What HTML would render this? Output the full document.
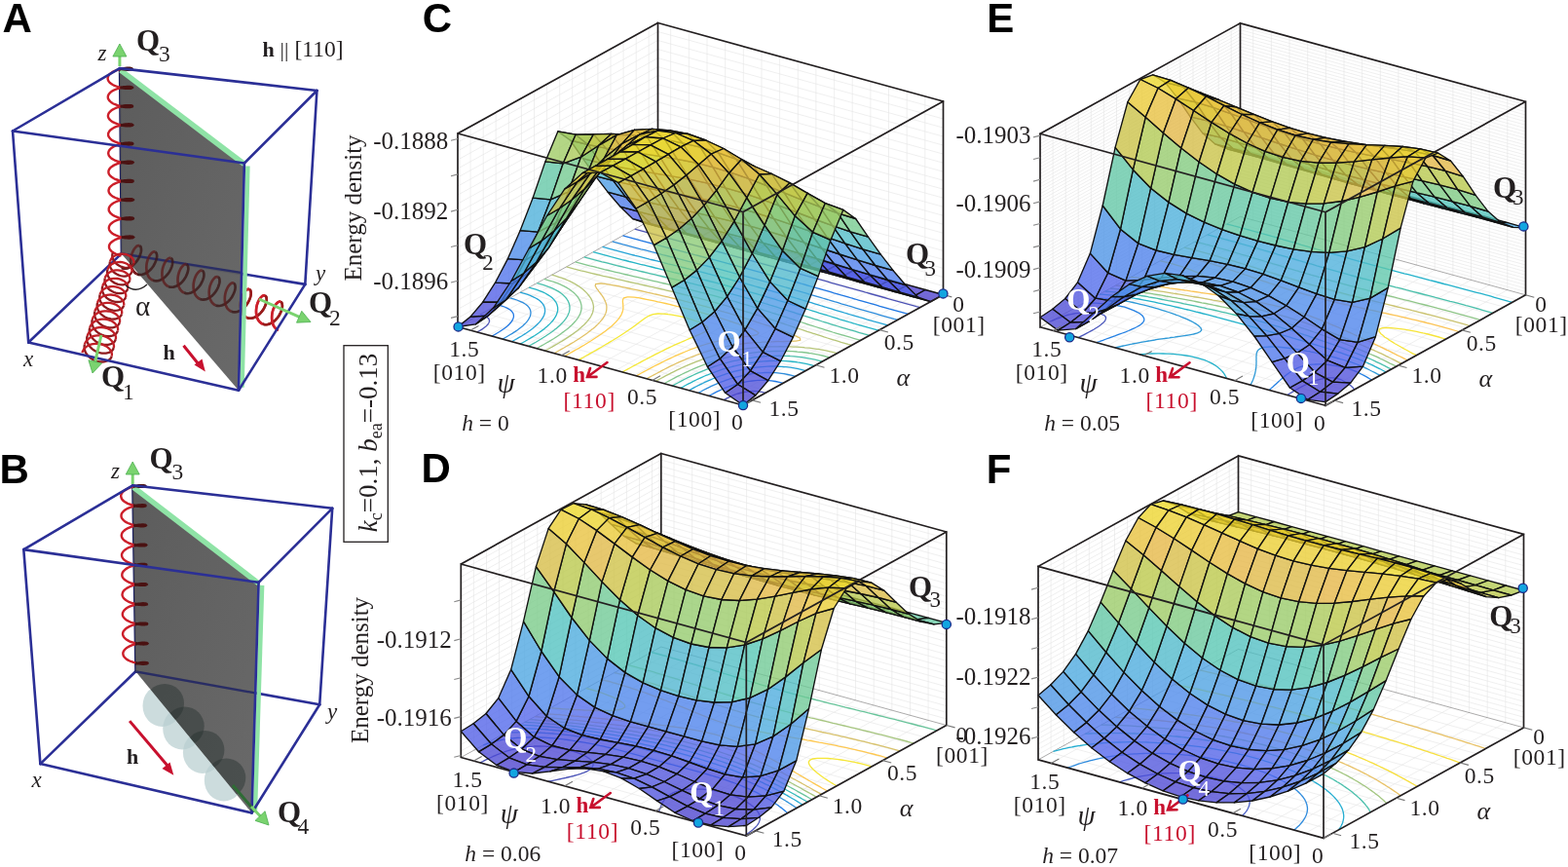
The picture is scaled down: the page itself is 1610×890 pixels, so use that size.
<!DOCTYPE html>
<html><head><meta charset="utf-8"><title>Energy density landscapes</title><style>html,body{margin:0;padding:0;background:#fff;overflow:hidden;}svg{display:block;}</style></head><body>
<svg width="1610" height="890" viewBox="0 0 1610 890">
<rect width="1610" height="890" fill="#fff"/>
<path d="M744.3,410.9L949.8,297.4M725.7,405.8L931.2,292.3M707.0,400.6L912.5,287.1M688.4,395.5L893.9,282.0M669.7,390.4L875.2,276.9M651.1,385.3L856.6,271.8M632.4,380.1L837.9,266.6M613.8,375.0L819.3,261.5M595.1,369.9L800.6,256.4M576.5,364.8L782.0,251.3M557.8,359.6L763.3,246.1M539.2,354.5L744.7,241.0M520.5,349.4L726.0,235.9M501.9,344.3L707.4,230.8M483.2,339.1L688.7,225.6M776.1,408.8L483.1,328.3M789.2,401.5L496.2,321.0M802.2,394.3L509.2,313.8M815.3,387.1L522.3,306.6M828.4,379.9L535.4,299.4M841.5,372.6L548.5,292.1M854.6,365.4L561.6,284.9M867.7,358.2L574.7,277.7M880.7,351.0L587.7,270.5M893.8,343.7L600.8,263.2M906.9,336.5L613.9,256.0M920.0,329.3L627.0,248.8M933.1,322.1L640.1,241.6M946.2,314.8L653.2,234.3M959.2,307.6L666.2,227.1M483.1,328.3L483.1,129.8M496.2,321.0L496.2,122.5M509.2,313.8L509.2,115.3M522.3,306.6L522.3,108.1M535.4,299.4L535.4,100.9M548.5,292.1L548.5,93.6M561.6,284.9L561.6,86.4M574.7,277.7L574.7,79.2M587.7,270.5L587.7,72.0M600.8,263.2L600.8,64.7M613.9,256.0L613.9,57.5M627.0,248.8L627.0,50.3M640.1,241.6L640.1,43.1M653.2,234.3L653.2,35.8M666.2,227.1L666.2,28.6M470.0,326.5L675.5,213.0M470.0,317.5L675.5,204.0M470.0,308.4L675.5,194.9M470.0,299.4L675.5,185.9M470.0,290.4L675.5,176.9M470.0,281.4L675.5,167.9M470.0,272.3L675.5,158.8M470.0,263.3L675.5,149.8M470.0,254.3L675.5,140.8M470.0,245.3L675.5,131.8M470.0,236.2L675.5,122.8M470.0,227.2L675.5,113.7M470.0,218.2L675.5,104.7M470.0,209.2L675.5,95.7M470.0,200.2L675.5,86.7M470.0,191.1L675.5,77.6M470.0,182.1L675.5,68.6M470.0,173.1L675.5,59.6M470.0,164.1L675.5,50.6M470.0,155.0L675.5,41.5M470.0,146.0L675.5,32.5M949.8,297.4L949.8,98.9M931.2,292.3L931.2,93.8M912.5,287.1L912.5,88.6M893.9,282.0L893.9,83.5M875.2,276.9L875.2,78.4M856.6,271.8L856.6,73.3M837.9,266.6L837.9,68.1M819.3,261.5L819.3,63.0M800.6,256.4L800.6,57.9M782.0,251.3L782.0,52.8M763.3,246.1L763.3,47.6M744.7,241.0L744.7,42.5M726.0,235.9L726.0,37.4M707.4,230.8L707.4,32.3M688.7,225.6L688.7,27.1M968.5,293.5L675.5,213.0M968.5,284.5L675.5,204.0M968.5,275.4L675.5,194.9M968.5,266.4L675.5,185.9M968.5,257.4L675.5,176.9M968.5,248.4L675.5,167.9M968.5,239.3L675.5,158.8M968.5,230.3L675.5,149.8M968.5,221.3L675.5,140.8M968.5,212.3L675.5,131.8M968.5,203.2L675.5,122.8M968.5,194.2L675.5,113.7M968.5,185.2L675.5,104.7M968.5,176.2L675.5,95.7M968.5,167.2L675.5,86.7M968.5,158.1L675.5,77.6M968.5,149.1L675.5,68.6M968.5,140.1L675.5,59.6M968.5,131.1L675.5,50.6M968.5,122.0L675.5,41.5M968.5,113.0L675.5,32.5" stroke="#e4e4e4" stroke-width="0.6" fill="none"/>
<path d="M470.0,335.5L675.5,222.0M675.5,222.0L968.5,302.5" stroke="#231f20" stroke-width="0.96" fill="none" stroke-opacity="0.4"/>
<path d="M675.5,23.5L675.5,133.9" stroke="#231f20" stroke-width="1.7" fill="none"/>
<path d="M489.8,340.9L492.4,339.5L494.8,338.1L497.0,336.5L499.0,335.0L500.0,334.1L500.7,333.3L501.9,331.5L502.6,329.6L502.6,329.6L501.9,327.3L501.8,327.0L499.6,325.2L496.5,323.9L493.0,322.8M786.0,403.3L782.2,402.4L777.9,401.7L772.8,401.5L772.2,401.5L766.4,402.1L766.3,402.1L762.0,403.0L758.0,404.0L756.3,404.5L754.5,405.2L751.4,406.4L748.5,407.8L745.8,409.1L743.2,410.6M651.7,235.2L655.3,236.2L659.0,237.2L662.7,238.2L666.3,239.2L670.0,240.2L673.7,241.2L677.4,242.2L681.0,243.2L684.7,244.2L688.4,245.2L692.1,246.2L695.8,247.2L699.4,248.2L703.1,249.1L706.8,250.1L710.5,251.1L714.2,252.1L717.9,253.1L721.6,254.1L725.2,255.1L728.9,256.1L732.6,257.1L736.3,258.1L740.0,259.1L743.7,260.1L747.4,261.1L751.0,262.1L754.7,263.1L758.4,264.1L762.1,265.1L765.8,266.1L769.4,267.1L773.1,268.1L776.8,269.1L780.5,270.1L784.1,271.1L787.8,272.1L791.5,273.1L795.1,274.1L798.8,275.1L802.4,276.1L806.1,277.1L809.8,278.1L813.4,279.1L817.1,280.1L820.7,281.1L824.4,282.1L828.0,283.2L831.7,284.2L835.3,285.2L839.0,286.2L842.6,287.2L846.3,288.2L849.9,289.2L853.5,290.3L857.2,291.3L860.8,292.3L864.5,293.3L868.1,294.3L871.7,295.4L875.4,296.4L879.0,297.4L882.7,298.4L886.3,299.4L889.9,300.5L893.6,301.5L897.2,302.5L900.9,303.5L904.5,304.5L908.1,305.5L911.8,306.6L915.4,307.6L919.1,308.6L922.7,309.6L926.4,310.6L930.0,311.6L933.7,312.6L937.4,313.6L941.0,314.7L944.7,315.7" stroke="#4d53b5" stroke-width="1.3" fill="none"/>
<path d="M505.0,345.1L507.5,343.7L510.0,342.2L512.5,340.8L514.8,339.3L517.0,337.8L519.1,336.2L521.0,334.7L521.3,334.4L522.8,333.0L524.3,331.3L525.6,329.5L526.2,328.7L526.6,327.7L527.3,325.7L527.4,325.0L527.4,323.6L527.1,322.1L526.7,321.3L525.7,319.9L524.4,318.6L523.7,318.0L521.0,316.4L518.0,315.0L514.6,313.9L511.0,312.8M804.0,393.3L800.3,392.4L796.3,391.5L792.1,390.9L787.4,390.4L785.7,390.4L782.1,390.3L778.3,390.4L776.1,390.6L772.4,391.0L769.2,391.4L767.4,391.7L762.9,392.6L760.6,393.1L758.7,393.6L754.9,394.7L751.3,395.8L748.3,396.8L747.9,397.0L744.7,398.2L741.7,399.5L738.8,400.8L736.0,402.2L733.2,403.6L730.6,405.0L728.0,406.4M639.5,241.9L643.1,242.9L646.8,243.9L650.5,244.9L654.2,245.9L657.8,246.9L658.7,247.1L661.5,247.9L665.2,248.9L668.9,249.9L672.6,250.8L676.3,251.8L680.0,252.8L683.8,253.8L687.5,254.8L691.2,255.7L694.9,256.7L698.6,257.7L702.4,258.7L706.1,259.6L709.8,260.6L713.5,261.6L717.3,262.5L721.0,263.5L724.7,264.5L728.4,265.5L732.1,266.4L735.9,267.4L739.6,268.4L743.3,269.4L747.0,270.4L750.7,271.3L754.4,272.3L758.1,273.3L761.8,274.3L765.5,275.3L769.2,276.3L772.8,277.3L776.5,278.3L780.2,279.3L783.9,280.3L787.5,281.3L791.2,282.3L794.8,283.3L798.5,284.3L802.1,285.3L805.8,286.4L809.4,287.4L813.1,288.4L816.7,289.4L820.3,290.4L823.9,291.5L827.6,292.5L831.2,293.5L834.8,294.6L838.4,295.6L842.0,296.6L845.6,297.7L849.2,298.7L852.8,299.7L856.4,300.8L860.0,301.8L863.6,302.9L867.2,303.9L870.8,304.9L874.4,306.0L878.0,307.0L881.6,308.1L885.3,309.1L888.9,310.1L892.5,311.2L896.1,312.2L899.7,313.2L903.3,314.3L907.0,315.3L910.6,316.3L913.3,317.1L914.2,317.3L917.9,318.4L921.5,319.4L925.2,320.4L928.8,321.4L932.5,322.4" stroke="#2078e4" stroke-width="1.3" fill="none"/>
<path d="M516.0,348.1L518.5,346.7L521.0,345.3L523.5,343.8L525.9,342.4L528.2,340.9L530.5,339.4L532.6,337.8L534.7,336.3L535.2,335.8L536.6,334.7L538.3,333.0L540.0,331.4L541.5,329.6L541.8,329.2L542.7,327.9L543.7,326.0L544.3,324.8L544.5,324.1L544.9,322.1L545.0,321.3L544.9,320.0L544.6,318.5L544.3,317.7L543.5,316.1L542.7,315.1L541.8,314.0L539.6,312.2L539.2,312.0L536.9,310.7L534.0,309.3L530.7,308.0L527.3,306.9L523.7,305.9M816.7,386.4L813.0,385.4L809.1,384.5L805.0,383.7L800.6,383.1L796.5,382.7L795.9,382.7L790.8,382.5L787.9,382.5L785.2,382.5L781.2,382.8L779.0,382.9L775.4,383.3L772.1,383.7L770.3,384.0L765.6,384.8L764.0,385.1L761.2,385.8L757.1,386.8L754.2,387.5L753.2,387.8L749.5,388.9L746.0,390.1L742.7,391.3L740.3,392.2L739.4,392.5L736.3,393.8L733.3,395.1L730.4,396.4L727.6,397.8L724.9,399.2L722.2,400.5L719.6,402.0L717.0,403.4M628.7,247.9L632.3,248.9L636.0,249.9L639.7,250.9L643.4,251.8L647.1,252.8L650.8,253.8L654.5,254.8L658.2,255.8L661.9,256.7L665.7,257.7L669.4,258.7L673.2,259.6L676.0,260.4L676.9,260.6L680.6,261.6L684.4,262.5L688.1,263.5L691.9,264.4L695.7,265.4L699.4,266.3L703.2,267.3L706.9,268.3L710.7,269.2L714.4,270.2L718.2,271.1L721.9,272.1L725.7,273.0L729.4,274.0L733.2,275.0L736.9,275.9L740.6,276.9L744.3,277.9L748.0,278.9L751.8,279.8L755.5,280.8L759.2,281.8L762.9,282.8L766.5,283.8L770.2,284.8L773.9,285.8L777.6,286.8L781.2,287.8L784.9,288.8L788.5,289.8L792.2,290.9L795.8,291.9L799.4,292.9L803.0,293.9L806.6,295.0L810.3,296.0L813.9,297.0L817.5,298.1L821.1,299.1L824.6,300.2L828.2,301.2L831.8,302.3L835.4,303.3L839.0,304.4L842.5,305.4L846.1,306.5L849.7,307.5L853.2,308.6L856.8,309.7L860.4,310.7L863.9,311.8L867.5,312.8L871.1,313.9L874.7,314.9L875.5,315.2L878.3,316.0L881.8,317.0L885.4,318.1L889.0,319.1L892.6,320.2L896.2,321.2L899.8,322.2L903.5,323.3L907.1,324.3L910.7,325.3L914.4,326.3L918.0,327.4L921.7,328.4" stroke="#2f8ddc" stroke-width="1.3" fill="none"/>
<path d="M525.4,350.7L528.0,349.3L530.5,347.9L533.0,346.4L535.5,345.0L537.8,343.5L538.4,343.1L540.2,342.0L542.4,340.5L544.5,339.0L546.6,337.4L548.6,335.8L550.4,334.2L552.2,332.6L552.3,332.4L553.8,330.9L555.2,329.2L556.5,327.4L556.9,326.9L557.6,325.6L558.6,323.7L558.9,322.7L559.2,321.8L559.6,319.7L559.6,319.3L559.5,317.6L559.4,316.4L559.1,315.4L558.5,313.9L557.9,312.9L557.1,311.6L555.8,310.2L555.2,309.6L553.0,307.8L551.6,306.9L550.5,306.2L547.6,304.8L544.5,303.4L541.2,302.2L537.7,301.1L534.1,300.1M827.1,380.6L823.4,379.6L819.5,378.7L815.5,377.9L811.3,377.2L806.8,376.6L804.7,376.5L802.1,376.3L797.0,376.0L795.4,376.0L791.5,376.0L788.1,376.2L785.6,376.3L781.8,376.6L779.1,376.8L776.2,377.1L772.0,377.7L771.0,377.8L766.3,378.7L764.0,379.1L761.8,379.6L757.6,380.5L754.7,381.2L753.5,381.5L749.7,382.6L746.0,383.7L742.8,384.8L742.5,384.9L739.1,386.1L735.8,387.3L732.6,388.5L729.6,389.8L726.6,391.1L723.7,392.4L721.6,393.5L720.8,393.8L718.1,395.2L715.4,396.5L712.7,397.9L710.1,399.4L707.6,400.8M618.6,253.4L622.3,254.4L625.9,255.4L629.6,256.4L633.3,257.4L637.0,258.4L640.8,259.4L644.5,260.3L648.2,261.3L651.0,262.0L652.0,262.3L655.7,263.2L659.5,264.2L663.2,265.1L667.0,266.1L670.8,267.0L674.6,267.9L678.4,268.9L682.1,269.8L685.9,270.8L689.7,271.7L693.5,272.6L697.3,273.6L701.1,274.5L704.8,275.5L708.6,276.4L712.4,277.3L716.2,278.3L719.9,279.2L723.7,280.2L727.4,281.2L731.2,282.1L734.9,283.1L738.7,284.0L742.4,285.0L743.9,285.4L746.1,286.0L749.8,287.0L753.5,288.0L757.2,288.9L760.9,289.9L764.6,290.9L768.2,291.9L771.9,292.9L775.6,294.0L779.2,295.0L782.8,296.0L786.4,297.0L790.1,298.1L792.2,298.7L793.7,299.1L797.3,300.1L800.9,301.2L804.4,302.2L808.0,303.3L811.6,304.3L815.2,305.4L818.7,306.5L822.3,307.5L825.8,308.6L829.4,309.7L832.9,310.7L836.5,311.8L840.0,312.9L843.5,314.0L847.1,315.0L850.6,316.1L854.2,317.2L857.7,318.3L861.2,319.3L864.8,320.4L868.3,321.5L871.9,322.5L875.5,323.6L879.0,324.6L880.0,324.9L882.6,325.7L886.2,326.7L889.8,327.8L893.4,328.8L897.0,329.9L900.7,330.9L904.3,331.9L907.9,332.9L911.6,333.9" stroke="#26a4d6" stroke-width="1.3" fill="none"/>
<path d="M534.2,353.1L536.7,351.7L539.3,350.3L541.8,348.8L544.2,347.4L546.7,345.9L549.0,344.5L551.3,343.0L553.5,341.5L555.7,339.9L557.0,338.9L557.8,338.4L559.7,336.8L561.6,335.2L563.4,333.6L565.1,331.9L566.0,330.9L566.7,330.2L568.1,328.5L569.4,326.7L570.0,325.7L570.5,324.9L571.4,323.0L571.9,321.6L572.1,321.1L572.6,319.1L572.7,318.2L572.7,317.0L572.6,315.2L572.5,314.8L571.9,312.5L571.9,312.5L570.8,310.1L570.7,310.1L569.2,308.0L568.6,307.4L567.3,306.0L565.2,304.3L565.1,304.2L562.5,302.6L559.8,301.0L558.0,300.2L556.8,299.7L553.6,298.4L550.3,297.2L546.7,296.1L543.1,295.1M836.1,375.6L832.4,374.6L828.6,373.7L824.7,372.9L820.5,372.1L818.9,371.9L816.2,371.5L811.6,371.0L806.8,370.6L806.6,370.6L801.7,370.4L798.0,370.4L796.3,370.4L790.7,370.5L790.5,370.5L784.4,370.9L784.3,370.9L778.6,371.4L777.7,371.5L773.3,372.1L770.4,372.5L768.3,372.8L763.6,373.7L762.4,373.9L759.2,374.6L755.0,375.6L753.1,376.0L751.0,376.6L747.1,377.6L743.4,378.7L741.8,379.2L739.8,379.9L736.4,381.1L733.0,382.3L729.8,383.5L726.6,384.8L725.5,385.2L723.5,386.0L720.6,387.3L717.7,388.7L714.8,390.0L712.0,391.4L709.3,392.8L706.6,394.1L704.0,395.5L701.4,397.0L698.8,398.4M609.0,258.7L612.7,259.7L616.4,260.7L620.0,261.7L623.8,262.7L627.5,263.7L631.2,264.6L634.9,265.6L638.7,266.6L642.5,267.5L646.2,268.5L650.0,269.4L653.8,270.3L657.6,271.3L661.4,272.2L665.2,273.1L669.0,274.0L672.8,275.0L676.6,275.9L680.5,276.8L684.3,277.7L688.1,278.7L690.8,279.3L691.9,279.6L695.7,280.5L699.5,281.4L703.3,282.4L707.1,283.3L710.9,284.2L714.7,285.2L718.5,286.1L722.2,287.1L726.0,288.0L729.7,289.0L733.5,289.9L737.2,290.9L740.9,291.9L744.6,292.9L748.3,293.8L752.0,294.8L755.7,295.8L759.4,296.8L763.0,297.8L766.7,298.9L770.3,299.9L773.9,300.9L777.6,301.9L781.2,303.0L784.8,304.0L788.3,305.1L791.9,306.1L795.5,307.2L799.0,308.3L802.6,309.3L806.1,310.4L809.7,311.5L813.2,312.6L816.7,313.6L820.2,314.7L823.8,315.8L824.8,316.1L827.3,316.9L830.8,318.0L834.3,319.1L837.8,320.2L841.3,321.3L844.8,322.3L848.3,323.4L851.9,324.5L855.4,325.6L858.9,326.7L862.4,327.8L866.0,328.8L869.5,329.9L873.1,331.0L876.7,332.0L880.3,333.1L883.9,334.1L887.5,335.1L891.1,336.2L894.7,337.2L898.3,338.2L902.0,339.2" stroke="#26b5c6" stroke-width="1.3" fill="none"/>
<path d="M542.6,355.4L545.2,354.0L547.7,352.6L550.2,351.2L552.7,349.7L555.1,348.3L557.5,346.8L559.9,345.3L562.1,343.8L564.4,342.3L566.5,340.8L568.6,339.2L570.6,337.6L571.2,337.2L572.5,336.0L574.3,334.4L576.1,332.8L577.7,331.1L578.7,330.0L579.2,329.4L580.6,327.6L581.8,325.8L582.3,325.0L582.9,324.0L583.7,322.1L584.2,320.9L584.4,320.2L584.9,318.2L584.9,317.5L585.0,316.1L584.9,314.4L584.9,314.0L584.4,311.7L584.4,311.7L583.4,309.3L583.4,309.2L582.0,307.0L581.9,306.7L580.3,304.9L579.4,304.0L578.4,302.9L576.2,301.1L575.7,300.8L573.7,299.4L571.0,297.9L569.0,296.8L568.2,296.4L565.1,295.1L561.8,293.9L558.4,292.7L554.9,291.6L551.3,290.6M844.3,371.1L840.6,370.1L836.8,369.2L832.9,368.3L828.8,367.6L824.5,366.9L823.3,366.7L820.1,366.3L815.4,365.8L811.4,365.6L810.6,365.5L805.4,365.3L802.5,365.3L800.1,365.2L795.0,365.3L794.4,365.3L788.5,365.6L788.3,365.6L782.2,366.0L782.2,366.0L776.5,366.6L775.4,366.7L771.3,367.3L768.1,367.8L766.3,368.0L761.6,368.9L760.0,369.2L757.2,369.8L752.9,370.7L750.8,371.2L748.8,371.7L744.9,372.8L741.1,373.9L739.8,374.3L737.5,375.0L734.0,376.2L730.6,377.3L727.3,378.6L725.0,379.4L724.0,379.8L720.9,381.1L717.9,382.4L714.9,383.7L712.0,385.0L709.1,386.3L706.3,387.7L703.6,389.0L700.9,390.4L698.2,391.8L695.6,393.2L693.0,394.6L690.4,396.1M599.7,263.8L603.4,264.8L607.1,265.8L610.8,266.8L614.5,267.8L618.2,268.8L622.0,269.7L625.8,270.7L629.5,271.6L633.3,272.6L637.1,273.5L640.9,274.4L644.7,275.4L648.5,276.3L650.7,276.8L652.4,277.2L656.2,278.1L660.0,279.0L663.9,279.9L667.7,280.8L671.5,281.7L675.4,282.6L679.2,283.5L683.1,284.5L686.9,285.4L690.7,286.3L694.6,287.2L698.4,288.1L702.2,289.0L706.0,290.0L709.6,290.8L709.8,290.9L713.6,291.8L717.4,292.8L721.1,293.7L724.9,294.7L728.6,295.6L732.4,296.6L736.1,297.6L739.8,298.6L743.5,299.6L747.2,300.6L750.8,301.6L754.5,302.6L758.1,303.6L761.8,304.6L765.4,305.6L769.0,306.7L772.6,307.7L776.2,308.8L779.7,309.8L783.3,310.9L786.8,312.0L790.4,313.0L790.6,313.1L793.9,314.1L797.4,315.2L800.9,316.3L804.4,317.4L807.9,318.5L811.4,319.6L814.9,320.7L818.4,321.8L821.9,322.9L825.4,324.0L828.9,325.1L832.3,326.2L835.8,327.3L839.3,328.4L842.8,329.5L844.3,330.0L846.3,330.6L849.8,331.7L853.3,332.8L856.8,333.9L860.4,335.0L863.9,336.0L867.5,337.1L871.0,338.2L874.6,339.2L878.2,340.2L881.8,341.3L885.5,342.3L889.1,343.3L892.7,344.3" stroke="#4bc0ac" stroke-width="1.3" fill="none"/>
<path d="M551.0,357.8L553.6,356.3L556.1,354.9L558.6,353.5L561.1,352.0L563.6,350.6L566.0,349.1L566.1,349.1L568.4,347.7L570.7,346.2L573.0,344.7L575.2,343.2L577.3,341.6L579.4,340.1L581.5,338.5L583.4,336.9L584.8,335.7L585.3,335.3L587.0,333.7L588.7,332.0L590.3,330.3L591.3,329.1L591.7,328.6L593.0,326.8L594.2,325.0L594.6,324.2L595.2,323.2L596.0,321.3L596.3,320.3L596.6,319.3L597.0,317.3L597.0,316.9L597.1,315.2L597.0,313.8L596.9,313.0L596.4,311.1L596.3,310.7L595.5,308.6L595.4,308.3L594.2,306.3L593.9,305.8L592.7,304.1L591.8,303.1L590.9,302.1L588.9,300.2L588.8,300.2L586.6,298.4L584.4,296.8L584.2,296.7L581.6,295.1L578.8,293.6L576.6,292.6L575.8,292.2L572.7,290.9L569.4,289.7L566.0,288.5L562.5,287.5L558.8,286.4M851.8,366.9L848.1,366.0L844.4,365.0L840.5,364.1L836.4,363.3L832.2,362.6L831.0,362.5L827.8,362.0L823.3,361.5L818.6,361.1L818.1,361.0L813.7,360.7L808.6,360.5L808.5,360.5L803.3,360.4L800.5,360.4L797.8,360.5L793.2,360.6L792.0,360.6L786.6,360.9L785.9,360.9L780.5,361.3L779.6,361.4L774.8,361.9L772.8,362.1L769.5,362.6L765.5,363.1L764.5,363.3L759.7,364.1L757.5,364.5L755.2,365.0L750.9,365.9L748.4,366.5L746.7,366.9L742.7,367.9L738.9,369.0L737.8,369.4L735.2,370.1L731.6,371.3L728.2,372.4L724.8,373.6L724.0,373.9L721.5,374.9L718.3,376.1L715.2,377.4L712.2,378.7L709.2,380.0L706.3,381.3L703.4,382.6L700.6,384.0L697.9,385.3L697.8,385.3L695.1,386.7L692.4,388.1L689.8,389.5L687.2,390.9L684.6,392.3L682.0,393.7M590.7,268.8L594.4,269.8L598.1,270.8L601.8,271.8L605.5,272.8L609.3,273.7L613.0,274.7L616.8,275.6L620.6,276.6L624.4,277.5L628.2,278.4L632.0,279.3L635.9,280.2L639.7,281.1L643.6,282.0L647.4,282.9L651.3,283.8L655.1,284.7L659.0,285.6L662.9,286.5L663.0,286.6L666.7,287.4L670.6,288.3L674.5,289.2L678.3,290.1L682.2,291.0L686.1,291.9L689.9,292.8L693.7,293.7L697.6,294.6L701.4,295.6L705.2,296.5L709.0,297.4L712.8,298.4L716.5,299.3L720.3,300.3L724.0,301.2L726.3,301.8L727.7,302.2L731.5,303.2L735.2,304.2L738.8,305.1L742.5,306.2L746.2,307.2L749.8,308.2L753.4,309.2L757.0,310.2L758.4,310.6L760.6,311.3L764.2,312.3L767.8,313.4L771.4,314.5L774.9,315.5L778.4,316.6L781.9,317.7L785.5,318.8L789.0,319.9L792.4,321.0L795.9,322.1L799.4,323.2L802.9,324.3L806.3,325.4L809.8,326.5L813.2,327.7L816.6,328.7L816.7,328.8L820.2,329.9L823.6,331.0L827.1,332.1L830.5,333.3L834.0,334.4L837.5,335.5L841.0,336.6L844.5,337.7L848.0,338.8L851.5,339.9L855.0,341.0L858.5,342.0L862.1,343.1L865.7,344.2L869.2,345.2L872.8,346.2L876.5,347.3L880.1,348.3L883.7,349.3" stroke="#84c68e" stroke-width="1.3" fill="none"/>
<path d="M559.7,360.1L562.2,358.7L564.8,357.3L567.3,355.9L569.8,354.4L572.3,353.0L574.7,351.5L577.1,350.1L579.5,348.6L581.8,347.1L584.1,345.6L586.3,344.1L587.2,343.5L588.5,342.6L590.6,341.0L592.7,339.5L594.6,337.9L596.5,336.3L598.4,334.6L599.3,333.8L600.1,333.0L601.7,331.3L603.2,329.6L604.6,327.9L604.7,327.7L605.9,326.1L607.0,324.3L607.5,323.1L607.9,322.4L608.6,320.5L608.9,319.3L609.1,318.5L609.4,316.4L609.4,316.1L609.4,314.3L609.2,313.1L609.0,312.1L608.6,310.5L608.3,309.8L607.6,308.0L607.3,307.3L606.3,305.7L605.7,304.8L604.7,303.5L603.6,302.1L603.0,301.4L601.1,299.4L600.9,299.2L599.1,297.5L597.3,296.1L596.8,295.7L594.5,294.0L592.3,292.6L591.9,292.4L589.3,290.8L586.5,289.4L583.9,288.2L583.5,288.0L580.4,286.6L577.1,285.4L573.7,284.3L570.2,283.2L566.5,282.2M859.5,362.7L855.8,361.7L852.1,360.8L848.1,359.9L844.1,359.1L839.9,358.4L839.1,358.3L835.5,357.8L831.0,357.2L826.3,356.8L825.7,356.7L821.5,356.4L816.6,356.1L815.5,356.1L811.5,355.9L806.8,355.8L806.2,355.8L800.8,355.7L798.9,355.8L795.2,355.8L791.7,355.9L789.4,356.0L785.0,356.2L783.4,356.3L778.8,356.6L777.0,356.7L773.0,357.1L770.4,357.4L767.5,357.7L763.2,358.3L762.3,358.5L757.4,359.2L755.4,359.6L752.8,360.1L748.4,361.0L746.7,361.4L744.2,362.0L740.1,363.0L736.6,364.0L736.3,364.0L732.5,365.1L728.9,366.3L725.4,367.4L723.8,368.0L722.0,368.6L718.7,369.8L715.4,371.1L712.3,372.3L709.2,373.6L706.2,374.9L704.4,375.7L703.2,376.2L700.3,377.5L697.4,378.9L694.6,380.2L691.8,381.6L689.1,382.9L686.4,384.3L683.7,385.7L681.1,387.1L678.5,388.5L675.9,389.9L673.3,391.4M581.6,273.9L585.2,274.9L588.9,275.9L592.7,276.8L596.4,277.8L600.2,278.7L604.0,279.6L607.9,280.6L611.7,281.5L615.6,282.4L619.4,283.3L623.3,284.1L623.5,284.2L627.2,285.0L631.0,285.9L634.9,286.8L638.8,287.7L642.7,288.6L646.6,289.5L650.5,290.3L654.4,291.2L658.3,292.1L662.2,293.0L666.1,293.9L667.9,294.3L669.9,294.7L673.8,295.6L677.7,296.5L681.6,297.4L685.4,298.3L689.3,299.2L693.1,300.1L696.9,301.0L700.7,302.0L704.5,302.9L708.3,303.8L712.1,304.8L715.8,305.7L719.6,306.7L723.3,307.7L727.0,308.7L730.7,309.7L734.3,310.7L738.0,311.7L741.6,312.7L745.3,313.7L748.9,314.8L752.4,315.8L756.0,316.9L759.6,317.9L763.1,319.0L766.7,320.1L770.2,321.2L773.7,322.3L777.2,323.4L780.7,324.5L784.1,325.6L787.6,326.7L791.0,327.8L794.5,328.9L796.2,329.5L797.9,330.1L801.3,331.2L804.8,332.3L808.2,333.5L811.6,334.6L815.1,335.8L818.5,336.9L821.9,338.0L825.4,339.1L828.8,340.3L832.3,341.4L835.6,342.5L835.7,342.5L839.2,343.6L842.6,344.7L846.1,345.9L849.6,347.0L853.1,348.1L856.6,349.2L860.1,350.2L863.7,351.3L867.3,352.3L870.9,353.4L874.6,354.4" stroke="#b7c579" stroke-width="1.3" fill="none"/>
<path d="M569.0,362.7L571.5,361.3L574.1,359.8L576.6,358.4L578.2,357.5L579.1,357.0L581.6,355.5L584.1,354.1L586.5,352.6L589.0,351.2L591.3,349.7L593.7,348.2L596.0,346.7L598.2,345.2L600.4,343.7L602.6,342.2L604.7,340.6L606.7,339.1L607.9,338.1L608.7,337.5L610.6,335.9L612.4,334.3L614.1,332.6L615.7,330.9L616.0,330.6L617.2,329.2L618.6,327.5L619.8,325.7L620.0,325.4L620.9,323.8L621.7,322.0L622.0,321.2L622.4,320.0L622.8,318.0L622.8,317.7L622.9,315.9L622.9,314.7L622.8,313.7L622.4,311.9L622.3,311.5L621.5,309.4L621.4,309.1L620.3,307.0L620.2,306.6L619.0,304.7L618.6,304.1L617.5,302.5L616.7,301.5L615.9,300.3L614.7,298.8L614.3,298.2L612.6,296.1L612.6,296.1L611.4,293.8L611.2,293.6L611.6,291.6L616.4,291.0L617.2,291.0L621.1,291.4L625.4,292.1L629.7,292.8L633.8,293.5L635.1,293.7L637.8,294.3L641.8,295.1L645.8,296.0L649.7,296.8L653.7,297.7L657.6,298.5L661.5,299.4L665.4,300.3L669.3,301.1L671.2,301.6L673.2,302.0L677.1,302.9L681.0,303.8L684.8,304.7L688.6,305.6L692.5,306.5L696.3,307.5L700.0,308.4L703.8,309.3L707.6,310.3L711.3,311.3L715.1,312.2L718.8,313.2L722.5,314.2L726.2,315.2L729.8,316.2L733.4,317.2L737.0,318.3L740.6,319.3L744.2,320.4L747.8,321.4L751.3,322.5L754.9,323.6L758.4,324.6L761.9,325.7L765.4,326.8L768.9,327.9L772.3,329.1L775.8,330.2L777.5,330.8L779.2,331.3L782.6,332.5L786.1,333.6L789.5,334.7L792.9,335.9L796.2,337.1L799.6,338.2L803.0,339.4L806.3,340.6L808.6,341.4L809.6,341.8L812.8,343.1L815.9,344.4L818.9,345.8L821.3,347.0L821.5,347.4L821.7,349.3L817.0,350.1L816.5,350.1L810.5,350.4L810.4,350.4L804.8,350.5L803.3,350.6L799.1,350.6L796.1,350.7L793.3,350.8L789.1,350.9L787.5,351.0L782.4,351.2L781.5,351.3L776.0,351.6L775.3,351.6L770.0,352.1L768.9,352.2L764.4,352.6L762.0,352.9L759.0,353.3L754.7,354.0L754.0,354.1L749.3,354.9L746.5,355.4L744.8,355.8L740.6,356.7L737.2,357.6L736.5,357.7L732.6,358.8L728.8,359.9L725.8,360.8L725.2,361.0L721.7,362.2L718.2,363.3L714.9,364.5L711.7,365.8L710.4,366.3L708.5,367.0L705.4,368.3L702.4,369.6L699.4,370.9L696.4,372.2L693.5,373.5L690.7,374.9L687.9,376.2L685.1,377.6L682.4,379.0L679.7,380.4L677.0,381.8L674.4,383.2L673.5,383.7L671.8,384.6L669.2,386.0L666.6,387.4L664.0,388.8" stroke="#e2c267" stroke-width="1.3" fill="none"/>
<path d="M579.6,365.6L582.2,364.2L584.8,362.8L587.3,361.4L589.8,359.9L592.4,358.5L594.9,357.1L597.3,355.6L599.8,354.2L602.2,352.7L604.6,351.2L607.0,349.8L609.3,348.3L611.6,346.8L613.9,345.3L616.1,343.8L618.3,342.2L620.4,340.7L622.5,339.2L622.6,339.1L624.5,337.6L626.5,336.0L628.4,334.4L630.1,332.8L631.8,331.1L632.1,330.8L633.4,329.4L634.9,327.7L636.2,325.9L636.6,325.2L637.4,324.1L638.3,322.3L638.8,321.0L639.1,320.3L639.6,318.4L639.7,317.5L639.9,316.3L639.8,314.4L639.8,314.2L639.7,312.0L639.6,311.5L639.4,309.8L639.5,308.5L639.5,307.7L640.5,305.9L644.2,304.8L646.2,304.8L651.1,305.2L655.3,305.7L655.5,305.7L659.7,306.5L663.7,307.3L667.7,308.1L671.7,308.9L675.6,309.8L679.5,310.6L683.4,311.5L687.3,312.4L689.7,313.0L691.1,313.3L694.9,314.3L698.7,315.2L702.5,316.1L706.3,317.1L710.0,318.0L713.7,319.0L717.4,320.0L721.1,321.0L724.7,322.1L728.3,323.1L731.8,324.2L735.3,325.3L738.9,326.3L742.4,327.4L743.7,327.8L745.9,328.5L749.3,329.6L752.8,330.8L756.2,331.9L759.6,333.1L763.0,334.2L766.3,335.4L769.6,336.7L772.7,337.9L772.9,338.0L775.6,339.4L778.1,341.0L778.9,341.8L777.5,343.5L773.4,344.5L771.4,344.7L768.2,345.2L764.2,345.7L762.9,345.9L757.6,346.5L757.0,346.6L752.4,347.2L749.6,347.7L747.5,348.0L742.9,348.9L741.4,349.2L738.5,349.8L734.3,350.8L731.9,351.4L730.4,351.8L726.5,352.9L722.9,354.0L720.0,354.9L719.3,355.1L715.9,356.3L712.5,357.5L709.3,358.7L706.1,360.0L703.1,361.2L703.0,361.3L699.9,362.6L696.9,363.9L693.9,365.2L691.0,366.5L688.2,367.8L685.3,369.2L682.5,370.5L679.8,371.9L677.0,373.3L674.3,374.6L671.6,376.0L669.0,377.4L666.3,378.8L663.7,380.2L661.1,381.6L658.5,383.0L655.9,384.5L653.4,385.9" stroke="#fecc4d" stroke-width="1.3" fill="none"/>
<path d="M593.9,369.6L596.5,368.1L599.1,366.7L601.6,365.3L604.2,363.9L606.7,362.4L609.3,361.0L611.8,359.6L614.3,358.1L616.8,356.7L619.3,355.3L621.7,353.8L624.2,352.4L626.6,350.9L629.0,349.5L631.4,348.0L633.8,346.5L636.2,345.0L638.5,343.5L640.8,342.0L643.0,340.5L645.2,339.0L647.4,337.5L647.5,337.4L649.6,336.0L651.7,334.4L653.8,332.9L655.9,331.3L658.0,329.8L660.0,328.2L662.1,326.7L664.4,325.2L667.1,323.8L670.6,322.6L675.5,322.0L675.9,322.0L680.7,322.1L685.5,322.5L685.8,322.6L689.8,323.2L693.9,323.9L697.9,324.7L701.8,325.6L705.5,326.6L709.1,327.6L712.5,328.8L715.9,330.0L719.1,331.2L721.8,332.5L722.1,332.6L724.7,334.2L726.7,335.9L726.7,336.1L726.8,338.1L725.2,339.7L722.7,341.2L719.9,342.5L716.8,343.8L713.7,345.1L710.7,346.4L707.6,347.7L704.6,349.0L701.6,350.3L698.8,351.5L698.6,351.6L695.7,352.9L692.7,354.2L689.9,355.5L687.0,356.9L684.2,358.2L681.4,359.6L678.6,361.0L675.9,362.3L673.2,363.7L670.5,365.1L667.8,366.5L665.1,367.9L662.5,369.3L659.8,370.7L657.2,372.1L654.6,373.5L652.0,374.9L649.4,376.3L646.8,377.7L644.2,379.1L641.6,380.5L639.1,381.9" stroke="#f5e837" stroke-width="1.3" fill="none"/>
<g fill-opacity="0.78" stroke="#111" stroke-width="1.35" stroke-linejoin="round">
<polygon points="681.0,234.1 662.7,229.1 675.5,222.0 693.8,227.0" fill="#4c3fcc"/>
<polygon points="699.3,239.2 681.0,234.1 693.8,227.0 712.1,232.1" fill="#4c3fcc"/>
<polygon points="668.1,229.6 649.8,224.7 662.7,229.1 681.0,234.1" fill="#4d48d3"/>
<polygon points="717.6,244.2 699.3,239.2 712.1,232.1 730.4,237.1" fill="#4c3fcc"/>
<polygon points="686.4,234.5 668.1,229.6 681.0,234.1 699.3,239.2" fill="#4d48d4"/>
<polygon points="735.9,249.2 717.6,244.2 730.4,237.1 748.8,242.1" fill="#4c3fcc"/>
<polygon points="754.2,254.2 735.9,249.2 748.8,242.1 767.1,247.2" fill="#4c3fcc"/>
<polygon points="704.8,239.4 686.4,234.5 699.3,239.2 717.6,244.2" fill="#4d48d4"/>
<polygon points="655.3,217.1 637.0,212.2 649.8,224.7 668.1,229.6" fill="#5161e8"/>
<polygon points="772.5,259.3 754.2,254.2 767.1,247.2 785.4,252.2" fill="#4c3fcc"/>
<polygon points="723.1,244.2 704.8,239.4 717.6,244.2 735.9,249.2" fill="#4d48d4"/>
<polygon points="673.6,221.8 655.3,217.1 668.1,229.6 686.4,234.5" fill="#5161e9"/>
<polygon points="790.8,264.3 772.5,259.3 785.4,252.2 803.7,257.2" fill="#4c3fcc"/>
<polygon points="741.4,249.0 723.1,244.2 735.9,249.2 754.2,254.2" fill="#4d49d4"/>
<polygon points="691.9,226.3 673.6,221.8 686.4,234.5 704.8,239.4" fill="#5162e9"/>
<polygon points="809.2,269.3 790.8,264.3 803.7,257.2 822.0,262.2" fill="#4c3fcc"/>
<polygon points="759.7,253.9 741.4,249.0 754.2,254.2 772.5,259.3" fill="#4d49d4"/>
<polygon points="827.5,274.4 809.2,269.3 822.0,262.2 840.3,267.3" fill="#4c3fcc"/>
<polygon points="710.2,230.7 691.9,226.3 704.8,239.4 723.1,244.2" fill="#5163ea"/>
<polygon points="778.0,258.8 759.7,253.9 772.5,259.3 790.8,264.3" fill="#4d49d4"/>
<polygon points="642.4,202.1 624.1,197.2 637.0,212.2 655.3,217.1" fill="#4d7cec"/>
<polygon points="845.8,279.4 827.5,274.4 840.3,267.3 858.6,272.3" fill="#4c3fcc"/>
<polygon points="796.3,263.8 778.0,258.8 790.8,264.3 809.2,269.3" fill="#4d49d4"/>
<polygon points="728.5,235.2 710.2,230.7 723.1,244.2 741.4,249.0" fill="#5263ea"/>
<polygon points="660.8,206.5 642.4,202.1 655.3,217.1 673.6,221.8" fill="#4d7cec"/>
<polygon points="864.1,284.4 845.8,279.4 858.6,272.3 876.9,277.3" fill="#4c3fcc"/>
<polygon points="814.6,268.8 796.3,263.8 809.2,269.3 827.5,274.4" fill="#4d49d4"/>
<polygon points="746.8,239.7 728.5,235.2 741.4,249.0 759.7,253.9" fill="#5264eb"/>
<polygon points="679.1,210.7 660.8,206.5 673.6,221.8 691.9,226.3" fill="#4d7dec"/>
<polygon points="882.4,289.5 864.1,284.4 876.9,277.3 895.2,282.4" fill="#4c3fcc"/>
<polygon points="832.9,274.0 814.6,268.8 827.5,274.4 845.8,279.4" fill="#4d49d4"/>
<polygon points="765.2,244.4 746.8,239.7 759.7,253.9 778.0,258.8" fill="#5264eb"/>
<polygon points="697.4,214.7 679.1,210.7 691.9,226.3 710.2,230.7" fill="#4d7eec"/>
<polygon points="900.7,294.5 882.4,289.5 895.2,282.4 913.6,287.4" fill="#4c3fcc"/>
<polygon points="851.2,279.2 832.9,274.0 845.8,279.4 864.1,284.4" fill="#4d49d4"/>
<polygon points="629.6,185.4 611.3,180.6 624.1,197.2 642.4,202.1" fill="#4c9ce4"/>
<polygon points="783.5,249.3 765.2,244.4 778.0,258.8 796.3,263.8" fill="#5264eb"/>
<polygon points="715.7,218.7 697.4,214.7 710.2,230.7 728.5,235.2" fill="#4d7fec"/>
<polygon points="919.0,299.5 900.7,294.5 913.6,287.4 931.9,292.4" fill="#4c3fcc"/>
<polygon points="869.6,284.5 851.2,279.2 864.1,284.4 882.4,289.5" fill="#4d49d4"/>
<polygon points="801.8,254.5 783.5,249.3 796.3,263.8 814.6,268.8" fill="#5264eb"/>
<polygon points="647.9,189.6 629.6,185.4 642.4,202.1 660.8,206.5" fill="#4c9de4"/>
<polygon points="734.0,222.9 715.7,218.7 728.5,235.2 746.8,239.7" fill="#4d80ec"/>
<polygon points="937.3,304.6 919.0,299.5 931.9,292.4 950.2,297.5" fill="#4c3fcc"/>
<polygon points="887.9,289.7 869.6,284.5 882.4,289.5 900.7,294.5" fill="#4d48d4"/>
<polygon points="820.1,259.8 801.8,254.5 814.6,268.8 832.9,274.0" fill="#5264eb"/>
<polygon points="666.2,193.3 647.9,189.6 660.8,206.5 679.1,210.7" fill="#4c9ee3"/>
<polygon points="752.3,227.3 734.0,222.9 746.8,239.7 765.2,244.4" fill="#4c81ec"/>
<polygon points="955.7,309.6 937.3,304.6 950.2,297.5 968.5,302.5" fill="#4c3fcc"/>
<polygon points="906.2,294.9 887.9,289.7 900.7,294.5 919.0,299.5" fill="#4d48d4"/>
<polygon points="838.4,265.4 820.1,259.8 832.9,274.0 851.2,279.2" fill="#5264eb"/>
<polygon points="684.5,196.9 666.2,193.3 679.1,210.7 697.4,214.7" fill="#4ca0e3"/>
<polygon points="770.6,232.2 752.3,227.3 765.2,244.4 783.5,249.3" fill="#4c81ec"/>
<polygon points="616.8,167.4 598.4,162.7 611.3,180.6 629.6,185.4" fill="#4fbbc8"/>
<polygon points="924.5,300.1 906.2,294.9 919.0,299.5 937.3,304.6" fill="#4d48d4"/>
<polygon points="856.7,271.0 838.4,265.4 851.2,279.2 869.6,284.5" fill="#5263ea"/>
<polygon points="702.8,200.5 684.5,196.9 697.4,214.7 715.7,218.7" fill="#4ca2e2"/>
<polygon points="788.9,237.4 770.6,232.2 783.5,249.3 801.8,254.5" fill="#4c81ec"/>
<polygon points="942.8,305.2 924.5,300.1 937.3,304.6 955.7,309.6" fill="#4d48d3"/>
<polygon points="635.1,171.3 616.8,167.4 629.6,185.4 647.9,189.6" fill="#4fbcc7"/>
<polygon points="875.0,276.6 856.7,271.0 869.6,284.5 887.9,289.7" fill="#5163ea"/>
<polygon points="721.2,204.2 702.8,200.5 715.7,218.7 734.0,222.9" fill="#4ca4e2"/>
<polygon points="807.2,243.0 788.9,237.4 801.8,254.5 820.1,259.8" fill="#4c81ec"/>
<polygon points="893.3,282.2 875.0,276.6 887.9,289.7 906.2,294.9" fill="#5162e9"/>
<polygon points="653.4,174.7 635.1,171.3 647.9,189.6 666.2,193.3" fill="#50bdc5"/>
<polygon points="739.5,208.4 721.2,204.2 734.0,222.9 752.3,227.3" fill="#4ca5e1"/>
<polygon points="825.6,248.9 807.2,243.0 820.1,259.8 838.4,265.4" fill="#4d80ec"/>
<polygon points="911.7,287.5 893.3,282.2 906.2,294.9 924.5,300.1" fill="#5161e9"/>
<polygon points="671.7,177.8 653.4,174.7 666.2,193.3 684.5,196.9" fill="#50bfc3"/>
<polygon points="843.9,255.0 825.6,248.9 838.4,265.4 856.7,271.0" fill="#4d7fec"/>
<polygon points="757.8,213.2 739.5,208.4 752.3,227.3 770.6,232.2" fill="#4ca6e1"/>
<polygon points="603.9,148.5 585.6,144.0 598.4,162.7 616.8,167.4" fill="#74ca8e"/>
<polygon points="930.0,292.7 911.7,287.5 924.5,300.1 942.8,305.2" fill="#5161e8"/>
<polygon points="690.0,180.9 671.7,177.8 684.5,196.9 702.8,200.5" fill="#51c0c0"/>
<polygon points="514.0,310.2 495.7,310.2 508.5,290.2 526.8,291.0" fill="#515fe7"/>
<polygon points="526.8,291.0 508.5,290.2 521.4,265.6 539.7,266.8" fill="#4f73ec"/>
<polygon points="862.2,261.0 843.9,255.0 856.7,271.0 875.0,276.6" fill="#4d7eec"/>
<polygon points="776.1,218.5 757.8,213.2 770.6,232.2 788.9,237.4" fill="#4ca6e1"/>
<polygon points="501.2,324.1 482.8,325.4 495.7,310.2 514.0,310.2" fill="#4e4fd9"/>
<polygon points="622.2,152.1 603.9,148.5 616.8,167.4 635.1,171.3" fill="#76ca8c"/>
<polygon points="539.7,266.8 521.4,265.6 534.2,236.6 552.5,238.1" fill="#4c8ce9"/>
<polygon points="880.5,266.9 862.2,261.0 875.0,276.6 893.3,282.2" fill="#4d7dec"/>
<polygon points="708.3,184.2 690.0,180.9 702.8,200.5 721.2,204.2" fill="#51c2bd"/>
<polygon points="794.4,224.4 776.1,218.5 788.9,237.4 807.2,243.0" fill="#4ca5e1"/>
<polygon points="488.3,332.9 470.0,335.5 482.8,325.4 501.2,324.1" fill="#4d47d2"/>
<polygon points="552.5,238.1 534.2,236.6 547.1,203.2 565.4,204.9" fill="#4cafda"/>
<polygon points="640.5,155.0 622.2,152.1 635.1,171.3 653.4,174.7" fill="#79ca88"/>
<polygon points="898.8,272.5 880.5,266.9 893.3,282.2 911.7,287.5" fill="#4d7cec"/>
<polygon points="545.2,278.3 526.8,291.0 539.7,266.8 558.0,256.0" fill="#4d80ec"/>
<polygon points="812.7,230.7 794.4,224.4 807.2,243.0 825.6,248.9" fill="#4ca4e2"/>
<polygon points="532.3,295.6 514.0,310.2 526.8,291.0 545.2,278.3" fill="#506fec"/>
<polygon points="726.6,188.2 708.3,184.2 721.2,204.2 739.5,208.4" fill="#51c3bb"/>
<polygon points="558.0,256.0 539.7,266.8 552.5,238.1 570.8,228.7" fill="#4c9ae5"/>
<polygon points="519.5,307.8 501.2,324.1 514.0,310.2 532.3,295.6" fill="#5264eb"/>
<polygon points="565.4,204.9 547.1,203.2 559.9,165.9 578.2,167.8" fill="#61c7a5"/>
<polygon points="658.8,157.7 640.5,155.0 653.4,174.7 671.7,177.8" fill="#7dcb82"/>
<polygon points="591.1,138.2 572.8,134.9 585.6,144.0 603.9,148.5" fill="#a5ca5c"/>
<polygon points="917.1,277.7 898.8,272.5 911.7,287.5 930.0,292.7" fill="#4d7cec"/>
<polygon points="831.0,237.2 812.7,230.7 825.6,248.9 843.9,255.0" fill="#4ca2e2"/>
<polygon points="744.9,192.8 726.6,188.2 739.5,208.4 757.8,213.2" fill="#52c4ba"/>
<polygon points="570.8,228.7 552.5,238.1 565.4,204.9 583.7,196.8" fill="#4fb8cc"/>
<polygon points="506.6,316.1 488.3,332.9 501.2,324.1 519.5,307.8" fill="#515ee6"/>
<polygon points="849.3,243.7 831.0,237.2 843.9,255.0 862.2,261.0" fill="#4ca0e3"/>
<polygon points="578.2,167.8 559.9,165.9 572.8,134.9 591.1,138.2" fill="#9eca63"/>
<polygon points="677.2,160.3 658.8,157.7 671.7,177.8 690.0,180.9" fill="#82cb7c"/>
<polygon points="609.4,137.9 591.1,138.2 603.9,148.5 622.2,152.1" fill="#abc957"/>
<polygon points="763.2,198.2 744.9,192.8 757.8,213.2 776.1,218.5" fill="#52c4ba"/>
<polygon points="583.7,196.8 565.4,204.9 578.2,167.8 596.5,161.2" fill="#72c990"/>
<polygon points="867.7,249.9 849.3,243.7 862.2,261.0 880.5,266.9" fill="#4c9ee3"/>
<polygon points="781.6,204.4 763.2,198.2 776.1,218.5 794.4,224.4" fill="#51c3bb"/>
<polygon points="695.5,163.3 677.2,160.3 690.0,180.9 708.3,184.2" fill="#87cc77"/>
<polygon points="563.5,254.1 545.2,278.3 558.0,256.0 576.3,234.2" fill="#4ca0e3"/>
<polygon points="576.3,234.2 558.0,256.0 570.8,228.7 589.2,209.7" fill="#4eb5d1"/>
<polygon points="627.7,137.4 609.4,137.9 622.2,152.1 640.5,155.0" fill="#b3c94f"/>
<polygon points="596.5,161.2 578.2,167.8 591.1,138.2 609.4,137.9" fill="#abc957"/>
<polygon points="550.6,269.3 532.3,295.6 545.2,278.3 563.5,254.1" fill="#4c8fe9"/>
<polygon points="886.0,255.8 867.7,249.9 880.5,266.9 898.8,272.5" fill="#4c9de4"/>
<polygon points="589.2,209.7 570.8,228.7 583.7,196.8 602.0,180.8" fill="#5ec7a9"/>
<polygon points="799.9,211.0 781.6,204.4 794.4,224.4 812.7,230.7" fill="#51c2bd"/>
<polygon points="537.8,280.5 519.5,307.8 532.3,295.6 550.6,269.3" fill="#4c85ec"/>
<polygon points="713.8,167.0 695.5,163.3 708.3,184.2 726.6,188.2" fill="#8acb74"/>
<polygon points="904.3,261.1 886.0,255.8 898.8,272.5 917.1,277.7" fill="#4c9ce4"/>
<polygon points="646.0,138.3 627.7,137.4 640.5,155.0 658.8,157.7" fill="#bcc848"/>
<polygon points="818.2,218.0 799.9,211.0 812.7,230.7 831.0,237.2" fill="#51c0c0"/>
<polygon points="602.0,180.8 583.7,196.8 596.5,161.2 614.8,149.3" fill="#96cb6a"/>
<polygon points="524.9,288.5 506.6,316.1 519.5,307.8 537.8,280.5" fill="#4c81ec"/>
<polygon points="732.1,171.6 713.8,167.0 726.6,188.2 744.9,192.8" fill="#8ccb72"/>
<polygon points="614.8,149.3 596.5,161.2 609.4,137.9 627.7,137.4" fill="#c1c745"/>
<polygon points="836.5,225.0 818.2,218.0 831.0,237.2 849.3,243.7" fill="#50bfc3"/>
<polygon points="664.3,140.3 646.0,138.3 658.8,157.7 677.2,160.3" fill="#c2c645"/>
<polygon points="750.4,177.1 732.1,171.6 744.9,192.8 763.2,198.2" fill="#8ccb72"/>
<polygon points="854.8,231.7 836.5,225.0 849.3,243.7 867.7,249.9" fill="#50bdc5"/>
<polygon points="594.6,207.1 576.3,234.2 589.2,209.7 607.5,186.6" fill="#6dc997"/>
<polygon points="581.8,223.9 563.5,254.1 576.3,234.2 594.6,207.1" fill="#52c4ba"/>
<polygon points="682.6,143.2 664.3,140.3 677.2,160.3 695.5,163.3" fill="#c6c545"/>
<polygon points="768.7,183.4 750.4,177.1 763.2,198.2 781.6,204.4" fill="#8acb74"/>
<polygon points="607.5,186.6 589.2,209.7 602.0,180.8 620.3,162.6" fill="#94cb6b"/>
<polygon points="873.1,237.8 854.8,231.7 867.7,249.9 886.0,255.8" fill="#4fbcc7"/>
<polygon points="633.2,138.7 614.8,149.3 627.7,137.4 646.0,138.3" fill="#d2bf45"/>
<polygon points="568.9,237.1 550.6,269.3 563.5,254.1 581.8,223.9" fill="#4fbbc9"/>
<polygon points="620.3,162.6 602.0,180.8 614.8,149.3 633.2,138.7" fill="#c3c645"/>
<polygon points="787.0,190.5 768.7,183.4 781.6,204.4 799.9,211.0" fill="#87cc77"/>
<polygon points="891.4,243.2 873.1,237.8 886.0,255.8 904.3,261.1" fill="#4fbbc8"/>
<polygon points="700.9,146.8 682.6,143.2 695.5,163.3 713.8,167.0" fill="#c9c345"/>
<polygon points="556.1,247.2 537.8,280.5 550.6,269.3 568.9,237.1" fill="#4eb5d1"/>
<polygon points="805.3,197.9 787.0,190.5 799.9,211.0 818.2,218.0" fill="#82cb7c"/>
<polygon points="651.5,133.3 633.2,138.7 646.0,138.3 664.3,140.3" fill="#e0b945"/>
<polygon points="719.2,151.1 700.9,146.8 713.8,167.0 732.1,171.6" fill="#cac345"/>
<polygon points="823.7,205.4 805.3,197.9 818.2,218.0 836.5,225.0" fill="#7dcb82"/>
<polygon points="543.2,255.0 524.9,288.5 537.8,280.5 556.1,247.2" fill="#4db3d5"/>
<polygon points="842.0,212.4 823.7,205.4 836.5,225.0 854.8,231.7" fill="#79ca88"/>
<polygon points="737.6,156.8 719.2,151.1 732.1,171.6 750.4,177.1" fill="#cac345"/>
<polygon points="638.6,147.6 620.3,162.6 633.2,138.7 651.5,133.3" fill="#dfb945"/>
<polygon points="625.8,165.1 607.5,186.6 620.3,162.6 638.6,147.6" fill="#cac345"/>
<polygon points="669.8,132.4 651.5,133.3 664.3,140.3 682.6,143.2" fill="#e6b943"/>
<polygon points="612.9,180.7 594.6,207.1 607.5,186.6 625.8,165.1" fill="#b1c951"/>
<polygon points="860.3,218.9 842.0,212.4 854.8,231.7 873.1,237.8" fill="#76ca8c"/>
<polygon points="755.9,163.3 737.6,156.8 750.4,177.1 768.7,183.4" fill="#c9c345"/>
<polygon points="600.1,194.0 581.8,223.9 594.6,207.1 612.9,180.7" fill="#9bca65"/>
<polygon points="688.1,133.9 669.8,132.4 682.6,143.2 700.9,146.8" fill="#e7bd3f"/>
<polygon points="774.2,170.5 755.9,163.3 768.7,183.4 787.0,190.5" fill="#c6c545"/>
<polygon points="878.6,224.5 860.3,218.9 873.1,237.8 891.4,243.2" fill="#74ca8e"/>
<polygon points="587.2,205.0 568.9,237.1 581.8,223.9 600.1,194.0" fill="#8bcb73"/>
<polygon points="656.9,138.0 638.6,147.6 651.5,133.3 669.8,132.4" fill="#e8c23b"/>
<polygon points="788.7,390.7 770.4,380.6 783.2,361.4 801.5,370.7" fill="#515fe7"/>
<polygon points="801.5,370.7 783.2,361.4 796.1,337.3 814.4,346.1" fill="#4f73ec"/>
<polygon points="783.2,361.4 764.9,338.7 777.8,316.4 796.1,337.3" fill="#4d80ec"/>
<polygon points="792.5,178.5 774.2,170.5 787.0,190.5 805.3,197.9" fill="#c2c645"/>
<polygon points="770.4,380.6 752.1,356.0 764.9,338.7 783.2,361.4" fill="#506fec"/>
<polygon points="706.4,137.5 688.1,133.9 700.9,146.8 719.2,151.1" fill="#e8c03d"/>
<polygon points="574.4,214.0 556.1,247.2 568.9,237.1 587.2,205.0" fill="#82cb7c"/>
<polygon points="775.8,405.9 757.5,394.5 770.4,380.6 788.7,390.7" fill="#4e4fd9"/>
<polygon points="796.1,337.3 777.8,316.4 790.6,289.1 808.9,308.5" fill="#4c9ae5"/>
<polygon points="814.4,346.1 796.1,337.3 808.9,308.5 827.2,317.1" fill="#4c8ce9"/>
<polygon points="757.5,394.5 739.2,368.2 752.1,356.0 770.4,380.6" fill="#5264eb"/>
<polygon points="810.8,187.7 792.5,178.5 805.3,197.9 823.7,205.4" fill="#bcc848"/>
<polygon points="644.1,149.0 625.8,165.1 638.6,147.6 656.9,138.0" fill="#e7bb41"/>
<polygon points="764.9,338.7 746.6,304.4 759.4,284.5 777.8,316.4" fill="#4ca0e3"/>
<polygon points="808.9,308.5 790.6,289.1 803.4,257.2 821.8,275.4" fill="#4fb8cc"/>
<polygon points="763.0,416.0 744.7,403.3 757.5,394.5 775.8,405.9" fill="#4d47d2"/>
<polygon points="724.7,144.0 706.4,137.5 719.2,151.1 737.6,156.8" fill="#e8c03d"/>
<polygon points="777.8,316.4 759.4,284.5 772.3,260.0 790.6,289.1" fill="#4eb5d1"/>
<polygon points="827.2,317.1 808.9,308.5 821.8,275.4 840.1,283.7" fill="#4cafda"/>
<polygon points="829.1,198.3 810.8,187.7 823.7,205.4 842.0,212.4" fill="#b3c94f"/>
<polygon points="752.1,356.0 733.8,319.7 746.6,304.4 764.9,338.7" fill="#4c8fe9"/>
<polygon points="631.2,159.8 612.9,180.7 625.8,165.1 644.1,149.0" fill="#e0b845"/>
<polygon points="561.6,221.5 543.2,255.0 556.1,247.2 574.4,214.0" fill="#7fcb80"/>
<polygon points="675.2,134.2 656.9,138.0 669.8,132.4 688.1,133.9" fill="#ebcd32"/>
<polygon points="744.7,403.3 726.4,376.5 739.2,368.2 757.5,394.5" fill="#515ee6"/>
<polygon points="790.6,289.1 772.3,260.0 785.1,231.1 803.4,257.2" fill="#5ec7a9"/>
<polygon points="847.4,208.6 829.1,198.3 842.0,212.4 860.3,218.9" fill="#abc957"/>
<polygon points="743.0,152.5 724.7,144.0 737.6,156.8 755.9,163.3" fill="#e7bd3f"/>
<polygon points="739.2,368.2 720.9,330.8 733.8,319.7 752.1,356.0" fill="#4c85ec"/>
<polygon points="821.8,275.4 803.4,257.2 816.3,221.6 834.6,238.3" fill="#72c990"/>
<polygon points="618.4,169.7 600.1,194.0 612.9,180.7 631.2,159.8" fill="#d8bc45"/>
<polygon points="840.1,283.7 821.8,275.4 834.6,238.3 852.9,246.4" fill="#61c7a5"/>
<polygon points="865.8,215.4 847.4,208.6 860.3,218.9 878.6,224.5" fill="#a5ca5c"/>
<polygon points="761.3,163.5 743.0,152.5 755.9,163.3 774.2,170.5" fill="#e6b943"/>
<polygon points="803.4,257.2 785.1,231.1 798.0,199.6 816.3,221.6" fill="#96cb6a"/>
<polygon points="693.6,136.5 675.2,134.2 688.1,133.9 706.4,137.5" fill="#ecd32d"/>
<polygon points="759.4,284.5 741.1,247.3 754.0,226.8 772.3,260.0" fill="#6dc997"/>
<polygon points="746.6,304.4 728.3,264.1 741.1,247.3 759.4,284.5" fill="#52c4ba"/>
<polygon points="662.4,140.7 644.1,149.0 656.9,138.0 675.2,134.2" fill="#ebcf30"/>
<polygon points="779.7,179.0 761.3,163.5 774.2,170.5 792.5,178.5" fill="#e0b945"/>
<polygon points="726.4,376.5 708.1,338.8 720.9,330.8 739.2,368.2" fill="#4c81ec"/>
<polygon points="772.3,260.0 754.0,226.8 766.8,202.9 785.1,231.1" fill="#94cb6b"/>
<polygon points="816.3,221.6 798.0,199.6 810.8,187.7 829.1,198.3" fill="#c1c745"/>
<polygon points="834.6,238.3 816.3,221.6 829.1,198.3 847.4,208.6" fill="#abc957"/>
<polygon points="798.0,199.6 779.7,179.0 792.5,178.5 810.8,187.7" fill="#d2bf45"/>
<polygon points="605.6,178.6 587.2,205.0 600.1,194.0 618.4,169.7" fill="#d2bf45"/>
<polygon points="733.8,319.7 715.4,277.4 728.3,264.1 746.6,304.4" fill="#4fbbc9"/>
<polygon points="852.9,246.4 834.6,238.3 847.4,208.6 865.8,215.4" fill="#9eca63"/>
<polygon points="785.1,231.1 766.8,202.9 779.7,179.0 798.0,199.6" fill="#c3c645"/>
<polygon points="711.9,144.3 693.6,136.5 706.4,137.5 724.7,144.0" fill="#ecd32d"/>
<polygon points="649.6,148.3 631.2,159.8 644.1,149.0 662.4,140.7" fill="#ebcc33"/>
<polygon points="766.8,202.9 748.5,177.7 761.3,163.5 779.7,179.0" fill="#dfb945"/>
<polygon points="720.9,330.8 702.6,287.5 715.4,277.4 733.8,319.7" fill="#4eb5d1"/>
<polygon points="730.2,158.1 711.9,144.3 724.7,144.0 743.0,152.5" fill="#ebcd32"/>
<polygon points="592.7,186.6 574.4,214.0 587.2,205.0 605.6,178.6" fill="#cec145"/>
<polygon points="754.0,226.8 735.7,195.3 748.5,177.7 766.8,202.9" fill="#cac345"/>
<polygon points="748.5,177.7 730.2,158.1 743.0,152.5 761.3,163.5" fill="#e8c23b"/>
<polygon points="680.7,142.0 662.4,140.7 675.2,134.2 693.6,136.5" fill="#edd928"/>
<polygon points="741.1,247.3 722.8,210.9 735.7,195.3 754.0,226.8" fill="#b1c951"/>
<polygon points="728.3,264.1 710.0,224.2 722.8,210.9 741.1,247.3" fill="#9bca65"/>
<polygon points="636.7,155.8 618.4,169.7 631.2,159.8 649.6,148.3" fill="#eaca35"/>
<polygon points="735.7,195.3 717.3,169.1 730.2,158.1 748.5,177.7" fill="#e7bb41"/>
<polygon points="708.1,338.8 689.8,295.2 702.6,287.5 720.9,330.8" fill="#4db3d5"/>
<polygon points="699.0,150.8 680.7,142.0 693.6,136.5 711.9,144.3" fill="#edd928"/>
<polygon points="579.9,193.9 561.6,221.5 574.4,214.0 592.7,186.6" fill="#cdc145"/>
<polygon points="717.3,169.1 699.0,150.8 711.9,144.3 730.2,158.1" fill="#ebcf30"/>
<polygon points="715.4,277.4 697.1,235.2 710.0,224.2 728.3,264.1" fill="#8bcb73"/>
<polygon points="667.9,148.9 649.6,148.3 662.4,140.7 680.7,142.0" fill="#eed928"/>
<polygon points="722.8,210.9 704.5,179.9 717.3,169.1 735.7,195.3" fill="#e0b845"/>
<polygon points="623.9,163.3 605.6,178.6 618.4,169.7 636.7,155.8" fill="#eac836"/>
<polygon points="702.6,287.5 684.3,244.2 697.1,235.2 715.4,277.4" fill="#82cb7c"/>
<polygon points="686.2,158.3 667.9,148.9 680.7,142.0 699.0,150.8" fill="#eed928"/>
<polygon points="704.5,179.9 686.2,158.3 699.0,150.8 717.3,169.1" fill="#ebcc33"/>
<polygon points="710.0,224.2 691.7,189.9 704.5,179.9 722.8,210.9" fill="#d8bc45"/>
<polygon points="655.0,156.0 636.7,155.8 649.6,148.3 667.9,148.9" fill="#eed928"/>
<polygon points="611.0,170.5 592.7,186.6 605.6,178.6 623.9,163.3" fill="#e9c737"/>
<polygon points="697.1,235.2 678.8,198.7 691.7,189.9 710.0,224.2" fill="#d2bf45"/>
<polygon points="689.8,295.2 671.4,251.7 684.3,244.2 702.6,287.5" fill="#7fcb80"/>
<polygon points="691.7,189.9 673.3,165.9 686.2,158.3 704.5,179.9" fill="#eaca35"/>
<polygon points="673.3,165.9 655.0,156.0 667.9,148.9 686.2,158.3" fill="#eed928"/>
<polygon points="642.2,163.1 623.9,163.3 636.7,155.8 655.0,156.0" fill="#eed928"/>
<polygon points="598.2,177.6 579.9,193.9 592.7,186.6 611.0,170.5" fill="#e9c638"/>
<polygon points="684.3,244.2 666.0,206.7 678.8,198.7 697.1,235.2" fill="#cec145"/>
<polygon points="678.8,198.7 660.5,173.3 673.3,165.9 691.7,189.9" fill="#eac836"/>
<polygon points="660.5,173.3 642.2,163.1 655.0,156.0 673.3,165.9" fill="#eed928"/>
<polygon points="629.3,170.2 611.0,170.5 623.9,163.3 642.2,163.1" fill="#edd928"/>
<polygon points="671.4,251.7 653.1,214.0 666.0,206.7 684.3,244.2" fill="#cdc145"/>
<polygon points="666.0,206.7 647.7,180.6 660.5,173.3 678.8,198.7" fill="#e9c737"/>
<polygon points="647.7,180.6 629.3,170.2 642.2,163.1 660.5,173.3" fill="#edd928"/>
<polygon points="616.5,177.2 598.2,177.6 611.0,170.5 629.3,170.2" fill="#edd928"/>
<polygon points="653.1,214.0 634.8,187.7 647.7,180.6 666.0,206.7" fill="#e9c638"/>
<polygon points="634.8,187.7 616.5,177.2 629.3,170.2 647.7,180.6" fill="#edd928"/>
</g>
<path d="M763.0,416.0L470.0,335.5M763.0,416.0L968.5,302.5M763.0,416.0L763.0,217.5M470.0,335.5L470.0,137.0M968.5,302.5L968.5,104.0M763.0,217.5L470.0,137.0M763.0,217.5L968.5,104.0M470.0,137.0L675.5,23.5M968.5,104.0L675.5,23.5" stroke="#231f20" stroke-width="1.7" fill="none" stroke-linecap="square"/>
<path d="M763.0,416.0L771.2,411.5M669.7,390.4L678.0,385.8M576.5,364.8L584.7,360.2M483.2,339.1L491.4,334.6M968.5,302.5L977.3,304.9M903.1,338.6L911.9,341.0M837.7,374.8L846.5,377.2M772.3,410.9L781.1,413.3" stroke="#777" stroke-width="1.1" fill="none"/>
<path d="M470.0,324.6L463.0,326.4M470.0,288.2L463.0,290.0M470.0,251.7L463.0,253.5M470.0,215.3L463.0,217.1M470.0,178.9L463.0,180.7M470.0,142.5L463.0,144.3" stroke="#888" stroke-width="1.1" fill="none"/>
<g font-family="Liberation Serif, Times New Roman, serif" font-size="25" fill="#231f20" text-anchor="end">
<text x="460.3" y="152.7">-0.1888</text>
<text x="460.3" y="224.9">-0.1892</text>
<text x="460.3" y="297.4">-0.1896</text>
</g>
<g font-family="Liberation Serif, Times New Roman, serif" font-size="23.5" fill="#231f20" letter-spacing="0.6">
<text x="461.2" y="365.8">1.5</text>
<text x="444.8" y="390.0">[010]</text>
<text x="551.6" y="392.7">1.0</text>
<text x="644.0" y="414.7">0.5</text>
<text x="686.3" y="438.3">[100]</text>
<text x="750.9" y="441.4">0</text>
<text x="978.2" y="319.7">0</text>
<text x="957.8" y="341.0">[001]</text>
<text x="907.7" y="359.2">0.5</text>
<text x="851.4" y="392.6">1.0</text>
<text x="789.4" y="427.0">1.5</text>
<text x="510.5" y="402.5" font-style="italic" font-size="29">&#968;</text>
<text x="920.5" y="396.3" font-style="italic" font-size="26">&#945;</text>
</g>
<g font-family="Liberation Serif, Times New Roman, serif" fill="#c8102e">
<text x="588.2" y="392.0" font-size="23" font-weight="bold">h</text>
<text x="578.5" y="418.5" font-size="23.5" letter-spacing="0.7">[110]</text>
</g>
<path d="M623.5,372.0L604.0,386.3M612.5,386.9L603.0,387.0L606.0,378.0" stroke="#c8102e" stroke-width="2.6" fill="none" stroke-linecap="round" stroke-linejoin="miter"/>
<path d="M747.6,852.9L953.1,739.4M729.0,847.8L934.5,734.3M710.3,842.6L915.8,729.1M691.7,837.5L897.2,724.0M673.0,832.4L878.5,718.9M654.4,827.3L859.9,713.8M635.7,822.1L841.2,708.6M617.1,817.0L822.6,703.5M598.4,811.9L803.9,698.4M579.8,806.8L785.3,693.3M561.1,801.6L766.6,688.1M542.5,796.5L748.0,683.0M523.8,791.4L729.3,677.9M505.2,786.3L710.7,672.8M486.5,781.1L692.0,667.6M779.4,850.8L486.4,770.3M792.5,843.5L499.5,763.0M805.5,836.3L512.5,755.8M818.6,829.1L525.6,748.6M831.7,821.9L538.7,741.4M844.8,814.6L551.8,734.1M857.9,807.4L564.9,726.9M871.0,800.2L578.0,719.7M884.0,793.0L591.0,712.5M897.1,785.7L604.1,705.2M910.2,778.5L617.2,698.0M923.3,771.3L630.3,690.8M936.4,764.1L643.4,683.6M949.5,756.8L656.5,676.3M962.5,749.6L669.5,669.1M486.4,770.3L486.4,571.8M499.5,763.0L499.5,564.5M512.5,755.8L512.5,557.3M525.6,748.6L525.6,550.1M538.7,741.4L538.7,542.9M551.8,734.1L551.8,535.6M564.9,726.9L564.9,528.4M578.0,719.7L578.0,521.2M591.0,712.5L591.0,514.0M604.1,705.2L604.1,506.7M617.2,698.0L617.2,499.5M630.3,690.8L630.3,492.3M643.4,683.6L643.4,485.1M656.5,676.3L656.5,477.8M669.5,669.1L669.5,470.6M473.3,770.9L678.8,657.4M473.3,764.3L678.8,650.8M473.3,757.6L678.8,644.1M473.3,751.0L678.8,637.5M473.3,744.4L678.8,630.9M473.3,737.8L678.8,624.3M473.3,731.2L678.8,617.7M473.3,724.6L678.8,611.1M473.3,718.0L678.8,604.5M473.3,711.3L678.8,597.8M473.3,704.7L678.8,591.2M473.3,698.1L678.8,584.6M473.3,691.5L678.8,578.0M473.3,684.9L678.8,571.4M473.3,678.2L678.8,564.8M473.3,671.6L678.8,558.1M473.3,665.0L678.8,551.5M473.3,658.4L678.8,544.9M473.3,651.8L678.8,538.3M473.3,645.2L678.8,531.7M473.3,638.5L678.8,525.0M473.3,631.9L678.8,518.4M473.3,625.3L678.8,511.8M473.3,618.7L678.8,505.2M473.3,612.1L678.8,498.6M473.3,605.5L678.8,492.0M473.3,598.9L678.8,485.4M473.3,592.2L678.8,478.7M473.3,585.6L678.8,472.1M953.1,739.4L953.1,540.9M934.5,734.3L934.5,535.8M915.8,729.1L915.8,530.6M897.2,724.0L897.2,525.5M878.5,718.9L878.5,520.4M859.9,713.8L859.9,515.3M841.2,708.6L841.2,510.1M822.6,703.5L822.6,505.0M803.9,698.4L803.9,499.9M785.3,693.3L785.3,494.8M766.6,688.1L766.6,489.6M748.0,683.0L748.0,484.5M729.3,677.9L729.3,479.4M710.7,672.8L710.7,474.3M692.0,667.6L692.0,469.1M971.8,737.9L678.8,657.4M971.8,731.3L678.8,650.8M971.8,724.6L678.8,644.1M971.8,718.0L678.8,637.5M971.8,711.4L678.8,630.9M971.8,704.8L678.8,624.3M971.8,698.2L678.8,617.7M971.8,691.6L678.8,611.1M971.8,685.0L678.8,604.5M971.8,678.3L678.8,597.8M971.8,671.7L678.8,591.2M971.8,665.1L678.8,584.6M971.8,658.5L678.8,578.0M971.8,651.9L678.8,571.4M971.8,645.2L678.8,564.8M971.8,638.6L678.8,558.1M971.8,632.0L678.8,551.5M971.8,625.4L678.8,544.9M971.8,618.8L678.8,538.3M971.8,612.2L678.8,531.7M971.8,605.5L678.8,525.0M971.8,598.9L678.8,518.4M971.8,592.3L678.8,511.8M971.8,585.7L678.8,505.2M971.8,579.1L678.8,498.6M971.8,572.5L678.8,492.0M971.8,565.9L678.8,485.4M971.8,559.2L678.8,478.7M971.8,552.6L678.8,472.1" stroke="#e4e4e4" stroke-width="0.6" fill="none"/>
<path d="M473.3,777.5L678.8,664.0M678.8,664.0L971.8,744.5" stroke="#231f20" stroke-width="0.96" fill="none" stroke-opacity="0.4"/>
<path d="M678.8,465.5L678.8,549.6" stroke="#231f20" stroke-width="1.7" fill="none"/>
<path d="M764.9,857.6L767.2,856.1L769.3,854.6L771.4,853.0L773.3,851.4L774.3,850.5L775.1,849.8L776.7,848.1L778.1,846.4L778.9,845.0L779.2,844.5L779.9,842.6L780.3,841.2L780.3,840.6L780.3,838.5L780.2,838.2L779.7,836.2L779.4,835.6L778.4,833.7L778.1,833.3L776.5,831.1L776.4,831.0L774.6,829.2L773.4,828.1L772.4,827.3L770.1,825.6L768.9,824.7L767.7,823.9L765.0,822.4L762.3,820.8L762.1,820.7L759.4,819.4L756.3,818.1L753.1,816.9L749.7,815.7L746.2,814.6L742.5,813.6L738.6,812.7L734.6,811.9L730.4,811.2L726.0,810.6L724.8,810.5L721.2,810.2L716.2,810.0L715.0,809.9L710.6,810.0L708.0,810.1L704.2,810.5L702.4,810.7L697.9,811.6L695.5,812.3L694.2,812.7L691.0,813.9L688.4,815.4L686.2,816.9L684.5,818.3L684.4,818.5L682.8,820.2L681.5,822.0L680.5,823.6L680.4,823.8L679.5,825.6L678.7,827.5L678.6,827.7L677.9,829.5L677.2,831.4L677.2,831.5L676.6,833.4M563.0,802.1L567.4,801.3L567.5,801.3L572.0,800.4L576.1,799.5L576.4,799.4L580.7,798.5L584.9,797.5L585.3,797.4L588.9,796.5L592.8,795.4L596.3,794.3L596.6,794.2L599.6,793.1L602.6,791.8L605.1,790.3L607.1,788.8L607.6,788.1L608.5,787.0L609.1,785.1L609.0,784.3L608.7,782.8L608.0,781.8L606.8,780.2L606.3,779.8L604.0,778.0L602.1,776.8L601.4,776.4L598.5,775.0L595.4,773.7L592.1,772.5L588.7,771.3L585.0,770.3L581.2,769.4L577.3,768.6L573.1,767.8L568.9,767.1L565.0,766.6L564.5,766.5L559.6,766.2L555.0,766.0L554.5,766.0L548.9,766.0L547.8,766.1L542.7,766.4L541.7,766.5L536.4,767.2L535.5,767.4L531.7,768.1L527.4,769.0L526.8,769.2L523.6,770.1L519.9,771.2L516.5,772.4L513.6,773.4L513.2,773.6L510.1,774.9L507.1,776.2L504.2,777.5L501.3,778.8L498.5,780.2L495.8,781.6L493.1,782.9" stroke="#4c55b8" stroke-width="1.3" fill="none"/>
<path d="M808.6,834.6L807.0,833.1L806.6,832.7L804.4,830.9L803.2,829.9L802.1,829.1L799.8,827.4L798.7,826.5L797.4,825.7L794.9,824.0L793.3,822.9L792.4,822.4L789.8,820.8L787.2,819.2L787.0,819.1L784.5,817.7L781.7,816.2L779.3,814.8L779.0,814.7L776.1,813.2L773.2,811.8L770.2,810.4L769.1,809.9L767.2,809.1L764.0,807.8L760.9,806.5L757.7,805.2L754.5,804.0L752.3,803.2L751.2,802.8L747.8,801.6L744.4,800.4L740.9,799.3L737.5,798.2L733.9,797.1L730.4,796.0L726.8,795.0L723.2,794.0L719.6,792.9L715.9,791.9L712.3,790.9L708.6,789.9L704.9,788.9L701.2,787.9L697.5,786.9L693.8,785.9L690.2,784.9L686.5,784.0L682.8,782.9L679.2,781.9L675.5,780.9L671.9,779.9L668.2,778.9L664.6,777.9L661.0,776.8L657.3,775.8L653.7,774.8L650.0,773.8L646.3,772.8L642.6,771.8L638.9,770.8L635.2,769.9L631.4,768.9L627.6,768.0L623.7,767.1L619.9,766.2L615.9,765.4L612.0,764.5L610.6,764.2L608.0,763.7L603.9,762.9L599.7,762.2L595.6,761.5L591.4,760.8L588.6,760.3L587.1,760.1L582.7,759.5L578.3,758.9L573.8,758.4L573.7,758.3L569.1,757.9L564.3,757.5L562.6,757.4L559.3,757.2L554.3,757.0L553.3,757.0L548.9,756.9L545.2,756.9L543.5,756.9L538.0,757.0L537.7,757.1L531.6,757.4L531.6,757.4L525.8,757.9L525.0,758.0L520.6,758.6L517.5,759.1L515.8,759.4L511.4,760.3L508.6,761.0L507.3,761.3L503.5,762.4L499.9,763.6L496.5,764.8L496.1,764.9" stroke="#217ce4" stroke-width="1.3" fill="none"/>
<path d="M818.0,829.5L815.5,827.8L813.2,826.3L813.0,826.1L810.4,824.5L807.9,822.9L807.3,822.5L805.3,821.3L802.7,819.7L800.8,818.6L800.0,818.2L797.3,816.6L794.6,815.1L793.4,814.5L791.8,813.6L789.0,812.1L786.2,810.7L784.9,810.0L783.3,809.2L780.4,807.8L777.5,806.4L774.5,805.0L774.5,805.0L771.4,803.7L768.3,802.4L765.2,801.0L762.1,799.7L760.0,798.9L758.9,798.5L755.7,797.2L752.4,796.0L749.1,794.8L745.8,793.6L742.4,792.4L739.1,791.3L735.7,790.1L735.4,790.0L732.2,789.0L728.7,787.9L725.2,786.8L721.7,785.7L718.2,784.6L714.6,783.5L711.1,782.5L707.5,781.4L703.9,780.4L700.2,779.4L696.6,778.4L693.0,777.3L689.3,776.3L685.6,775.4L681.9,774.4L678.2,773.4L674.4,772.4L670.7,771.5L666.9,770.5L663.1,769.6L659.3,768.7L655.5,767.7L651.6,766.8L648.1,766.0L647.8,766.0L643.8,765.1L639.9,764.3L635.9,763.4L631.9,762.6L627.9,761.8L623.8,761.0L619.7,760.2L618.3,760.0L615.6,759.5L611.4,758.8L607.2,758.1L602.9,757.4L598.7,756.7L598.7,756.7L594.3,756.1L589.9,755.5L585.5,754.9L583.3,754.6L581.0,754.3L576.4,753.8L571.8,753.4L570.7,753.3L567.1,753.0L562.2,752.6L560.0,752.5L557.3,752.3L552.3,752.0L550.4,752.0L547.2,751.9L541.9,751.7L541.8,751.7L536.5,751.7L534.0,751.7L530.9,751.8L526.9,751.9L525.1,751.9L520.4,752.2L518.9,752.3" stroke="#3092d9" stroke-width="1.3" fill="none"/>
<path d="M824.1,826.1L821.5,824.5L821.1,824.2L818.9,822.9L816.3,821.3L814.6,820.3L813.6,819.7L811.0,818.2L808.3,816.6L807.6,816.2L805.6,815.1L802.8,813.6L800.1,812.1L800.0,812.0L797.3,810.6L794.5,809.1L791.6,807.7L791.4,807.5L788.8,806.2L785.8,804.8L782.9,803.4L781.4,802.7L780.0,802.0L776.9,800.6L773.9,799.3L770.8,797.9L768.8,797.1L767.7,796.6L764.6,795.3L761.4,794.1L758.2,792.8L755.0,791.6L751.7,790.3L751.2,790.1L748.4,789.1L745.1,787.9L741.8,786.7L738.4,785.6L735.0,784.4L731.6,783.3L728.1,782.2L724.6,781.1L721.1,780.0L717.6,778.9L714.1,777.8L712.9,777.5L710.5,776.8L706.9,775.7L703.2,774.7L699.6,773.7L695.9,772.7L692.2,771.7L688.5,770.7L685.9,770.1L684.8,769.8L681.0,768.8L677.2,767.9L673.4,767.0L669.5,766.1L665.6,765.2L661.7,764.3L657.8,763.4L653.9,762.6L649.9,761.8L645.9,760.9L642.5,760.3L641.9,760.1L637.8,759.4L633.7,758.6L629.6,757.8L625.4,757.1L621.2,756.4L619.8,756.1L617.0,755.7L612.7,755.0L608.5,754.3L604.2,753.7L602.1,753.4L599.8,753.1L595.4,752.5L591.0,751.9L587.1,751.4L586.5,751.3L581.9,750.8L577.3,750.3L574.3,750.0L572.7,749.9L568.0,749.5L563.2,749.1L563.0,749.0L558.3,748.7L553.4,748.4L552.8,748.4L548.4,748.1L543.4,747.9L543.4,747.9L538.2,747.7L534.7,747.6L532.9,747.6L527.5,747.6" stroke="#23abd2" stroke-width="1.3" fill="none"/>
<path d="M829.2,823.3L826.5,821.7L825.6,821.2L823.8,820.2L821.2,818.6L818.6,817.1L818.5,817.1L815.8,815.5L813.0,814.0L811.2,813.0L810.3,812.5L807.6,811.0L804.8,809.5L803.3,808.7L802.0,808.0L799.2,806.5L796.3,805.1L794.5,804.1L793.5,803.6L790.6,802.2L787.7,800.8L784.7,799.4L784.5,799.3L781.7,798.0L778.7,796.6L775.7,795.3L772.6,793.9L772.2,793.8L769.5,792.6L766.4,791.3L763.2,790.0L760.0,788.8L756.8,787.5L755.7,787.1L753.6,786.3L750.3,785.1L747.0,783.9L743.6,782.7L740.3,781.5L736.9,780.3L733.5,779.2L730.0,778.1L726.5,777.0L726.4,776.9L723.0,775.9L719.5,774.8L715.9,773.7L712.3,772.7L708.7,771.7L705.1,770.7L701.4,769.7L697.7,768.7L694.0,767.7L690.2,766.8L686.4,765.8L682.8,764.9L682.6,764.9L678.7,764.0L674.9,763.1L671.0,762.2L667.0,761.4L663.1,760.5L659.1,759.7L655.0,758.9L651.0,758.1L648.3,757.6L646.9,757.3L642.8,756.6L638.7,755.8L634.5,755.1L630.3,754.4L626.7,753.8L626.1,753.7L621.8,753.0L617.6,752.3L613.2,751.7L609.3,751.1L608.9,751.1L604.5,750.5L600.1,749.9L595.7,749.3L594.1,749.1L591.2,748.7L586.7,748.2L582.1,747.7L580.9,747.6L577.5,747.2L572.8,746.8L569.0,746.4L568.1,746.4L563.3,746.0L558.5,745.6L558.1,745.6L553.6,745.3L548.7,744.9L547.9,744.9L543.7,744.7L538.7,744.4L538.4,744.4L533.6,744.2" stroke="#33babb" stroke-width="1.3" fill="none"/>
<path d="M833.8,820.7L831.1,819.2L828.6,817.7L828.4,817.6L825.7,816.1L823.0,814.6L821.2,813.6L820.2,813.1L817.5,811.5L814.8,810.0L813.6,809.4L812.0,808.5L809.2,807.0L806.4,805.5L805.5,805.0L803.6,804.1L800.8,802.6L798.0,801.1L796.6,800.5L795.1,799.7L792.2,798.3L789.2,796.9L786.5,795.6L786.3,795.5L783.3,794.1L780.3,792.7L777.3,791.4L774.3,790.1L774.2,790.0L771.1,788.7L768.0,787.4L764.8,786.1L761.6,784.8L758.5,783.6L758.4,783.6L755.2,782.4L751.9,781.1L748.6,779.9L745.3,778.7L741.9,777.6L738.5,776.4L735.1,775.3L731.6,774.2L730.9,773.9L728.2,773.0L724.6,772.0L721.1,770.9L717.5,769.8L713.9,768.8L710.3,767.8L706.6,766.8L702.9,765.8L699.1,764.9L695.3,763.9L691.5,763.0L688.5,762.3L687.7,762.1L683.8,761.2L679.9,760.3L676.0,759.4L672.0,758.6L668.0,757.8L664.0,757.0L660.0,756.2L655.9,755.4L655.8,755.4L651.8,754.7L647.6,753.9L643.4,753.2L639.2,752.5L635.0,751.8L634.8,751.8L630.8,751.1L626.5,750.5L622.2,749.8L617.8,749.2L617.5,749.1L613.4,748.6L609.1,748.0L604.6,747.4L602.3,747.1L600.2,746.8L595.7,746.3L591.2,745.7L588.6,745.5L586.6,745.2L582.0,744.7L577.3,744.3L576.3,744.2L572.6,743.8L567.9,743.4L564.8,743.2L563.2,743.0L558.4,742.6L554.0,742.3L553.5,742.3L548.7,741.9L543.8,741.6L543.7,741.6L538.8,741.3M668.8,669.5L672.5,670.5L676.2,671.5L679.9,672.5L683.5,673.5L687.1,674.5L690.7,675.6L694.3,676.6L697.9,677.7L701.5,678.7L702.8,679.1L705.1,679.8L708.7,680.8L712.2,681.9L715.8,682.9L719.3,684.0L722.9,685.1L726.4,686.2L730.0,687.2L733.5,688.3L737.0,689.4L740.6,690.5L744.1,691.5L747.6,692.6L751.1,693.7L754.7,694.8L758.2,695.9L761.7,696.9L765.3,698.0L768.8,699.1L772.4,700.2L775.9,701.2L779.1,702.2L779.5,702.3L783.1,703.3L786.7,704.4L790.2,705.4L793.9,706.5L797.5,707.5L801.1,708.5L804.7,709.6L808.4,710.6L812.0,711.6L815.7,712.6L819.4,713.6L823.1,714.6L826.8,715.6L830.5,716.5L834.2,717.5L837.9,718.5L841.7,719.4L845.4,720.4L845.8,720.5L849.2,721.4L852.9,722.3L856.7,723.2L860.5,724.2L864.3,725.1L868.1,726.1L871.9,727.0L875.7,727.9L879.5,728.9L883.3,729.8L887.1,730.7L890.9,731.7L894.7,732.6L898.4,733.5L902.2,734.5L906.0,735.4L909.8,736.3L913.6,737.3L917.3,738.2L921.1,739.2L924.9,740.1L926.8,740.6L928.6,741.1L932.4,742.1L936.1,743.0L939.8,744.0L943.5,745.0L947.3,745.9L950.9,746.9L954.6,747.9L958.3,748.9L961.9,750.0" stroke="#69c49b" stroke-width="1.3" fill="none"/>
<path d="M838.4,818.2L835.7,816.6L833.0,815.1L831.5,814.3L830.2,813.6L827.5,812.1L824.8,810.6L824.0,810.1L822.1,809.0L819.3,807.5L816.5,806.0L816.3,805.9L813.8,804.5L811.0,803.0L808.2,801.5L808.2,801.5L805.4,800.0L802.6,798.6L799.7,797.1L799.4,797.0L796.9,795.7L794.0,794.3L791.0,792.8L789.6,792.2L788.1,791.4L785.1,790.1L782.1,788.7L779.1,787.3L778.0,786.9L776.0,786.0L773.0,784.6L769.9,783.3L766.7,782.0L763.5,780.8L763.4,780.7L760.4,779.5L757.1,778.2L753.9,777.0L750.6,775.8L747.2,774.6L743.9,773.5L740.5,772.3L740.4,772.3L737.1,771.2L733.6,770.0L730.1,768.9L726.6,767.9L723.0,766.8L719.4,765.8L715.7,764.8L712.1,763.8L708.3,762.8L704.6,761.8L700.8,760.9L697.0,760.0L693.1,759.1L689.3,758.2L689.2,758.2L685.3,757.4L681.3,756.5L677.3,755.7L673.3,754.9L669.2,754.1L665.1,753.3L661.1,752.6L661.0,752.6L656.8,751.9L652.7,751.1L648.4,750.4L644.2,749.8L641.4,749.3L639.9,749.1L635.6,748.4L631.3,747.8L626.9,747.2L624.7,746.9L622.6,746.6L618.2,746.0L613.7,745.4L609.7,744.9L609.3,744.8L604.8,744.2L600.3,743.7L596.0,743.2L595.7,743.2L591.2,742.7L586.6,742.2L583.5,741.9L581.9,741.7L577.3,741.3L572.5,740.9L571.6,740.8L567.8,740.4L563.1,740.0L560.4,739.8L558.3,739.7L553.5,739.3L549.7,739.0L548.6,738.9L543.8,738.6M645.1,682.6L648.8,683.6L652.5,684.6L656.1,685.6L659.8,686.6L663.4,687.7L667.0,688.7L670.6,689.7L674.2,690.8L677.7,691.9L681.3,692.9L684.8,694.0L688.4,695.1L691.9,696.1L695.4,697.2L698.9,698.3L702.4,699.4L705.9,700.5L709.4,701.6L712.9,702.7L716.4,703.8L719.9,704.9L722.2,705.7L723.4,706.0L726.8,707.1L730.3,708.2L733.8,709.3L737.3,710.4L740.8,711.5L744.4,712.6L747.9,713.7L751.4,714.8L754.9,715.8L758.5,716.9L762.0,718.0L765.6,719.0L769.2,720.1L772.8,721.1L776.4,722.2L780.0,723.2L783.7,724.2L787.3,725.2L791.0,726.2L794.7,727.2L798.4,728.2L802.1,729.2L805.8,730.2L809.6,731.1L813.3,732.1L817.1,733.0L820.9,734.0L824.7,734.9L828.5,735.8L832.3,736.8L836.1,737.7L839.9,738.6L843.7,739.5L847.5,740.4L851.4,741.3L855.2,742.3L856.5,742.6L859.0,743.2L862.9,744.1L866.7,745.0L870.6,745.9L874.4,746.8L878.2,747.7L882.0,748.6L885.9,749.6L889.7,750.5L893.5,751.4L897.3,752.3L901.0,753.3L904.8,754.2L908.6,755.2L912.3,756.1L916.1,757.1L919.8,758.1L923.5,759.0L927.2,760.0L930.9,761.0L934.6,762.0L938.2,763.1" stroke="#a7c680" stroke-width="1.3" fill="none"/>
<path d="M843.4,815.4L840.7,813.9L838.0,812.4L836.0,811.3L835.2,810.9L832.5,809.3L829.8,807.8L828.5,807.1L827.1,806.3L824.3,804.7L821.6,803.2L821.0,802.9L818.9,801.7L816.1,800.2L813.3,798.7L813.3,798.7L810.6,797.2L807.8,795.7L805.1,794.3L805.0,794.2L802.2,792.7L799.3,791.3L796.5,789.8L796.2,789.7L793.6,788.4L790.7,787.0L787.8,785.6L786.2,784.9L784.8,784.2L781.8,782.8L778.8,781.4L775.8,780.1L774.5,779.5L772.7,778.7L769.6,777.4L766.5,776.1L763.4,774.8L760.1,773.6L759.1,773.2L756.9,772.3L753.7,771.1L750.4,769.9L747.0,768.7L743.7,767.5L740.2,766.4L736.8,765.3L733.2,764.2L729.7,763.1L726.1,762.1L722.4,761.1L718.8,760.1L715.0,759.1L711.3,758.1L707.5,757.2L703.6,756.3L699.7,755.4L695.8,754.6L691.8,753.8L687.8,753.0L683.7,752.2L680.9,751.7L679.6,751.4L675.5,750.7L671.3,749.9L667.1,749.2L662.8,748.5L660.4,748.2L658.6,747.9L654.3,747.2L650.0,746.6L645.6,745.9L643.5,745.6L641.3,745.3L636.9,744.7L632.5,744.1L628.3,743.6L628.0,743.6L623.5,743.0L619.1,742.4L614.5,741.9L614.3,741.9L610.0,741.4L605.5,740.8L601.1,740.4L600.9,740.4L596.3,739.9L591.7,739.4L588.8,739.1L587.0,738.9L582.3,738.5L577.6,738.1L577.0,738.0L572.9,737.6L568.2,737.2L565.6,737.0L563.4,736.8L558.7,736.4L554.6,736.1L553.9,736.0L549.1,735.6M630.9,690.5L634.6,691.4L638.3,692.4L642.0,693.4L645.6,694.4L649.2,695.5L652.8,696.5L656.4,697.6L659.9,698.7L663.4,699.8L666.9,700.8L670.4,701.9L673.5,702.9L673.9,703.0L677.4,704.2L680.9,705.3L684.3,706.4L687.7,707.5L691.2,708.7L694.6,709.8L698.0,710.9L701.4,712.1L704.9,713.2L708.3,714.4L711.7,715.5L712.1,715.6L715.1,716.6L718.5,717.8L721.9,718.9L725.4,720.1L728.8,721.2L732.3,722.3L735.7,723.4L739.2,724.5L742.7,725.7L746.2,726.7L749.7,727.8L753.2,728.9L756.8,730.0L760.4,731.0L761.7,731.4L764.0,732.1L767.6,733.1L771.3,734.1L774.9,735.1L778.6,736.1L781.0,736.7L782.4,737.1L786.1,738.0L789.9,739.0L793.7,739.9L797.5,740.8L801.3,741.8L805.1,742.7L809.0,743.6L812.8,744.5L816.7,745.3L820.6,746.2L824.5,747.1L828.4,748.0L832.3,748.8L835.8,749.6L836.2,749.7L840.1,750.6L844.0,751.5L847.9,752.3L851.9,753.2L855.8,754.1L859.7,754.9L863.5,755.8L867.4,756.7L871.3,757.6L875.2,758.5L879.0,759.4L879.4,759.5L882.9,760.3L886.7,761.2L890.5,762.1L894.3,763.1L898.1,764.0L901.9,764.9L905.6,765.9L909.4,766.9L913.1,767.8L916.8,768.8L920.4,769.8L924.0,770.9" stroke="#d8c26c" stroke-width="1.3" fill="none"/>
<path d="M849.6,812.0L846.8,810.5L845.0,809.5L844.1,809.0L841.4,807.4L838.7,805.9L837.7,805.4L836.0,804.4L833.3,802.8L830.7,801.3L830.6,801.3L828.0,799.7L825.3,798.1L823.9,797.3L822.7,796.6L820.0,795.0L817.3,793.5L817.0,793.3L814.7,791.9L812.0,790.4L810.0,789.3L809.3,788.8L806.6,787.3L803.9,785.8L802.8,785.2L801.2,784.2L798.5,782.7L795.7,781.2L795.3,781.0L793.0,779.7L790.2,778.2L787.4,776.7L787.3,776.7L784.6,775.2L781.8,773.7L778.9,772.3L778.8,772.2L776.1,770.8L773.3,769.3L770.3,767.9L769.2,767.4L767.4,766.5L764.5,765.1L761.4,763.8L758.3,762.5L757.2,762.0L755.2,761.1L752.1,759.8L748.8,758.6L745.5,757.4L742.0,756.3L738.5,755.2L734.9,754.2L731.2,753.2L727.4,752.3L723.5,751.4L719.5,750.6L715.4,749.8L711.3,749.1L708.5,748.6L707.0,748.4L702.8,747.7L698.5,747.0L694.1,746.4L691.3,746.0L689.7,745.8L685.4,745.2L680.9,744.6L676.6,744.1L676.4,744.1L672.0,743.5L667.4,743.0L662.9,742.5L662.8,742.5L658.4,741.9L653.8,741.4L649.8,741.0L649.2,740.9L644.6,740.4L640.0,739.9L637.2,739.7L635.4,739.5L630.8,739.0L626.1,738.5L624.8,738.4L621.5,738.0L616.9,737.6L612.7,737.2L612.2,737.1L607.5,736.7L602.8,736.2L601.0,736.1L598.1,735.8L593.4,735.4L589.5,735.1L588.7,735.0L584.0,734.6L579.2,734.2L578.2,734.1L574.5,733.7L569.7,733.3L567.0,733.1L564.9,733.0L560.2,732.5L555.8,732.2L555.4,732.1M617.9,697.6L621.7,698.6L625.4,699.5L629.0,700.6L632.7,701.6L636.2,702.7L639.7,703.7L643.3,704.8L646.7,705.9L650.2,707.1L651.2,707.4L653.6,708.2L657.0,709.4L660.4,710.5L663.7,711.7L667.0,712.9L670.3,714.1L673.6,715.3L676.9,716.5L677.4,716.7L680.1,717.8L683.4,719.0L686.6,720.3L689.8,721.5L693.0,722.8L695.6,723.9L696.2,724.1L699.3,725.4L702.5,726.7L705.6,727.9L708.8,729.2L711.7,730.4L711.9,730.5L715.1,731.8L718.2,733.1L721.4,734.4L724.6,735.6L727.9,736.9L728.9,737.3L731.1,738.1L734.4,739.3L737.7,740.5L741.1,741.7L744.6,742.8L748.1,743.8L751.8,744.9L755.5,745.9L759.2,746.8L763.1,747.7L767.0,748.6L771.0,749.4L775.0,750.2L777.8,750.7L779.1,751.0L783.2,751.7L787.3,752.5L791.5,753.2L795.6,753.9L799.8,754.7L800.2,754.7L804.0,755.4L808.2,756.1L812.3,756.9L816.5,757.6L820.7,758.3L821.4,758.4L824.8,759.0L828.9,759.8L833.1,760.5L837.2,761.3L841.3,762.1L844.8,762.7L845.4,762.8L849.4,763.6L853.5,764.4L857.5,765.2L861.5,766.1L865.5,766.9L869.4,767.7L873.4,768.6L875.8,769.1L877.3,769.4L881.2,770.3L885.0,771.2L888.9,772.1L892.7,773.1L896.5,774.0L900.2,775.0L903.9,775.9L907.6,777.0L911.1,778.0" stroke="#fec851" stroke-width="1.3" fill="none"/>
<path d="M859.2,806.7L856.5,805.2L853.8,803.6L853.1,803.3L851.2,802.0L848.7,800.4L847.4,799.5L846.2,798.7L843.8,797.0L842.4,796.1L841.5,795.3L839.2,793.5L838.3,792.8L837.1,791.7L834.9,789.8L834.8,789.7L833.1,787.8L832.2,786.9L831.5,785.6L830.7,784.3L830.5,783.1L830.3,782.1L831.5,780.3L834.4,779.0L839.3,778.3L839.5,778.3L844.9,778.3L847.4,778.3L849.9,778.5L854.6,778.9L859.1,779.4L859.2,779.4L863.6,780.0L867.8,780.7L872.0,781.4L876.1,782.2L879.6,782.9L880.1,783.0L884.0,783.9L887.8,784.8L891.5,785.8L895.1,786.9M601.8,706.5L605.6,707.5L609.2,708.5L612.8,709.5L613.9,709.9L616.2,710.7L619.6,711.9L622.8,713.1L626.0,714.4L629.1,715.7L632.0,717.0L632.1,717.1L634.9,718.6L637.5,720.1L638.8,721.0L639.8,721.9L641.5,723.9L641.6,724.0L641.5,726.0L639.3,727.5L635.3,728.5L632.8,728.8L629.9,729.2L626.4,729.3L623.2,729.4L620.7,729.4L615.5,729.5L615.1,729.5L609.9,729.3L607.1,729.3L604.7,729.2L599.6,729.0L598.1,728.9L594.5,728.7L589.5,728.5L588.5,728.4L584.6,728.1L579.6,727.8L578.4,727.8L574.8,727.5L570.0,727.1L567.5,726.9L565.3,726.7" stroke="#f5e638" stroke-width="1.3" fill="none"/>
<g fill-opacity="0.78" stroke="#111" stroke-width="1.35" stroke-linejoin="round">
<polygon points="684.3,565.4 666.0,560.4 678.8,558.8 697.1,563.8" fill="#65c8a1"/>
<polygon points="702.6,570.7 684.3,565.4 697.1,563.8 715.4,569.0" fill="#64c8a1"/>
<polygon points="720.9,576.0 702.6,570.7 715.4,569.0 733.7,574.2" fill="#64c8a2"/>
<polygon points="671.4,562.9 653.1,557.9 666.0,560.4 684.3,565.4" fill="#75ca8d"/>
<polygon points="739.2,581.4 720.9,576.0 733.7,574.2 752.0,579.4" fill="#64c8a2"/>
<polygon points="689.7,568.3 671.4,562.9 684.3,565.4 702.6,570.7" fill="#75ca8d"/>
<polygon points="757.5,586.7 739.2,581.4 752.0,579.4 770.4,584.6" fill="#63c7a3"/>
<polygon points="708.0,573.9 689.7,568.3 702.6,570.7 720.9,576.0" fill="#74ca8e"/>
<polygon points="658.6,555.1 640.3,550.1 653.1,557.9 671.4,562.9" fill="#91cb6e"/>
<polygon points="775.8,592.1 757.5,586.7 770.4,584.6 788.7,589.8" fill="#62c7a4"/>
<polygon points="726.4,579.6 708.0,573.9 720.9,576.0 739.2,581.4" fill="#73c98f"/>
<polygon points="676.9,560.8 658.6,555.1 671.4,562.9 689.7,568.3" fill="#90cb6f"/>
<polygon points="794.1,597.3 775.8,592.1 788.7,589.8 807.0,594.9" fill="#62c7a4"/>
<polygon points="744.7,585.2 726.4,579.6 739.2,581.4 757.5,586.7" fill="#72c991"/>
<polygon points="695.2,566.8 676.9,560.8 689.7,568.3 708.0,573.9" fill="#8ecb70"/>
<polygon points="812.5,602.4 794.1,597.3 807.0,594.9 825.3,600.0" fill="#62c7a5"/>
<polygon points="763.0,590.8 744.7,585.2 757.5,586.7 775.8,592.1" fill="#71c992"/>
<polygon points="713.5,572.9 695.2,566.8 708.0,573.9 726.4,579.6" fill="#8ccb72"/>
<polygon points="830.8,607.4 812.5,602.4 825.3,600.0 843.6,605.0" fill="#62c7a5"/>
<polygon points="645.7,543.2 627.4,538.1 640.3,550.1 658.6,555.1" fill="#bac84a"/>
<polygon points="781.3,596.2 763.0,590.8 775.8,592.1 794.1,597.3" fill="#70c993"/>
<polygon points="731.8,579.1 713.5,572.9 726.4,579.6 744.7,585.2" fill="#8acb74"/>
<polygon points="664.0,549.2 645.7,543.2 658.6,555.1 676.9,560.8" fill="#b9c84b"/>
<polygon points="849.1,612.2 830.8,607.4 843.6,605.0 861.9,609.9" fill="#62c7a4"/>
<polygon points="799.6,601.3 781.3,596.2 794.1,597.3 812.5,602.4" fill="#70c993"/>
<polygon points="750.1,585.0 731.8,579.1 744.7,585.2 763.0,590.8" fill="#88cc76"/>
<polygon points="682.4,555.7 664.0,549.2 676.9,560.8 695.2,566.8" fill="#b6c84d"/>
<polygon points="548.5,756.7 530.1,740.4 543.0,714.8 561.3,735.2" fill="#5265eb"/>
<polygon points="566.8,765.5 548.5,756.7 561.3,735.2 579.6,747.5" fill="#4f55df"/>
<polygon points="867.4,616.9 849.1,612.2 861.9,609.9 880.2,614.8" fill="#62c7a4"/>
<polygon points="817.9,606.2 799.6,601.3 812.5,602.4 830.8,607.4" fill="#70c993"/>
<polygon points="535.6,769.0 517.3,754.4 530.1,740.4 548.5,756.7" fill="#4f52dc"/>
<polygon points="768.5,590.7 750.1,585.0 763.0,590.8 781.3,596.2" fill="#87cc77"/>
<polygon points="553.9,776.4 535.6,769.0 548.5,756.7 566.8,765.5" fill="#4d48d3"/>
<polygon points="530.1,740.4 511.8,716.6 524.7,687.3 543.0,714.8" fill="#4e7aec"/>
<polygon points="517.3,754.4 499.0,732.5 511.8,716.6 530.1,740.4" fill="#5168ec"/>
<polygon points="579.6,747.5 561.3,735.2 574.1,694.7 592.5,713.4" fill="#4f74ec"/>
<polygon points="585.1,769.9 566.8,765.5 579.6,747.5 597.9,754.6" fill="#4e50da"/>
<polygon points="700.7,562.5 682.4,555.7 695.2,566.8 713.5,572.9" fill="#b3c950"/>
<polygon points="597.9,754.6 579.6,747.5 592.5,713.4 610.8,726.1" fill="#516aec"/>
<polygon points="885.7,621.6 867.4,616.9 880.2,614.8 898.5,619.6" fill="#63c7a3"/>
<polygon points="836.2,610.9 817.9,606.2 830.8,607.4 849.1,612.2" fill="#70c993"/>
<polygon points="561.3,735.2 543.0,714.8 555.8,668.5 574.1,694.7" fill="#4c86ec"/>
<polygon points="522.8,777.8 504.5,763.8 517.3,754.4 535.6,769.0" fill="#4e4cd7"/>
<polygon points="632.9,531.1 614.6,525.9 627.4,538.1 645.7,543.2" fill="#dabb45"/>
<polygon points="572.2,779.7 553.9,776.4 566.8,765.5 585.1,769.9" fill="#4d46d2"/>
<polygon points="786.8,595.9 768.5,590.7 781.3,596.2 799.6,601.3" fill="#86cc78"/>
<polygon points="504.5,763.8 486.1,742.7 499.0,732.5 517.3,754.4" fill="#5161e8"/>
<polygon points="719.0,569.3 700.7,562.5 713.5,572.9 731.8,579.1" fill="#afc953"/>
<polygon points="616.2,759.0 597.9,754.6 610.8,726.1 629.1,734.6" fill="#5266ec"/>
<polygon points="541.1,784.8 522.8,777.8 535.6,769.0 553.9,776.4" fill="#4c43cf"/>
<polygon points="603.4,772.3 585.1,769.9 597.9,754.6 616.2,759.0" fill="#4f51db"/>
<polygon points="904.0,626.3 885.7,621.6 898.5,619.6 916.9,624.5" fill="#64c8a2"/>
<polygon points="854.5,615.4 836.2,610.9 849.1,612.2 867.4,616.9" fill="#71c992"/>
<polygon points="543.0,714.8 524.7,687.3 537.5,637.9 555.8,668.5" fill="#4ca5e1"/>
<polygon points="651.2,537.5 632.9,531.1 645.7,543.2 664.0,549.2" fill="#d9bc45"/>
<polygon points="737.3,575.8 719.0,569.3 731.8,579.1 750.1,585.0" fill="#acc956"/>
<polygon points="805.1,600.7 786.8,595.9 799.6,601.3 817.9,606.2" fill="#86cc78"/>
<polygon points="634.5,762.3 616.2,759.0 629.1,734.6 647.4,740.8" fill="#5265ec"/>
<polygon points="509.9,785.5 491.6,771.7 504.5,763.8 522.8,777.8" fill="#4d4ad5"/>
<polygon points="590.5,781.1 572.2,779.7 585.1,769.9 603.4,772.3" fill="#4d49d5"/>
<polygon points="559.4,787.4 541.1,784.8 553.9,776.4 572.2,779.7" fill="#4c43cf"/>
<polygon points="491.6,771.7 473.3,750.8 486.1,742.7 504.5,763.8" fill="#515ee6"/>
<polygon points="621.7,774.4 603.4,772.3 616.2,759.0 634.5,762.3" fill="#4f54de"/>
<polygon points="610.8,726.1 592.5,713.4 605.3,657.4 623.6,676.1" fill="#4c99e5"/>
<polygon points="528.2,792.3 509.9,785.5 522.8,777.8 541.1,784.8" fill="#4c41ce"/>
<polygon points="922.3,631.0 904.0,626.3 916.9,624.5 935.2,629.4" fill="#64c8a2"/>
<polygon points="629.1,734.6 610.8,726.1 623.6,676.1 641.9,690.4" fill="#4c8ce9"/>
<polygon points="669.5,544.8 651.2,537.5 664.0,549.2 682.4,555.7" fill="#d7bd45"/>
<polygon points="872.9,619.8 854.5,615.4 867.4,616.9 885.7,621.6" fill="#72c991"/>
<polygon points="592.5,713.4 574.1,694.7 587.0,634.0 605.3,657.4" fill="#4cacde"/>
<polygon points="755.6,581.8 737.3,575.8 750.1,585.0 768.5,590.7" fill="#aac958"/>
<polygon points="823.4,605.1 805.1,600.7 817.9,606.2 836.2,610.9" fill="#87cc77"/>
<polygon points="652.9,765.9 634.5,762.3 647.4,740.8 665.7,745.9" fill="#5266ec"/>
<polygon points="647.4,740.8 629.1,734.6 641.9,690.4 660.2,700.9" fill="#4c85ec"/>
<polygon points="687.8,552.3 669.5,544.8 682.4,555.7 700.7,562.5" fill="#d4be45"/>
<polygon points="577.7,787.7 559.4,787.4 572.2,779.7 590.5,781.1" fill="#4d48d3"/>
<polygon points="608.9,782.3 590.5,781.1 603.4,772.3 621.7,774.4" fill="#4e4fd9"/>
<polygon points="546.5,794.0 528.2,792.3 541.1,784.8 559.4,787.4" fill="#4c42ce"/>
<polygon points="574.1,694.7 555.8,668.5 568.7,607.4 587.0,634.0" fill="#51c1c0"/>
<polygon points="940.6,635.8 922.3,631.0 935.2,629.4 953.5,634.3" fill="#64c8a1"/>
<polygon points="640.0,777.2 621.7,774.4 634.5,762.3 652.9,765.9" fill="#5058e0"/>
<polygon points="891.2,624.2 872.9,619.8 885.7,621.6 904.0,626.3" fill="#73c98f"/>
<polygon points="773.9,587.1 755.6,581.8 768.5,590.7 786.8,595.9" fill="#a9c959"/>
<polygon points="665.7,745.9 647.4,740.8 660.2,700.9 678.5,708.7" fill="#4c82ec"/>
<polygon points="620.0,523.4 601.7,518.0 614.6,525.9 632.9,531.1" fill="#e9c439"/>
<polygon points="841.7,609.2 823.4,605.1 836.2,610.9 854.5,615.4" fill="#88cc76"/>
<polygon points="671.2,770.3 652.9,765.9 665.7,745.9 684.0,750.8" fill="#5267ec"/>
<polygon points="706.1,559.8 687.8,552.3 700.7,562.5 719.0,569.3" fill="#d0c045"/>
<polygon points="959.0,640.9 940.6,635.8 953.5,634.3 971.8,639.3" fill="#65c8a1"/>
<polygon points="909.5,628.6 891.2,624.2 904.0,626.3 922.3,631.0" fill="#74ca8e"/>
<polygon points="658.3,781.4 640.0,777.2 652.9,765.9 671.2,770.3" fill="#505ae2"/>
<polygon points="555.8,668.5 537.5,637.9 550.4,581.6 568.7,607.4" fill="#78ca88"/>
<polygon points="627.2,784.6 608.9,782.3 621.7,774.4 640.0,777.2" fill="#4f53dd"/>
<polygon points="684.0,750.8 665.7,745.9 678.5,708.7 696.9,714.6" fill="#4c81ec"/>
<polygon points="792.2,591.8 773.9,587.1 786.8,595.9 805.1,600.7" fill="#a9c959"/>
<polygon points="638.4,530.6 620.0,523.4 632.9,531.1 651.2,537.5" fill="#e8c33a"/>
<polygon points="596.0,787.7 577.7,787.7 590.5,781.1 608.9,782.3" fill="#4e4fd9"/>
<polygon points="564.9,791.9 546.5,794.0 559.4,787.4 577.7,787.7" fill="#4d49d4"/>
<polygon points="724.5,566.9 706.1,559.8 719.0,569.3 737.3,575.8" fill="#cdc145"/>
<polygon points="689.5,775.9 671.2,770.3 684.0,750.8 702.3,755.9" fill="#5267ec"/>
<polygon points="860.0,613.2 841.7,609.2 854.5,615.4 872.9,619.8" fill="#8acb74"/>
<polygon points="656.7,538.7 638.4,530.6 651.2,537.5 669.5,544.8" fill="#e8c03d"/>
<polygon points="641.9,690.4 623.6,676.1 636.5,615.7 654.8,631.8" fill="#55c6b5"/>
<polygon points="676.6,787.2 658.3,781.4 671.2,770.3 689.5,775.9" fill="#505ae2"/>
<polygon points="927.8,633.3 909.5,628.6 922.3,631.0 940.6,635.8" fill="#75ca8d"/>
<polygon points="702.3,755.9 684.0,750.8 696.9,714.6 715.2,718.8" fill="#4c81ec"/>
<polygon points="742.8,573.4 724.5,566.9 737.3,575.8 755.6,581.8" fill="#cbc245"/>
<polygon points="810.5,595.9 792.2,591.8 805.1,600.7 823.4,605.1" fill="#aac958"/>
<polygon points="660.2,700.9 641.9,690.4 654.8,631.8 673.1,644.7" fill="#50bec4"/>
<polygon points="623.6,676.1 605.3,657.4 618.1,597.1 636.5,615.7" fill="#6ec995"/>
<polygon points="645.5,788.6 627.2,784.6 640.0,777.2 658.3,781.4" fill="#4f56df"/>
<polygon points="707.8,782.5 689.5,775.9 702.3,755.9 720.6,760.9" fill="#5266ec"/>
<polygon points="878.3,617.1 860.0,613.2 872.9,619.8 891.2,624.2" fill="#8ccb72"/>
<polygon points="614.3,789.1 596.0,787.7 608.9,782.3 627.2,784.6" fill="#4f55de"/>
<polygon points="675.0,547.3 656.7,538.7 669.5,544.8 687.8,552.3" fill="#e7bc40"/>
<polygon points="605.3,657.4 587.0,634.0 599.8,577.4 618.1,597.1" fill="#90cb6f"/>
<polygon points="678.5,708.7 660.2,700.9 673.1,644.7 691.4,654.4" fill="#4fb8cc"/>
<polygon points="607.2,523.0 588.9,516.6 601.7,518.0 620.0,523.4" fill="#ecd42c"/>
<polygon points="583.2,789.4 564.9,791.9 577.7,787.7 596.0,787.7" fill="#4f53dc"/>
<polygon points="695.0,794.5 676.6,787.2 689.5,775.9 707.8,782.5" fill="#5058e0"/>
<polygon points="761.1,578.9 742.8,573.4 755.6,581.8 773.9,587.1" fill="#c9c345"/>
<polygon points="946.1,638.3 927.8,633.3 940.6,635.8 959.0,640.9" fill="#75ca8d"/>
<polygon points="720.6,760.9 702.3,755.9 715.2,718.8 733.5,721.0" fill="#4c82ec"/>
<polygon points="663.8,794.7 645.5,788.6 658.3,781.4 676.6,787.2" fill="#4f56df"/>
<polygon points="828.9,599.5 810.5,595.9 823.4,605.1 841.7,609.2" fill="#acc956"/>
<polygon points="693.3,555.7 675.0,547.3 687.8,552.3 706.1,559.8" fill="#e6b844"/>
<polygon points="726.1,789.2 707.8,782.5 720.6,760.9 739.0,764.8" fill="#5265ec"/>
<polygon points="587.0,634.0 568.7,607.4 581.5,558.3 599.8,577.4" fill="#bac84a"/>
<polygon points="696.9,714.6 678.5,708.7 691.4,654.4 709.7,661.0" fill="#4eb5d0"/>
<polygon points="625.5,531.6 607.2,523.0 620.0,523.4 638.4,530.6" fill="#ecd12e"/>
<polygon points="896.6,621.1 878.3,617.1 891.2,624.2 909.5,628.6" fill="#8ecb70"/>
<polygon points="713.3,802.5 695.0,794.5 707.8,782.5 726.1,789.2" fill="#4f54de"/>
<polygon points="632.6,792.8 614.3,789.1 627.2,784.6 645.5,788.6" fill="#5058e1"/>
<polygon points="568.7,607.4 550.4,581.6 563.2,542.4 581.5,558.3" fill="#d6bd45"/>
<polygon points="711.6,563.6 693.3,555.7 706.1,559.8 724.5,566.9" fill="#e3b745"/>
<polygon points="779.4,583.4 761.1,578.9 773.9,587.1 792.2,591.8" fill="#c9c345"/>
<polygon points="682.1,802.5 663.8,794.7 676.6,787.2 695.0,794.5" fill="#4f53dd"/>
<polygon points="643.8,541.4 625.5,531.6 638.4,530.6 656.7,538.7" fill="#ebcd32"/>
<polygon points="847.2,602.8 828.9,599.5 841.7,609.2 860.0,613.2" fill="#afc953"/>
<polygon points="744.4,794.8 726.1,789.2 739.0,764.8 757.3,766.3" fill="#5266ec"/>
<polygon points="739.0,764.8 720.6,760.9 733.5,721.0 751.8,720.6" fill="#4c85ec"/>
<polygon points="715.2,718.8 696.9,714.6 709.7,661.0 728.0,664.5" fill="#4eb5d0"/>
<polygon points="601.5,788.9 583.2,789.4 596.0,787.7 614.3,789.1" fill="#505ce4"/>
<polygon points="731.6,810.1 713.3,802.5 726.1,789.2 744.4,794.8" fill="#4f51db"/>
<polygon points="594.4,532.5 576.0,523.2 588.9,516.6 607.2,523.0" fill="#edd928"/>
<polygon points="915.0,625.5 896.6,621.1 909.5,628.6 927.8,633.3" fill="#90cb6f"/>
<polygon points="700.4,811.3 682.1,802.5 695.0,794.5 713.3,802.5" fill="#4e4fd9"/>
<polygon points="651.0,799.2 632.6,792.8 645.5,788.6 663.8,794.7" fill="#5058e1"/>
<polygon points="662.1,551.7 643.8,541.4 656.7,538.7 675.0,547.3" fill="#e9c737"/>
<polygon points="729.9,570.5 711.6,563.6 724.5,566.9 742.8,573.4" fill="#e0b945"/>
<polygon points="654.8,631.8 636.5,615.7 649.3,571.9 667.6,585.0" fill="#bcc847"/>
<polygon points="636.5,615.7 618.1,597.1 631.0,558.1 649.3,571.9" fill="#cec145"/>
<polygon points="612.7,544.6 594.4,532.5 607.2,523.0 625.5,531.6" fill="#ecd32d"/>
<polygon points="797.7,587.1 779.4,583.4 792.2,591.8 810.5,595.9" fill="#cbc245"/>
<polygon points="581.5,558.3 563.2,542.4 576.0,523.2 594.4,532.5" fill="#ebcd31"/>
<polygon points="618.1,597.1 599.8,577.4 612.7,544.6 631.0,558.1" fill="#e0b845"/>
<polygon points="673.1,644.7 654.8,631.8 667.6,585.0 685.9,596.4" fill="#a8c959"/>
<polygon points="599.8,577.4 581.5,558.3 594.4,532.5 612.7,544.6" fill="#e8c13c"/>
<polygon points="680.5,561.8 662.1,551.7 675.0,547.3 693.3,555.7" fill="#e8c13c"/>
<polygon points="749.9,815.8 731.6,810.1 744.4,794.8 762.7,797.8" fill="#4e50da"/>
<polygon points="718.7,819.9 700.4,811.3 713.3,802.5 731.6,810.1" fill="#4d49d5"/>
<polygon points="865.5,606.0 847.2,602.8 860.0,613.2 878.3,617.1" fill="#b3c950"/>
<polygon points="631.0,558.1 612.7,544.6 625.5,531.6 643.8,541.4" fill="#eacb34"/>
<polygon points="669.3,807.8 651.0,799.2 663.8,794.7 682.1,802.5" fill="#4f55de"/>
<polygon points="691.4,654.4 673.1,644.7 685.9,596.4 704.2,605.4" fill="#9aca66"/>
<polygon points="733.5,721.0 715.2,718.8 728.0,664.5 746.3,664.9" fill="#4fb8cc"/>
<polygon points="762.7,797.8 744.4,794.8 757.3,766.3 775.6,763.8" fill="#516aec"/>
<polygon points="933.3,630.4 915.0,625.5 927.8,633.3 946.1,638.3" fill="#91cb6e"/>
<polygon points="619.8,791.9 601.5,788.9 614.3,789.1 632.6,792.8" fill="#5161e8"/>
<polygon points="748.2,576.2 729.9,570.5 742.8,573.4 761.1,578.9" fill="#deb945"/>
<polygon points="649.3,571.9 631.0,558.1 643.8,541.4 662.1,551.7" fill="#e8c13c"/>
<polygon points="757.3,766.3 739.0,764.8 751.8,720.6 770.1,716.4" fill="#4c8ce9"/>
<polygon points="698.8,571.0 680.5,561.8 693.3,555.7 711.6,563.6" fill="#e7bc40"/>
<polygon points="687.6,817.9 669.3,807.8 682.1,802.5 700.4,811.3" fill="#4e4fd9"/>
<polygon points="667.6,585.0 649.3,571.9 662.1,551.7 680.5,561.8" fill="#e6b843"/>
<polygon points="737.0,826.7 718.7,819.9 731.6,810.1 749.9,815.8" fill="#4d46d2"/>
<polygon points="816.0,590.0 797.7,587.1 810.5,595.9 828.9,599.5" fill="#cdc145"/>
<polygon points="709.7,661.0 691.4,654.4 704.2,605.4 722.5,611.8" fill="#93cb6c"/>
<polygon points="685.9,596.4 667.6,585.0 680.5,561.8 698.8,571.0" fill="#deb945"/>
<polygon points="883.8,609.5 865.5,606.0 878.3,617.1 896.6,621.1" fill="#b6c84d"/>
<polygon points="768.2,818.1 749.9,815.8 762.7,797.8 781.0,796.6" fill="#4f54de"/>
<polygon points="638.1,798.9 619.8,791.9 632.6,792.8 651.0,799.2" fill="#5161e8"/>
<polygon points="717.1,578.8 698.8,571.0 711.6,563.6 729.9,570.5" fill="#e6b744"/>
<polygon points="766.5,580.6 748.2,576.2 761.1,578.9 779.4,583.4" fill="#deb945"/>
<polygon points="705.9,827.7 687.6,817.9 700.4,811.3 718.7,819.9" fill="#4d48d3"/>
<polygon points="751.8,720.6 733.5,721.0 746.3,664.9 764.6,662.0" fill="#50bec4"/>
<polygon points="704.2,605.4 685.9,596.4 698.8,571.0 717.1,578.8" fill="#d7bc45"/>
<polygon points="755.4,830.5 737.0,826.7 749.9,815.8 768.2,818.1" fill="#4d47d2"/>
<polygon points="728.0,664.5 709.7,661.0 722.5,611.8 740.9,615.5" fill="#93cb6c"/>
<polygon points="781.0,796.6 762.7,797.8 775.6,763.8 793.9,755.9" fill="#4f73ec"/>
<polygon points="656.4,809.5 638.1,798.9 651.0,799.2 669.3,807.8" fill="#505ce4"/>
<polygon points="724.2,835.1 705.9,827.7 718.7,819.9 737.0,826.7" fill="#4c43cf"/>
<polygon points="834.3,592.6 816.0,590.0 828.9,599.5 847.2,602.8" fill="#d0c045"/>
<polygon points="735.4,584.7 717.1,578.8 729.9,570.5 748.2,576.2" fill="#e5b645"/>
<polygon points="775.6,763.8 757.3,766.3 770.1,716.4 788.4,707.7" fill="#4c99e5"/>
<polygon points="902.1,613.5 883.8,609.5 896.6,621.1 915.0,625.5" fill="#b9c84b"/>
<polygon points="784.9,583.7 766.5,580.6 779.4,583.4 797.7,587.1" fill="#e0b945"/>
<polygon points="674.7,822.1 656.4,809.5 669.3,807.8 687.6,817.9" fill="#4f53dc"/>
<polygon points="722.5,611.8 704.2,605.4 717.1,578.8 735.4,584.7" fill="#d4be45"/>
<polygon points="693.0,834.3 674.7,822.1 687.6,817.9 705.9,827.7" fill="#4d49d4"/>
<polygon points="786.5,816.9 768.2,818.1 781.0,796.6 799.4,790.8" fill="#515fe7"/>
<polygon points="742.5,839.3 724.2,835.1 737.0,826.7 755.4,830.5" fill="#4c42ce"/>
<polygon points="753.7,588.8 735.4,584.7 748.2,576.2 766.5,580.6" fill="#e5b645"/>
<polygon points="746.3,664.9 728.0,664.5 740.9,615.5 759.2,616.5" fill="#9aca66"/>
<polygon points="773.7,831.2 755.4,830.5 768.2,818.1 786.5,816.9" fill="#4e4cd7"/>
<polygon points="852.6,595.1 834.3,592.6 847.2,602.8 865.5,606.0" fill="#d4be45"/>
<polygon points="920.4,618.4 902.1,613.5 915.0,625.5 933.3,630.4" fill="#bac849"/>
<polygon points="711.4,842.6 693.0,834.3 705.9,827.7 724.2,835.1" fill="#4c42ce"/>
<polygon points="740.9,615.5 722.5,611.8 735.4,584.7 753.7,588.8" fill="#d4be45"/>
<polygon points="770.1,716.4 751.8,720.6 764.6,662.0 783.0,655.9" fill="#55c6b5"/>
<polygon points="803.2,585.9 784.9,583.7 797.7,587.1 816.0,590.0" fill="#e3b745"/>
<polygon points="799.4,790.8 781.0,796.6 793.9,755.9 812.2,743.2" fill="#4c82ec"/>
<polygon points="760.8,840.7 742.5,839.3 755.4,830.5 773.7,831.2" fill="#4d46d2"/>
<polygon points="772.0,591.1 753.7,588.8 766.5,580.6 784.9,583.7" fill="#e6b744"/>
<polygon points="729.7,847.0 711.4,842.6 724.2,835.1 742.5,839.3" fill="#4c40cd"/>
<polygon points="871.0,597.9 852.6,595.1 865.5,606.0 883.8,609.5" fill="#d7bd45"/>
<polygon points="793.9,755.9 775.6,763.8 788.4,707.7 806.7,694.9" fill="#4cacde"/>
<polygon points="759.2,616.5 740.9,615.5 753.7,588.8 772.0,591.1" fill="#d7bc45"/>
<polygon points="764.6,662.0 746.3,664.9 759.2,616.5 777.5,615.2" fill="#a8c959"/>
<polygon points="821.5,587.5 803.2,585.9 816.0,590.0 834.3,592.6" fill="#e6b844"/>
<polygon points="792.0,828.9 773.7,831.2 786.5,816.9 804.8,812.2" fill="#5058e0"/>
<polygon points="804.8,812.2 786.5,816.9 799.4,790.8 817.7,780.8" fill="#506dec"/>
<polygon points="748.0,848.6 729.7,847.0 742.5,839.3 760.8,840.7" fill="#4c44d0"/>
<polygon points="790.3,592.0 772.0,591.1 784.9,583.7 803.2,585.9" fill="#e7bc40"/>
<polygon points="889.3,601.4 871.0,597.9 883.8,609.5 902.1,613.5" fill="#d9bc45"/>
<polygon points="788.4,707.7 770.1,716.4 783.0,655.9 801.3,647.4" fill="#6ec995"/>
<polygon points="779.1,839.3 760.8,840.7 773.7,831.2 792.0,828.9" fill="#4e4fd9"/>
<polygon points="839.8,589.0 821.5,587.5 834.3,592.6 852.6,595.1" fill="#e7bc40"/>
<polygon points="777.5,615.2 759.2,616.5 772.0,591.1 790.3,592.0" fill="#deb945"/>
<polygon points="783.0,655.9 764.6,662.0 777.5,615.2 795.8,612.1" fill="#bcc847"/>
<polygon points="907.6,606.1 889.3,601.4 902.1,613.5 920.4,618.4" fill="#dbbb45"/>
<polygon points="817.7,780.8 799.4,790.8 812.2,743.2 830.5,727.6" fill="#4c99e5"/>
<polygon points="808.6,592.0 790.3,592.0 803.2,585.9 821.5,587.5" fill="#e8c13c"/>
<polygon points="766.3,847.5 748.0,848.6 760.8,840.7 779.1,839.3" fill="#4e4bd6"/>
<polygon points="812.2,743.2 793.9,755.9 806.7,694.9 825.0,680.2" fill="#50bec3"/>
<polygon points="858.1,590.9 839.8,589.0 852.6,595.1 871.0,597.9" fill="#e8c03d"/>
<polygon points="795.8,612.1 777.5,615.2 790.3,592.0 808.6,592.0" fill="#e6b843"/>
<polygon points="806.7,694.9 788.4,707.7 801.3,647.4 819.6,638.0" fill="#90cb6f"/>
<polygon points="827.0,591.7 808.6,592.0 821.5,587.5 839.8,589.0" fill="#e9c737"/>
<polygon points="801.3,647.4 783.0,655.9 795.8,612.1 814.1,608.4" fill="#cec145"/>
<polygon points="876.4,593.7 858.1,590.9 871.0,597.9 889.3,601.4" fill="#e8c33a"/>
<polygon points="814.1,608.4 795.8,612.1 808.6,592.0 827.0,591.7" fill="#e8c13c"/>
<polygon points="894.7,598.1 876.4,593.7 889.3,601.4 907.6,606.1" fill="#e9c439"/>
<polygon points="845.3,592.0 827.0,591.7 839.8,589.0 858.1,590.9" fill="#ebcd32"/>
<polygon points="830.5,727.6 812.2,743.2 825.0,680.2 843.4,666.8" fill="#6dc996"/>
<polygon points="819.6,638.0 801.3,647.4 814.1,608.4 832.4,605.0" fill="#e0b845"/>
<polygon points="825.0,680.2 806.7,694.9 819.6,638.0 837.9,629.6" fill="#b7c84c"/>
<polygon points="832.4,605.0 814.1,608.4 827.0,591.7 845.3,592.0" fill="#eacb34"/>
<polygon points="863.6,593.4 845.3,592.0 858.1,590.9 876.4,593.7" fill="#ecd12e"/>
<polygon points="881.9,596.9 863.6,593.4 876.4,593.7 894.7,598.1" fill="#ecd42c"/>
<polygon points="850.7,603.2 832.4,605.0 845.3,592.0 863.6,593.4" fill="#ecd32d"/>
<polygon points="837.9,629.6 819.6,638.0 832.4,605.0 850.7,603.2" fill="#e8c03c"/>
<polygon points="843.4,666.8 825.0,680.2 837.9,629.6 856.2,624.5" fill="#d3bf45"/>
<polygon points="869.0,604.0 850.7,603.2 863.6,593.4 881.9,596.9" fill="#edd928"/>
<polygon points="856.2,624.5 837.9,629.6 850.7,603.2 869.0,604.0" fill="#ebcc32"/>
</g>
<path d="M766.3,858.0L473.3,777.5M766.3,858.0L971.8,744.5M766.3,858.0L766.3,659.5M473.3,777.5L473.3,579.0M971.8,744.5L971.8,546.0M766.3,659.5L473.3,579.0M766.3,659.5L971.8,546.0M473.3,579.0L678.8,465.5M971.8,546.0L678.8,465.5" stroke="#231f20" stroke-width="1.7" fill="none" stroke-linecap="square"/>
<path d="M766.3,858.0L774.5,853.5M673.0,832.4L681.3,827.8M579.8,806.8L588.0,802.2M486.5,781.1L494.7,776.6M971.8,744.5L980.6,746.9M906.4,780.6L915.2,783.0M841.0,816.8L849.8,819.2M775.6,852.9L784.4,855.3" stroke="#777" stroke-width="1.1" fill="none"/>
<path d="M473.3,775.5L466.3,777.3M473.3,735.6L466.3,737.4M473.3,695.7L466.3,697.5M473.3,655.8L466.3,657.6M473.3,615.9L466.3,617.7" stroke="#888" stroke-width="1.1" fill="none"/>
<g font-family="Liberation Serif, Times New Roman, serif" font-size="25" fill="#231f20" text-anchor="end">
<text x="463.8" y="665.0">-0.1912</text>
<text x="463.8" y="744.5">-0.1916</text>
</g>
<g font-family="Liberation Serif, Times New Roman, serif" font-size="23.5" fill="#231f20" letter-spacing="0.6">
<text x="464.5" y="807.8">1.5</text>
<text x="448.1" y="832.0">[010]</text>
<text x="554.9" y="834.7">1.0</text>
<text x="647.3" y="856.7">0.5</text>
<text x="689.6" y="880.3">[100]</text>
<text x="754.2" y="883.4">0</text>
<text x="981.5" y="761.7">0</text>
<text x="961.1" y="783.0">[001]</text>
<text x="911.0" y="801.2">0.5</text>
<text x="854.7" y="834.6">1.0</text>
<text x="792.7" y="869.0">1.5</text>
<text x="513.8" y="844.5" font-style="italic" font-size="29">&#968;</text>
<text x="923.8" y="838.3" font-style="italic" font-size="26">&#945;</text>
</g>
<g font-family="Liberation Serif, Times New Roman, serif" fill="#c8102e">
<text x="591.5" y="834.0" font-size="23" font-weight="bold">h</text>
<text x="581.8" y="860.5" font-size="23.5" letter-spacing="0.7">[110]</text>
</g>
<path d="M626.8,814.0L607.3,828.3M615.8,828.9L606.3,829.0L609.3,820.0" stroke="#c8102e" stroke-width="2.6" fill="none" stroke-linecap="round" stroke-linejoin="miter"/>
<path d="M1342.3,411.2L1547.8,297.7M1323.7,406.1L1529.2,292.6M1305.0,400.9L1510.5,287.4M1286.4,395.8L1491.9,282.3M1267.7,390.7L1473.2,277.2M1249.1,385.6L1454.6,272.1M1230.4,380.4L1435.9,266.9M1211.8,375.3L1417.3,261.8M1193.1,370.2L1398.6,256.7M1174.5,365.1L1380.0,251.6M1155.8,359.9L1361.3,246.4M1137.2,354.8L1342.7,241.3M1118.5,349.7L1324.0,236.2M1099.9,344.6L1305.4,231.1M1081.2,339.4L1286.7,225.9M1374.1,409.1L1081.1,328.6M1387.2,401.8L1094.2,321.3M1400.2,394.6L1107.2,314.1M1413.3,387.4L1120.3,306.9M1426.4,380.2L1133.4,299.7M1439.5,372.9L1146.5,292.4M1452.6,365.7L1159.6,285.2M1465.7,358.5L1172.7,278.0M1478.7,351.3L1185.7,270.8M1491.8,344.0L1198.8,263.5M1504.9,336.8L1211.9,256.3M1518.0,329.6L1225.0,249.1M1531.1,322.4L1238.1,241.9M1544.2,315.1L1251.2,234.6M1557.2,307.9L1264.2,227.4M1081.1,328.6L1081.1,130.1M1094.2,321.3L1094.2,122.8M1107.2,314.1L1107.2,115.6M1120.3,306.9L1120.3,108.4M1133.4,299.7L1133.4,101.2M1146.5,292.4L1146.5,93.9M1159.6,285.2L1159.6,86.7M1172.7,278.0L1172.7,79.5M1185.7,270.8L1185.7,72.3M1198.8,263.5L1198.8,65.0M1211.9,256.3L1211.9,57.8M1225.0,249.1L1225.0,50.6M1238.1,241.9L1238.1,43.4M1251.2,234.6L1251.2,36.1M1264.2,227.4L1264.2,28.9M1068.0,332.4L1273.5,218.9M1068.0,329.0L1273.5,215.5M1068.0,325.5L1273.5,212.0M1068.0,322.1L1273.5,208.6M1068.0,318.7L1273.5,205.2M1068.0,315.3L1273.5,201.8M1068.0,311.8L1273.5,198.3M1068.0,308.4L1273.5,194.9M1068.0,305.0L1273.5,191.5M1068.0,301.6L1273.5,188.1M1068.0,298.2L1273.5,184.7M1068.0,294.7L1273.5,181.2M1068.0,291.3L1273.5,177.8M1068.0,287.9L1273.5,174.4M1068.0,284.5L1273.5,171.0M1068.0,281.0L1273.5,167.5M1068.0,277.6L1273.5,164.1M1068.0,274.2L1273.5,160.7M1068.0,270.8L1273.5,157.3M1068.0,267.4L1273.5,153.9M1068.0,263.9L1273.5,150.4M1068.0,260.5L1273.5,147.0M1068.0,257.1L1273.5,143.6M1068.0,253.7L1273.5,140.2M1068.0,250.2L1273.5,136.7M1068.0,246.8L1273.5,133.3M1068.0,243.4L1273.5,129.9M1068.0,240.0L1273.5,126.5M1068.0,236.6L1273.5,123.1M1068.0,233.1L1273.5,119.6M1068.0,229.7L1273.5,116.2M1068.0,226.3L1273.5,112.8M1068.0,222.9L1273.5,109.4M1068.0,219.4L1273.5,105.9M1068.0,216.0L1273.5,102.5M1068.0,212.6L1273.5,99.1M1068.0,209.2L1273.5,95.7M1068.0,205.7L1273.5,92.2M1068.0,202.3L1273.5,88.8M1068.0,198.9L1273.5,85.4M1068.0,195.5L1273.5,82.0M1068.0,192.1L1273.5,78.6M1068.0,188.6L1273.5,75.1M1068.0,185.2L1273.5,71.7M1068.0,181.8L1273.5,68.3M1068.0,178.4L1273.5,64.9M1068.0,174.9L1273.5,61.4M1068.0,171.5L1273.5,58.0M1068.0,168.1L1273.5,54.6M1068.0,164.7L1273.5,51.2M1068.0,161.3L1273.5,47.8M1068.0,157.8L1273.5,44.3M1068.0,154.4L1273.5,40.9M1068.0,151.0L1273.5,37.5M1068.0,147.6L1273.5,34.1M1068.0,144.1L1273.5,30.6M1068.0,140.7L1273.5,27.2M1547.8,297.7L1547.8,99.2M1529.2,292.6L1529.2,94.1M1510.5,287.4L1510.5,88.9M1491.9,282.3L1491.9,83.8M1473.2,277.2L1473.2,78.7M1454.6,272.1L1454.6,73.6M1435.9,266.9L1435.9,68.4M1417.3,261.8L1417.3,63.3M1398.6,256.7L1398.6,58.2M1380.0,251.6L1380.0,53.1M1361.3,246.4L1361.3,47.9M1342.7,241.3L1342.7,42.8M1324.0,236.2L1324.0,37.7M1305.4,231.1L1305.4,32.6M1286.7,225.9L1286.7,27.4M1566.5,299.4L1273.5,218.9M1566.5,296.0L1273.5,215.5M1566.5,292.5L1273.5,212.0M1566.5,289.1L1273.5,208.6M1566.5,285.7L1273.5,205.2M1566.5,282.3L1273.5,201.8M1566.5,278.8L1273.5,198.3M1566.5,275.4L1273.5,194.9M1566.5,272.0L1273.5,191.5M1566.5,268.6L1273.5,188.1M1566.5,265.2L1273.5,184.7M1566.5,261.7L1273.5,181.2M1566.5,258.3L1273.5,177.8M1566.5,254.9L1273.5,174.4M1566.5,251.5L1273.5,171.0M1566.5,248.0L1273.5,167.5M1566.5,244.6L1273.5,164.1M1566.5,241.2L1273.5,160.7M1566.5,237.8L1273.5,157.3M1566.5,234.4L1273.5,153.9M1566.5,230.9L1273.5,150.4M1566.5,227.5L1273.5,147.0M1566.5,224.1L1273.5,143.6M1566.5,220.7L1273.5,140.2M1566.5,217.2L1273.5,136.7M1566.5,213.8L1273.5,133.3M1566.5,210.4L1273.5,129.9M1566.5,207.0L1273.5,126.5M1566.5,203.6L1273.5,123.1M1566.5,200.1L1273.5,119.6M1566.5,196.7L1273.5,116.2M1566.5,193.3L1273.5,112.8M1566.5,189.9L1273.5,109.4M1566.5,186.4L1273.5,105.9M1566.5,183.0L1273.5,102.5M1566.5,179.6L1273.5,99.1M1566.5,176.2L1273.5,95.7M1566.5,172.7L1273.5,92.2M1566.5,169.3L1273.5,88.8M1566.5,165.9L1273.5,85.4M1566.5,162.5L1273.5,82.0M1566.5,159.1L1273.5,78.6M1566.5,155.6L1273.5,75.1M1566.5,152.2L1273.5,71.7M1566.5,148.8L1273.5,68.3M1566.5,145.4L1273.5,64.9M1566.5,141.9L1273.5,61.4M1566.5,138.5L1273.5,58.0M1566.5,135.1L1273.5,54.6M1566.5,131.7L1273.5,51.2M1566.5,128.3L1273.5,47.8M1566.5,124.8L1273.5,44.3M1566.5,121.4L1273.5,40.9M1566.5,118.0L1273.5,37.5M1566.5,114.6L1273.5,34.1M1566.5,111.1L1273.5,30.6M1566.5,107.7L1273.5,27.2" stroke="#e4e4e4" stroke-width="0.6" fill="none"/>
<path d="M1068.0,335.8L1273.5,222.3M1273.5,222.3L1566.5,302.8" stroke="#231f20" stroke-width="0.96" fill="none" stroke-opacity="0.4"/>
<path d="M1273.5,23.8L1273.5,112.7" stroke="#231f20" stroke-width="1.7" fill="none"/>
<path d="M1107.2,346.6L1109.9,345.2L1112.6,343.8L1115.3,342.4L1117.9,341.0L1120.5,339.6L1123.0,338.2L1125.4,336.7L1127.8,335.2L1129.9,333.7L1131.9,332.1L1133.6,330.5L1134.5,329.4L1134.9,328.7L1135.5,326.7L1135.5,325.8L1134.6,324.3L1133.9,323.7L1130.7,322.3L1126.9,321.4L1122.9,321.1L1122.0,321.1L1116.8,320.9L1114.5,321.0L1111.1,321.1L1108.1,321.3L1104.5,321.7L1102.8,322.0L1098.4,322.9L1095.7,323.5L1094.4,323.9L1090.9,325.1L1087.6,326.3L1084.4,327.5L1081.3,328.8L1078.4,330.0M1390.5,400.0L1389.7,398.7L1389.0,397.8L1387.0,395.9L1387.0,395.8L1384.6,394.2L1382.1,392.6L1381.4,392.2L1379.3,391.0L1376.6,389.5L1372.9,388.5L1368.6,387.9L1365.8,387.9L1362.8,388.0L1360.0,388.4L1355.6,389.3L1354.5,389.6L1351.8,390.4L1348.4,391.6L1345.2,392.8L1342.2,394.2L1339.4,395.5L1336.7,396.9L1334.1,398.3L1331.5,399.7L1329.0,401.1L1326.6,402.6L1324.1,404.0L1321.7,405.5" stroke="#4b57bc" stroke-width="1.3" fill="none"/>
<path d="M1125.8,351.7L1129.1,350.5L1129.4,350.3L1132.4,349.3L1135.8,348.0L1139.1,346.8L1142.5,345.6L1145.3,344.6L1145.8,344.4L1149.1,343.2L1152.4,342.0L1155.6,340.8L1158.8,339.5L1161.8,338.2L1164.7,336.9L1165.0,336.7L1167.5,335.5L1169.9,334.1L1170.2,333.9L1172.1,332.5L1173.7,330.9L1174.7,329.0L1174.8,328.3L1174.7,326.9L1174.1,325.7L1173.2,324.3L1172.4,323.6L1170.1,321.8L1168.8,321.0L1167.4,320.3L1164.5,318.9L1161.4,317.6L1158.1,316.3L1154.6,315.2L1150.8,314.3L1146.8,313.5L1142.6,312.8L1138.1,312.2L1136.2,312.0L1133.4,311.8L1128.7,311.4L1125.2,311.2L1123.7,311.1L1118.4,311.0L1117.0,311.0L1112.4,311.3M1408.4,390.1L1405.9,388.5L1405.2,388.1L1403.2,386.9L1400.4,385.4L1397.6,384.0L1397.3,383.8L1394.7,382.5L1391.8,381.1L1388.7,379.8L1385.3,378.6L1381.7,377.6L1377.9,376.7L1373.8,375.9L1369.6,375.2L1365.2,374.6L1362.8,374.3L1360.6,374.1L1355.5,373.9L1353.4,373.8L1349.9,374.0L1346.7,374.1L1343.3,374.6L1341.6,374.9L1337.5,375.8L1334.0,377.0L1331.4,378.1L1331.0,378.3L1328.3,379.7L1326.1,381.0L1325.9,381.2L1323.7,382.7L1321.6,384.2L1319.6,385.8L1317.7,387.4L1315.8,389.0L1314.0,390.6L1313.7,390.9L1312.2,392.3L1310.4,393.9L1308.6,395.5L1306.8,397.2L1305.2,398.6L1305.0,398.8L1303.2,400.4" stroke="#2480e3" stroke-width="1.3" fill="none"/>
<path d="M1144.9,356.9L1145.0,356.9L1149.1,356.0L1153.4,355.0L1154.2,354.8L1157.7,354.1L1162.2,353.2L1163.0,353.0L1166.7,352.3L1171.3,351.4L1171.4,351.4L1176.0,350.6L1179.4,350.0L1180.7,349.8L1185.6,349.0L1187.2,348.7L1190.6,348.2L1194.7,347.6L1195.6,347.5L1200.7,346.8L1202.1,346.5L1205.8,346.1L1209.4,345.5L1211.0,345.3L1216.1,344.6L1216.8,344.5L1221.0,343.8L1224.9,343.1L1225.5,343.0L1229.5,341.9L1232.3,340.6L1233.7,338.8L1233.5,338.3L1233.0,336.5L1232.3,335.9L1230.2,334.0L1229.6,333.5L1227.8,332.4L1225.1,330.8L1222.5,329.4L1222.3,329.3L1219.3,327.9L1216.3,326.6L1213.1,325.3L1210.0,324.0L1207.9,323.3L1206.7,322.8L1203.3,321.6L1199.9,320.5L1196.5,319.4L1193.0,318.3L1189.4,317.2L1185.8,316.2L1182.2,315.2L1178.5,314.2L1174.7,313.2L1170.9,312.3L1167.1,311.4L1163.2,310.5L1159.2,309.7L1157.3,309.3L1155.0,308.9L1150.7,308.3L1146.2,307.7L1141.8,307.2L1141.7,307.2L1137.1,306.7L1132.4,306.3L1130.2,306.1L1127.5,306.0L1122.3,305.8M1416.9,385.4L1415.2,384.4L1414.2,383.9L1411.4,382.4L1408.5,381.0L1406.6,380.0L1405.7,379.5L1402.8,378.1L1399.9,376.7L1396.8,375.3L1395.5,374.8L1393.6,374.0L1390.3,372.9L1386.9,371.7L1383.4,370.6L1379.8,369.5L1376.3,368.5L1372.6,367.5L1368.9,366.5L1365.2,365.5L1361.4,364.6L1357.6,363.6L1353.7,362.8L1349.8,361.9L1345.9,361.1L1344.4,360.7L1341.8,360.3L1337.7,359.5L1333.5,358.8L1329.2,358.1L1324.9,357.5L1324.7,357.5L1320.3,357.0L1315.7,356.5L1312.4,356.2L1310.8,356.2L1305.6,356.0L1303.9,356.0L1299.4,356.4L1298.1,356.5L1294.3,357.6L1292.0,359.1L1290.8,360.9L1290.8,361.2L1290.2,362.9L1290.1,364.6L1290.0,364.9L1289.9,367.0L1290.0,367.7L1289.9,369.2L1290.0,370.7L1290.0,371.3L1289.9,373.4L1290.0,373.7L1289.8,375.5L1289.8,376.9L1289.6,377.6L1289.4,379.6L1289.3,380.2L1289.0,381.6L1288.6,383.6L1288.6,383.7L1288.0,385.6L1287.5,387.2L1287.4,387.6L1286.7,389.5L1286.1,391.0L1285.9,391.4L1285.0,393.3L1284.1,395.1L1284.1,395.2" stroke="#2e99d7" stroke-width="1.3" fill="none"/>
<path d="M1169.6,363.7L1171.3,363.6L1175.9,363.3L1177.4,363.2L1182.6,363.0L1183.3,363.0L1188.9,362.9L1189.9,362.9L1194.3,363.0L1198.3,363.1L1199.5,363.1L1204.5,363.4L1208.5,363.8L1209.2,363.8L1213.8,364.3L1218.1,365.0L1222.2,365.7L1226.2,366.6L1228.9,367.3L1229.9,367.5L1230.9,367.8L1233.5,368.6L1236.9,369.7L1240.1,371.0L1243.1,372.4L1245.8,373.9L1246.2,374.1L1248.4,375.5L1250.8,377.2L1251.3,377.7L1252.9,379.1L1254.5,380.7L1254.9,381.0L1256.5,383.1L1256.7,383.4L1258.0,385.4L1258.3,386.0L1259.2,387.7L1259.4,388.4M1423.1,382.0L1420.3,380.5L1417.5,379.0L1416.1,378.3L1414.6,377.6L1411.7,376.2L1408.8,374.7L1406.4,373.5L1405.9,373.3L1402.9,372.0L1399.8,370.6L1396.6,369.4L1393.3,368.1L1390.1,366.9L1390.0,366.9L1386.7,365.7L1383.4,364.6L1380.0,363.4L1376.6,362.2L1373.2,361.1L1369.8,360.0L1366.3,358.8L1362.9,357.7L1359.4,356.6L1355.9,355.5L1353.2,354.7L1352.4,354.4L1348.9,353.3L1345.3,352.3L1341.7,351.2L1338.2,350.1L1334.6,349.1L1331.0,348.1L1327.4,347.0L1323.8,346.0L1320.2,344.9L1316.5,343.9L1312.9,342.9L1309.3,341.9L1305.6,340.9L1302.0,339.9L1298.3,338.8L1294.7,337.8L1291.0,336.8L1287.3,335.8L1283.7,334.8L1280.0,333.8L1276.3,332.8L1272.7,331.8L1269.0,330.8L1265.3,329.8L1261.6,328.8L1257.9,327.8L1254.2,326.8L1250.5,325.9L1246.8,324.9L1243.1,323.9L1239.4,322.9L1235.6,322.0L1231.9,321.0L1228.1,320.1L1224.3,319.1L1220.5,318.2L1219.7,318.0L1216.7,317.3L1212.9,316.4L1209.0,315.5L1205.2,314.6L1201.3,313.7L1197.4,312.8L1193.5,311.9L1189.5,311.1L1185.6,310.2L1181.6,309.4L1177.9,308.6L1177.6,308.6L1173.6,307.8L1169.5,307.0L1165.3,306.3L1161.1,305.6L1156.8,304.9L1156.6,304.9L1152.3,304.4L1147.8,303.8L1143.3,303.3L1142.8,303.2L1138.7,302.8L1134.0,302.4L1131.4,302.2L1129.0,302.1M1259.6,230.0L1263.4,230.9L1267.1,231.9L1270.9,232.8L1274.6,233.8L1278.2,234.8L1281.9,235.8L1285.6,236.8L1289.2,237.8L1292.9,238.9L1296.5,239.9L1300.1,240.9L1303.8,241.9L1307.4,243.0L1311.0,244.0L1314.6,245.0L1318.2,246.1L1321.8,247.1L1325.4,248.2L1329.0,249.2L1332.6,250.2L1336.2,251.3L1339.8,252.3L1343.4,253.4L1347.0,254.4L1350.6,255.4L1354.2,256.5L1357.8,257.5L1361.4,258.6L1365.0,259.6L1368.6,260.6L1372.2,261.7L1375.9,262.7L1379.5,263.7L1383.1,264.7L1386.8,265.8L1390.4,266.8L1394.0,267.8L1397.7,268.8L1401.3,269.8L1405.0,270.8L1408.7,271.8L1412.3,272.8L1416.0,273.8L1419.7,274.8L1423.4,275.8L1427.1,276.8L1430.8,277.8L1434.5,278.8L1438.2,279.8L1441.9,280.8L1445.6,281.7L1449.3,282.7L1453.0,283.7L1456.8,284.7L1460.5,285.6L1464.2,286.6L1467.9,287.6L1471.7,288.5L1475.4,289.5L1479.1,290.5L1482.8,291.5L1486.6,292.4L1490.3,293.4L1494.0,294.4L1497.7,295.4L1501.4,296.3L1505.1,297.3L1508.9,298.3L1512.6,299.3L1516.3,300.3L1520.0,301.2L1523.6,302.2L1527.3,303.2L1531.0,304.2L1534.6,305.3L1538.3,306.3L1541.9,307.3L1545.5,308.3L1549.1,309.4L1552.7,310.4" stroke="#24b2cb" stroke-width="1.3" fill="none"/>
<path d="M1428.5,379.0L1425.7,377.6L1422.8,376.1L1422.0,375.7L1419.9,374.7L1417.0,373.2L1414.1,371.8L1412.2,370.9L1411.2,370.4L1408.2,369.0L1405.1,367.7L1402.0,366.4L1398.9,365.1L1398.8,365.1L1395.7,363.8L1392.5,362.6L1389.2,361.3L1386.0,360.1L1382.7,358.9L1379.5,357.6L1379.4,357.6L1376.2,356.4L1372.9,355.2L1369.6,354.0L1366.2,352.8L1362.9,351.6L1359.5,350.5L1356.2,349.3L1353.8,348.5L1352.8,348.1L1349.4,347.0L1346.0,345.8L1342.6,344.7L1339.1,343.6L1335.7,342.4L1332.2,341.3L1328.7,340.2L1325.2,339.1L1321.7,338.0L1318.2,337.0L1314.6,335.9L1311.0,334.8L1307.4,333.8L1303.8,332.8L1300.2,331.7L1296.5,330.7L1292.9,329.7L1289.2,328.7L1285.5,327.8L1281.7,326.8L1278.0,325.8L1274.2,324.9L1270.4,324.0L1266.6,323.0L1262.8,322.1L1259.0,321.2L1255.1,320.3L1251.2,319.4L1247.4,318.5L1243.5,317.6L1239.5,316.8L1235.6,315.9L1234.4,315.7L1231.7,315.1L1227.7,314.2L1223.7,313.4L1219.7,312.6L1215.7,311.8L1211.7,310.9L1207.7,310.1L1203.7,309.4L1203.7,309.3L1199.6,308.6L1195.5,307.8L1191.4,307.0L1187.3,306.2L1183.2,305.5L1179.3,304.8L1179.1,304.7L1174.9,304.0L1170.7,303.3L1166.4,302.6L1162.1,302.0L1161.0,301.9L1157.6,301.4L1153.2,300.9L1148.7,300.3L1147.0,300.1L1144.1,299.8L1139.5,299.4L1135.1,299.0L1134.7,299.0M1239.8,240.9L1243.6,241.9L1247.3,242.8L1251.0,243.8L1254.7,244.8L1258.4,245.8L1259.2,246.0L1262.1,246.8L1265.8,247.8L1267.4,248.2L1269.4,248.8L1273.0,249.8L1276.7,250.8L1280.3,251.9L1283.9,252.9L1287.5,253.9L1291.1,255.0L1294.7,256.0L1298.3,257.1L1301.9,258.1L1305.5,259.2L1309.1,260.2L1312.6,261.3L1316.2,262.3L1319.8,263.4L1323.4,264.4L1327.0,265.5L1330.6,266.5L1334.2,267.5L1337.8,268.6L1341.4,269.6L1345.0,270.7L1348.6,271.7L1352.2,272.8L1355.8,273.8L1359.4,274.8L1363.0,275.9L1366.6,276.9L1370.3,277.9L1373.9,278.9L1377.6,279.9L1381.2,280.9L1384.9,282.0L1388.5,283.0L1392.2,284.0L1395.9,285.0L1399.6,286.0L1403.3,286.9L1407.0,287.9L1410.7,288.9L1414.4,289.9L1418.1,290.9L1421.8,291.8L1425.5,292.8L1429.3,293.8L1433.0,294.8L1436.7,295.7L1440.5,296.7L1444.2,297.7L1447.9,298.6L1451.7,299.6L1455.4,300.5L1459.1,301.5L1462.9,302.5L1466.6,303.4L1470.4,304.4L1474.1,305.4L1477.8,306.3L1481.6,307.3L1485.3,308.3L1489.0,309.3L1492.7,310.2L1496.4,311.2L1500.1,312.2L1503.8,313.2L1505.2,313.6L1507.5,314.2L1511.1,315.2L1514.8,316.2L1515.8,316.5L1518.4,317.2L1522.1,318.3L1525.7,319.3L1529.3,320.3L1532.8,321.4" stroke="#4bc0ac" stroke-width="1.3" fill="none"/>
<path d="M1433.6,376.2L1430.8,374.7L1427.9,373.3L1426.8,372.8L1425.0,371.9L1422.1,370.4L1419.2,369.0L1417.0,368.0L1416.3,367.6L1413.3,366.2L1410.3,364.8L1407.2,363.5L1404.7,362.4L1404.1,362.2L1401.0,360.9L1397.9,359.6L1394.7,358.3L1391.5,357.0L1389.1,356.0L1388.4,355.7L1385.2,354.5L1382.0,353.2L1378.8,351.9L1375.6,350.7L1372.4,349.4L1371.1,349.0L1369.1,348.2L1365.9,347.0L1362.6,345.8L1359.3,344.5L1356.0,343.3L1352.7,342.1L1349.3,341.0L1348.0,340.5L1346.0,339.8L1342.6,338.6L1339.2,337.5L1335.8,336.3L1332.3,335.2L1328.8,334.1L1325.4,333.0L1321.8,331.9L1318.3,330.8L1314.7,329.8L1311.1,328.7L1307.5,327.7L1303.8,326.7L1300.2,325.7L1296.5,324.7L1292.7,323.7L1289.0,322.8L1285.2,321.9L1281.4,320.9L1277.6,320.0L1273.7,319.1L1269.8,318.2L1265.9,317.3L1262.0,316.5L1258.1,315.6L1255.7,315.1L1254.1,314.8L1250.1,314.0L1246.1,313.2L1242.1,312.3L1238.1,311.5L1234.0,310.8L1229.9,310.0L1227.5,309.5L1225.9,309.2L1221.8,308.4L1217.7,307.7L1213.5,306.9L1209.4,306.2L1205.3,305.4L1204.3,305.3L1201.1,304.7L1196.9,304.0L1192.8,303.2L1188.6,302.5L1184.3,301.8L1183.7,301.7L1180.1,301.1L1175.9,300.5L1171.6,299.8L1167.2,299.2L1166.4,299.1L1162.7,298.6L1158.3,298.1L1153.8,297.5L1152.2,297.3L1149.3,297.0L1144.7,296.5L1140.0,296.0M1226.9,248.0L1230.7,249.0L1234.5,249.9L1238.2,250.9L1241.5,251.7L1241.9,251.9L1245.6,252.9L1249.3,253.8L1252.9,254.9L1256.6,255.9L1257.8,256.2L1260.2,256.9L1263.8,257.9L1267.4,259.0L1271.0,260.0L1274.6,261.1L1278.2,262.1L1281.8,263.2L1285.3,264.2L1288.9,265.3L1292.5,266.3L1296.0,267.4L1299.6,268.5L1303.2,269.5L1306.7,270.6L1310.3,271.6L1313.9,272.7L1317.4,273.8L1321.0,274.8L1324.6,275.9L1328.1,276.9L1331.7,278.0L1335.3,279.0L1338.9,280.1L1342.5,281.1L1346.1,282.2L1349.7,283.2L1353.3,284.2L1356.9,285.3L1360.6,286.3L1364.2,287.3L1367.9,288.3L1371.5,289.3L1375.2,290.3L1378.9,291.3L1382.5,292.3L1386.2,293.3L1389.9,294.3L1393.6,295.3L1397.4,296.3L1401.1,297.2L1404.8,298.2L1408.5,299.2L1412.3,300.1L1416.0,301.1L1419.8,302.0L1423.5,303.0L1427.3,304.0L1431.1,304.9L1434.8,305.9L1438.6,306.8L1442.4,307.8L1446.1,308.7L1449.9,309.7L1453.6,310.6L1457.4,311.6L1461.1,312.5L1464.9,313.5L1468.6,314.4L1472.4,315.4L1476.1,316.4L1479.8,317.3L1483.6,318.3L1487.3,319.3L1489.5,319.9L1491.0,320.3L1494.7,321.3L1498.3,322.3L1502.0,323.3L1505.6,324.3L1507.6,324.9L1509.3,325.3L1512.9,326.4L1516.4,327.4L1520.0,328.5" stroke="#90c689" stroke-width="1.3" fill="none"/>
<path d="M1439.0,373.2L1436.1,371.8L1433.2,370.4L1432.8,370.2L1430.3,368.9L1427.4,367.5L1424.5,366.1L1423.1,365.4L1421.6,364.6L1418.7,363.2L1415.7,361.9L1412.7,360.5L1411.9,360.2L1409.6,359.1L1406.6,357.8L1403.5,356.5L1400.4,355.1L1398.8,354.5L1397.4,353.8L1394.3,352.5L1391.2,351.2L1388.1,349.9L1384.9,348.6L1384.6,348.4L1381.8,347.3L1378.7,346.0L1375.5,344.7L1372.3,343.4L1369.1,342.1L1368.4,341.9L1365.9,340.9L1362.7,339.6L1359.5,338.4L1356.2,337.2L1352.9,335.9L1349.6,334.8L1347.2,333.9L1346.3,333.6L1342.9,332.4L1339.5,331.2L1336.1,330.1L1332.7,329.0L1329.2,327.9L1325.7,326.8L1322.1,325.7L1318.5,324.6L1314.9,323.6L1311.3,322.6L1307.6,321.6L1303.9,320.6L1300.1,319.7L1296.4,318.7L1292.6,317.8L1288.7,316.9L1284.8,316.0L1280.9,315.1L1277.0,314.3L1273.0,313.4L1271.9,313.2L1269.0,312.6L1265.0,311.8L1261.0,311.0L1256.9,310.2L1252.9,309.4L1248.7,308.7L1245.5,308.1L1244.6,307.9L1240.5,307.2L1236.3,306.4L1232.2,305.7L1228.0,305.0L1224.2,304.4L1223.8,304.3L1219.6,303.6L1215.4,302.9L1211.2,302.2L1206.9,301.5L1204.8,301.2L1202.7,300.8L1198.4,300.1L1194.2,299.4L1189.9,298.8L1186.7,298.3L1185.6,298.1L1181.3,297.5L1176.9,296.8L1172.5,296.2L1170.5,296.0L1168.1,295.7L1163.6,295.1L1159.2,294.5L1156.4,294.2L1154.6,294.0L1150.1,293.5L1145.5,293.0M1216.0,254.1L1219.8,255.0L1223.6,255.9L1227.3,256.9L1231.0,257.9L1234.7,258.9L1238.4,259.9L1242.0,260.9L1245.7,261.9L1249.3,263.0L1252.9,264.0L1256.4,265.0L1260.0,266.1L1263.6,267.2L1267.1,268.2L1270.7,269.3L1274.2,270.4L1277.7,271.5L1281.3,272.5L1284.8,273.6L1288.3,274.7L1291.8,275.8L1295.3,276.9L1298.9,278.0L1302.4,279.0L1303.9,279.5L1305.9,280.1L1309.4,281.2L1313.0,282.3L1316.5,283.4L1320.0,284.4L1323.6,285.5L1327.1,286.6L1330.7,287.6L1334.3,288.7L1337.8,289.8L1341.4,290.8L1345.0,291.8L1348.7,292.9L1352.3,293.9L1355.9,294.9L1359.6,295.9L1363.3,296.9L1366.9,297.9L1370.6,298.9L1374.3,299.9L1378.1,300.9L1381.8,301.8L1385.5,302.8L1389.3,303.7L1393.0,304.7L1396.8,305.6L1400.6,306.6L1404.4,307.5L1408.2,308.5L1412.0,309.4L1415.8,310.3L1417.9,310.8L1419.6,311.2L1423.4,312.2L1427.2,313.1L1431.0,314.0L1434.8,315.0L1438.6,315.9L1442.4,316.8L1446.2,317.7L1450.0,318.7L1453.8,319.6L1457.6,320.6L1461.3,321.5L1465.1,322.5L1468.9,323.4L1472.6,324.4L1476.3,325.3L1480.1,326.3L1483.8,327.3L1487.4,328.3L1491.1,329.3L1494.7,330.3L1498.4,331.3L1502.0,332.4L1505.5,333.4L1509.1,334.5" stroke="#cbc371" stroke-width="1.3" fill="none"/>
<path d="M1445.3,369.8L1443.2,368.8L1442.3,368.3L1439.5,366.9L1436.6,365.5L1433.7,364.1L1433.6,364.0L1430.8,362.6L1428.0,361.1L1425.0,359.7L1424.1,359.3L1422.1,358.3L1419.2,356.9L1416.2,355.5L1413.5,354.2L1413.2,354.1L1410.3,352.7L1407.4,351.3L1404.4,349.9L1402.5,349.1L1401.4,348.6L1398.4,347.2L1395.5,345.8L1392.5,344.4L1391.3,343.9L1389.5,343.0L1386.5,341.6L1383.5,340.3L1380.4,338.9L1379.5,338.5L1377.4,337.6L1374.4,336.2L1371.3,334.9L1368.2,333.6L1366.2,332.8L1365.1,332.3L1362.0,330.9L1358.8,329.6L1355.6,328.4L1352.4,327.1L1349.1,325.9L1349.0,325.9L1345.8,324.7L1342.5,323.5L1339.2,322.3L1335.7,321.2L1332.3,320.1L1328.7,319.0L1325.1,318.0L1321.5,317.0L1317.8,316.0L1314.1,315.0L1310.3,314.1L1306.4,313.2L1302.5,312.3L1298.6,311.4L1294.6,310.6L1290.6,309.9L1290.5,309.8L1286.5,309.0L1282.4,308.3L1278.3,307.5L1274.1,306.8L1269.9,306.1L1268.3,305.8L1265.7,305.4L1261.4,304.7L1257.2,304.0L1252.9,303.4L1249.9,302.9L1248.6,302.7L1244.3,302.0L1240.0,301.4L1235.7,300.8L1232.9,300.4L1231.3,300.1L1227.0,299.5L1222.6,298.9L1218.3,298.2L1216.6,298.0L1213.9,297.6L1209.6,297.0L1205.2,296.4L1200.8,295.8L1200.5,295.7L1196.5,295.1L1192.1,294.5L1187.7,293.9L1184.9,293.5L1183.3,293.3L1178.9,292.7L1174.4,292.2L1170.5,291.7L1169.9,291.6L1165.4,291.1L1160.9,290.5L1156.7,290.1L1156.4,290.0L1151.8,289.5M1204.9,260.2L1208.8,261.1L1212.6,262.0L1216.4,262.9L1220.1,263.9L1223.7,264.9L1227.4,265.9L1231.0,267.0L1234.6,268.0L1238.2,269.1L1241.7,270.2L1245.2,271.2L1248.7,272.3L1252.2,273.4L1255.7,274.6L1259.1,275.7L1260.1,276.0L1262.6,276.8L1266.0,277.9L1269.4,279.1L1272.8,280.2L1276.3,281.4L1279.7,282.5L1283.1,283.7L1286.4,284.8L1289.8,286.0L1293.2,287.1L1294.7,287.6L1296.6,288.3L1300.0,289.4L1303.4,290.6L1306.8,291.7L1310.2,292.9L1313.6,294.0L1317.1,295.2L1320.6,296.3L1324.0,297.4L1327.6,298.5L1331.1,299.5L1334.7,300.6L1338.2,301.6L1341.9,302.7L1345.5,303.7L1349.2,304.7L1352.9,305.7L1356.6,306.6L1360.4,307.6L1364.2,308.5L1368.0,309.4L1371.8,310.4L1375.7,311.3L1379.6,312.1L1383.5,313.0L1387.4,313.9L1391.3,314.7L1395.2,315.6L1399.2,316.5L1401.5,317.0L1403.1,317.3L1407.0,318.2L1411.0,319.0L1414.9,319.9L1418.8,320.8L1422.8,321.6L1426.7,322.5L1430.6,323.3L1434.5,324.2L1438.4,325.1L1441.2,325.7L1442.3,326.0L1446.1,326.9L1450.0,327.8L1453.8,328.7L1457.6,329.6L1461.4,330.5L1465.2,331.5L1469.0,332.4L1472.7,333.4L1476.5,334.4L1480.1,335.4L1483.8,336.4L1487.4,337.4L1491.0,338.4L1494.6,339.5L1498.1,340.6" stroke="#fbc457" stroke-width="1.3" fill="none"/>
<path d="M1454.5,364.7L1451.5,363.3L1448.6,361.8L1448.3,361.7L1445.9,360.3L1443.1,358.8L1440.4,357.4L1440.3,357.3L1437.7,355.8L1435.0,354.2L1433.3,353.3L1432.3,352.7L1429.8,351.1L1427.1,349.5L1427.0,349.4L1424.7,347.8L1422.2,346.2L1421.8,345.9L1420.0,344.3L1418.0,342.7L1417.8,342.5L1416.2,340.4L1416.0,340.1L1416.2,338.0L1419.3,336.7L1423.2,336.5L1426.1,336.5L1428.5,336.6L1433.2,337.1L1437.7,337.6L1438.0,337.6L1442.0,338.2L1446.2,338.9L1450.4,339.7L1454.5,340.4L1458.5,341.3L1461.2,341.9L1462.4,342.1L1466.2,343.0L1470.0,344.0L1473.7,345.0L1477.4,346.0L1480.9,347.0L1484.4,348.2M1191.2,267.7L1192.4,268.0L1195.1,268.6L1198.9,269.5L1202.6,270.5L1206.3,271.6L1209.8,272.6L1213.3,273.7L1214.2,274.0L1216.7,274.9L1220.1,276.1L1223.3,277.3L1226.5,278.6L1229.6,279.9L1232.5,281.1L1232.6,281.2L1235.4,282.7L1238.0,284.3L1239.2,285.1L1240.0,286.2L1240.9,287.7L1238.8,289.3L1233.9,290.0L1233.1,290.0L1227.4,290.2L1226.8,290.2L1222.2,290.0L1217.9,289.9L1217.1,289.8L1212.3,289.4L1207.5,289.2L1207.3,289.1L1202.7,288.7L1197.9,288.3L1196.1,288.1L1193.3,287.8L1188.6,287.3L1184.0,286.9L1183.9,286.9L1179.3,286.4L1174.7,285.9L1171.4,285.6L1170.1,285.4L1165.6,284.9L1161.1,284.4" stroke="#f6e439" stroke-width="1.3" fill="none"/>
<g fill-opacity="0.78" stroke="#111" stroke-width="1.35" stroke-linejoin="round">
<polygon points="1279.0,157.8 1260.7,153.0 1273.5,153.3 1291.8,158.2" fill="#4ca8e0"/>
<polygon points="1297.3,162.9 1279.0,157.8 1291.8,158.2 1310.1,163.3" fill="#4ca8e0"/>
<polygon points="1315.6,168.1 1297.3,162.9 1310.1,163.3 1328.4,168.4" fill="#4ca8e0"/>
<polygon points="1266.1,152.6 1247.8,147.9 1260.7,153.0 1279.0,157.8" fill="#4db3d3"/>
<polygon points="1333.9,173.3 1315.6,168.1 1328.4,168.4 1346.8,173.5" fill="#4ca7e0"/>
<polygon points="1284.4,157.7 1266.1,152.6 1279.0,157.8 1297.3,162.9" fill="#4db4d3"/>
<polygon points="1352.2,178.6 1333.9,173.3 1346.8,173.5 1365.1,178.7" fill="#4ca7e0"/>
<polygon points="1302.8,163.0 1284.4,157.7 1297.3,162.9 1315.6,168.1" fill="#4db3d3"/>
<polygon points="1370.5,183.8 1352.2,178.6 1365.1,178.7 1383.4,183.8" fill="#4ca7e1"/>
<polygon points="1253.3,141.2 1235.0,136.8 1247.8,147.9 1266.1,152.6" fill="#52c4bb"/>
<polygon points="1321.1,168.4 1302.8,163.0 1315.6,168.1 1333.9,173.3" fill="#4db3d4"/>
<polygon points="1388.8,189.0 1370.5,183.8 1383.4,183.8 1401.7,188.9" fill="#4ca7e1"/>
<polygon points="1339.4,173.9 1321.1,168.4 1333.9,173.3 1352.2,178.6" fill="#4db3d4"/>
<polygon points="1271.6,146.4 1253.3,141.2 1266.1,152.6 1284.4,157.7" fill="#52c4ba"/>
<polygon points="1407.2,194.0 1388.8,189.0 1401.7,188.9 1420.0,194.0" fill="#4ca7e1"/>
<polygon points="1357.7,179.2 1339.4,173.9 1352.2,178.6 1370.5,183.8" fill="#4db2d5"/>
<polygon points="1289.9,151.9 1271.6,146.4 1284.4,157.7 1302.8,163.0" fill="#52c4bb"/>
<polygon points="1425.5,199.0 1407.2,194.0 1420.0,194.0 1438.3,199.0" fill="#4ca7e1"/>
<polygon points="1308.2,157.6 1289.9,151.9 1302.8,163.0 1321.1,168.4" fill="#51c3bb"/>
<polygon points="1376.0,184.5 1357.7,179.2 1370.5,183.8 1388.8,189.0" fill="#4db2d5"/>
<polygon points="1240.4,124.1 1222.1,119.9 1235.0,136.8 1253.3,141.2" fill="#7dcb83"/>
<polygon points="1443.8,203.9 1425.5,199.0 1438.3,199.0 1456.6,204.0" fill="#4ca7e1"/>
<polygon points="1326.5,163.3 1308.2,157.6 1321.1,168.4 1339.4,173.9" fill="#51c3bc"/>
<polygon points="1394.3,189.6 1376.0,184.5 1388.8,189.0 1407.2,194.0" fill="#4db2d5"/>
<polygon points="1258.8,129.4 1240.4,124.1 1253.3,141.2 1271.6,146.4" fill="#7dcb82"/>
<polygon points="1462.1,208.8 1443.8,203.9 1456.6,204.0 1474.9,208.9" fill="#4ca7e1"/>
<polygon points="1344.8,168.9 1326.5,163.3 1339.4,173.9 1357.7,179.2" fill="#51c2bd"/>
<polygon points="1412.6,194.6 1394.3,189.6 1407.2,194.0 1425.5,199.0" fill="#4db2d5"/>
<polygon points="1277.1,135.3 1258.8,129.4 1271.6,146.4 1289.9,151.9" fill="#7ccb83"/>
<polygon points="1480.4,213.6 1462.1,208.8 1474.9,208.9 1493.2,213.8" fill="#4ca7e0"/>
<polygon points="1363.2,174.3 1344.8,168.9 1357.7,179.2 1376.0,184.5" fill="#51c2be"/>
<polygon points="1430.9,199.4 1412.6,194.6 1425.5,199.0 1443.8,203.9" fill="#4db2d5"/>
<polygon points="1295.4,141.4 1277.1,135.3 1289.9,151.9 1308.2,157.6" fill="#7bca86"/>
<polygon points="1498.7,218.4 1480.4,213.6 1493.2,213.8 1511.6,218.7" fill="#4ca7e0"/>
<polygon points="1381.5,179.5 1363.2,174.3 1376.0,184.5 1394.3,189.6" fill="#51c2be"/>
<polygon points="1449.2,204.0 1430.9,199.4 1443.8,203.9 1462.1,208.8" fill="#4db2d5"/>
<polygon points="1313.7,147.5 1295.4,141.4 1308.2,157.6 1326.5,163.3" fill="#79ca88"/>
<polygon points="1227.6,104.8 1209.3,100.8 1222.1,119.9 1240.4,124.1" fill="#b9c84b"/>
<polygon points="1112.0,321.0 1093.7,306.5 1106.5,289.8 1124.8,306.2" fill="#4f56e0"/>
<polygon points="1124.8,306.2 1106.5,289.8 1119.4,260.1 1137.7,280.2" fill="#516cec"/>
<polygon points="1517.0,223.2 1498.7,218.4 1511.6,218.7 1529.9,223.6" fill="#4ca8e0"/>
<polygon points="1399.8,184.4 1381.5,179.5 1394.3,189.6 1412.6,194.6" fill="#51c2be"/>
<polygon points="1143.2,309.4 1124.8,306.2 1137.7,280.2 1156.0,288.1" fill="#5263ea"/>
<polygon points="1467.6,208.7 1449.2,204.0 1462.1,208.8 1480.4,213.6" fill="#4db3d4"/>
<polygon points="1130.3,321.8 1112.0,321.0 1124.8,306.2 1143.2,309.4" fill="#4e50db"/>
<polygon points="1332.0,153.4 1313.7,147.5 1326.5,163.3 1344.8,168.9" fill="#77ca8a"/>
<polygon points="1099.2,331.0 1080.8,317.3 1093.7,306.5 1112.0,321.0" fill="#4e4dd7"/>
<polygon points="1245.9,110.4 1227.6,104.8 1240.4,124.1 1258.8,129.4" fill="#b9c84a"/>
<polygon points="1535.3,228.2 1517.0,223.2 1529.9,223.6 1548.2,228.6" fill="#4ca8e0"/>
<polygon points="1418.1,189.0 1399.8,184.4 1412.6,194.6 1430.9,199.4" fill="#51c2be"/>
<polygon points="1156.0,288.1 1137.7,280.2 1150.5,235.2 1168.8,249.9" fill="#4c83ec"/>
<polygon points="1485.9,213.3 1467.6,208.7 1480.4,213.6 1498.7,218.4" fill="#4db3d4"/>
<polygon points="1137.7,280.2 1119.4,260.1 1132.2,211.0 1150.5,235.2" fill="#4c94e7"/>
<polygon points="1117.5,330.4 1099.2,331.0 1112.0,321.0 1130.3,321.8" fill="#4d49d5"/>
<polygon points="1350.3,159.1 1332.0,153.4 1344.8,168.9 1363.2,174.3" fill="#76ca8c"/>
<polygon points="1161.5,303.4 1143.2,309.4 1156.0,288.1 1174.3,287.4" fill="#5168ec"/>
<polygon points="1264.2,116.8 1245.9,110.4 1258.8,129.4 1277.1,135.3" fill="#b7c84c"/>
<polygon points="1086.3,339.1 1068.0,325.8 1080.8,317.3 1099.2,331.0" fill="#4d49d4"/>
<polygon points="1553.7,233.4 1535.3,228.2 1548.2,228.6 1566.5,233.8" fill="#4ca8e0"/>
<polygon points="1174.3,287.4 1156.0,288.1 1168.8,249.9 1187.2,257.0" fill="#4c80ec"/>
<polygon points="1436.4,193.5 1418.1,189.0 1430.9,199.4 1449.2,204.0" fill="#51c2bd"/>
<polygon points="1148.6,312.1 1130.3,321.8 1143.2,309.4 1161.5,303.4" fill="#515de5"/>
<polygon points="1504.2,218.1 1485.9,213.3 1498.7,218.4 1517.0,223.2" fill="#4db3d3"/>
<polygon points="1368.6,164.3 1350.3,159.1 1363.2,174.3 1381.5,179.5" fill="#75ca8d"/>
<polygon points="1282.5,123.4 1264.2,116.8 1277.1,135.3 1295.4,141.4" fill="#b5c94e"/>
<polygon points="1104.6,337.6 1086.3,339.1 1099.2,331.0 1117.5,330.4" fill="#4d47d3"/>
<polygon points="1454.7,197.9 1436.4,193.5 1449.2,204.0 1467.6,208.7" fill="#51c3bc"/>
<polygon points="1192.6,285.3 1174.3,287.4 1187.2,257.0 1205.5,261.4" fill="#4c84ec"/>
<polygon points="1522.5,223.0 1504.2,218.1 1517.0,223.2 1535.3,228.2" fill="#4db4d3"/>
<polygon points="1179.8,296.8 1161.5,303.4 1174.3,287.4 1192.6,285.3" fill="#4f73ec"/>
<polygon points="1300.8,130.1 1282.5,123.4 1295.4,141.4 1313.7,147.5" fill="#b1c951"/>
<polygon points="1386.9,169.1 1368.6,164.3 1381.5,179.5 1399.8,184.4" fill="#75ca8d"/>
<polygon points="1135.8,317.5 1117.5,330.4 1130.3,321.8 1148.6,312.1" fill="#505be3"/>
<polygon points="1214.8,89.0 1196.4,84.7 1209.3,100.8 1227.6,104.8" fill="#e3b745"/>
<polygon points="1168.8,249.9 1150.5,235.2 1163.4,174.2 1181.7,193.2" fill="#50bdc5"/>
<polygon points="1187.2,257.0 1168.8,249.9 1181.7,193.2 1200.0,207.6" fill="#4db3d4"/>
<polygon points="1473.0,202.2 1454.7,197.9 1467.6,208.7 1485.9,213.3" fill="#51c3bb"/>
<polygon points="1319.2,136.6 1300.8,130.1 1313.7,147.5 1332.0,153.4" fill="#aec954"/>
<polygon points="1540.8,228.3 1522.5,223.0 1535.3,228.2 1553.7,233.4" fill="#4db3d3"/>
<polygon points="1405.2,173.6 1386.9,169.1 1399.8,184.4 1418.1,189.0" fill="#76ca8c"/>
<polygon points="1166.9,302.2 1148.6,312.1 1161.5,303.4 1179.8,296.8" fill="#506fec"/>
<polygon points="1150.5,235.2 1132.2,211.0 1145.1,151.4 1163.4,174.2" fill="#61c7a5"/>
<polygon points="1233.1,95.3 1214.8,89.0 1227.6,104.8 1245.9,110.4" fill="#e3b745"/>
<polygon points="1210.9,283.6 1192.6,285.3 1205.5,261.4 1223.8,264.6" fill="#4c8aea"/>
<polygon points="1205.5,261.4 1187.2,257.0 1200.0,207.6 1218.3,219.1" fill="#4cafdb"/>
<polygon points="1122.9,321.3 1104.6,337.6 1117.5,330.4 1135.8,317.5" fill="#505ce4"/>
<polygon points="1337.5,142.5 1319.2,136.6 1332.0,153.4 1350.3,159.1" fill="#acc956"/>
<polygon points="1198.1,291.8 1179.8,296.8 1192.6,285.3 1210.9,283.6" fill="#4d7fec"/>
<polygon points="1491.3,206.8 1473.0,202.2 1485.9,213.3 1504.2,218.1" fill="#52c4bb"/>
<polygon points="1251.4,102.5 1233.1,95.3 1245.9,110.4 1264.2,116.8" fill="#e0b845"/>
<polygon points="1423.6,177.7 1405.2,173.6 1418.1,189.0 1436.4,193.5" fill="#77ca8a"/>
<polygon points="1223.8,264.6 1205.5,261.4 1218.3,219.1 1236.6,228.2" fill="#4cacde"/>
<polygon points="1229.2,283.4 1210.9,283.6 1223.8,264.6 1242.1,267.7" fill="#4c90e8"/>
<polygon points="1154.1,304.5 1135.8,317.5 1148.6,312.1 1166.9,302.2" fill="#4f71ec"/>
<polygon points="1355.8,147.9 1337.5,142.5 1350.3,159.1 1368.6,164.3" fill="#abc957"/>
<polygon points="1269.7,110.1 1251.4,102.5 1264.2,116.8 1282.5,123.4" fill="#ddba45"/>
<polygon points="1509.7,211.6 1491.3,206.8 1504.2,218.1 1522.5,223.0" fill="#52c4ba"/>
<polygon points="1242.1,267.7 1223.8,264.6 1236.6,228.2 1254.9,235.7" fill="#4cacdf"/>
<polygon points="1441.9,181.6 1423.6,177.7 1436.4,193.5 1454.7,197.9" fill="#79ca88"/>
<polygon points="1185.2,294.7 1166.9,302.2 1179.8,296.8 1198.1,291.8" fill="#4d7fec"/>
<polygon points="1201.9,82.4 1183.6,76.8 1196.4,84.7 1214.8,89.0" fill="#ebcd32"/>
<polygon points="1216.4,289.4 1198.1,291.8 1210.9,283.6 1229.2,283.4" fill="#4c88eb"/>
<polygon points="1288.0,117.7 1269.7,110.1 1282.5,123.4 1300.8,130.1" fill="#dabb45"/>
<polygon points="1374.1,152.6 1355.8,147.9 1368.6,164.3 1386.9,169.1" fill="#abc957"/>
<polygon points="1528.0,217.1 1509.7,211.6 1522.5,223.0 1540.8,228.3" fill="#52c4bb"/>
<polygon points="1247.6,285.2 1229.2,283.4 1242.1,267.7 1260.4,271.4" fill="#4c94e7"/>
<polygon points="1200.0,207.6 1181.7,193.2 1194.5,136.6 1212.8,152.0" fill="#96cb6a"/>
<polygon points="1260.4,271.4 1242.1,267.7 1254.9,235.7 1273.2,241.9" fill="#4cabdf"/>
<polygon points="1181.7,193.2 1163.4,174.2 1176.2,120.3 1194.5,136.6" fill="#b1c951"/>
<polygon points="1218.3,219.1 1200.0,207.6 1212.8,152.0 1231.2,166.2" fill="#81cb7e"/>
<polygon points="1460.2,185.6 1441.9,181.6 1454.7,197.9 1473.0,202.2" fill="#7bca86"/>
<polygon points="1220.2,90.2 1201.9,82.4 1214.8,89.0 1233.1,95.3" fill="#ebcc33"/>
<polygon points="1163.4,174.2 1145.1,151.4 1157.9,104.7 1176.2,120.3" fill="#cbc245"/>
<polygon points="1306.3,124.9 1288.0,117.7 1300.8,130.1 1319.2,136.6" fill="#d7bd45"/>
<polygon points="1236.6,228.2 1218.3,219.1 1231.2,166.2 1249.5,178.7" fill="#72c990"/>
<polygon points="1141.2,304.7 1122.9,321.3 1135.8,317.5 1154.1,304.5" fill="#4e77ec"/>
<polygon points="1392.4,156.7 1374.1,152.6 1386.9,169.1 1405.2,173.6" fill="#acc956"/>
<polygon points="1254.9,235.7 1236.6,228.2 1249.5,178.7 1267.8,189.1" fill="#68c89d"/>
<polygon points="1278.7,275.9 1260.4,271.4 1273.2,241.9 1291.6,247.3" fill="#4cacdf"/>
<polygon points="1238.5,99.0 1220.2,90.2 1233.1,95.3 1251.4,102.5" fill="#eac935"/>
<polygon points="1234.7,289.9 1216.4,289.4 1229.2,283.4 1247.6,285.2" fill="#4c90e8"/>
<polygon points="1265.9,289.1 1247.6,285.2 1260.4,271.4 1278.7,275.9" fill="#4c96e6"/>
<polygon points="1172.4,294.4 1154.1,304.5 1166.9,302.2 1185.2,294.7" fill="#4c84ec"/>
<polygon points="1203.6,290.4 1185.2,294.7 1198.1,291.8 1216.4,289.4" fill="#4c8cea"/>
<polygon points="1324.6,131.3 1306.3,124.9 1319.2,136.6 1337.5,142.5" fill="#d4be45"/>
<polygon points="1478.5,189.8 1460.2,185.6 1473.0,202.2 1491.3,206.8" fill="#7ccb83"/>
<polygon points="1189.1,90.5 1170.8,81.5 1183.6,76.8 1201.9,82.4" fill="#edd829"/>
<polygon points="1273.2,241.9 1254.9,235.7 1267.8,189.1 1286.1,197.3" fill="#61c7a5"/>
<polygon points="1256.8,108.3 1238.5,99.0 1251.4,102.5 1269.7,110.1" fill="#e9c439"/>
<polygon points="1410.7,160.3 1392.4,156.7 1405.2,173.6 1423.6,177.7" fill="#aec954"/>
<polygon points="1297.0,281.4 1278.7,275.9 1291.6,247.3 1309.9,252.0" fill="#4cacdf"/>
<polygon points="1176.2,120.3 1157.9,104.7 1170.8,81.5 1189.1,90.5" fill="#eacb34"/>
<polygon points="1284.2,295.3 1265.9,289.1 1278.7,275.9 1297.0,281.4" fill="#4c96e6"/>
<polygon points="1342.9,136.9 1324.6,131.3 1337.5,142.5 1355.8,147.9" fill="#d3be45"/>
<polygon points="1207.4,101.6 1189.1,90.5 1201.9,82.4 1220.2,90.2" fill="#ecd32d"/>
<polygon points="1194.5,136.6 1176.2,120.3 1189.1,90.5 1207.4,101.6" fill="#e8c03d"/>
<polygon points="1253.0,293.4 1234.7,289.9 1247.6,285.2 1265.9,289.1" fill="#4c94e7"/>
<polygon points="1496.8,194.6 1478.5,189.8 1491.3,206.8 1509.7,211.6" fill="#7dcb82"/>
<polygon points="1275.2,117.5 1256.8,108.3 1269.7,110.1 1288.0,117.7" fill="#e8c03d"/>
<polygon points="1212.8,152.0 1194.5,136.6 1207.4,101.6 1225.7,113.5" fill="#e3b745"/>
<polygon points="1291.6,247.3 1273.2,241.9 1286.1,197.3 1304.4,203.4" fill="#5ec7a9"/>
<polygon points="1231.2,166.2 1212.8,152.0 1225.7,113.5 1244.0,125.6" fill="#d5bd45"/>
<polygon points="1225.7,113.5 1207.4,101.6 1220.2,90.2 1238.5,99.0" fill="#ebcc32"/>
<polygon points="1249.5,178.7 1231.2,166.2 1244.0,125.6 1262.3,137.0" fill="#c9c345"/>
<polygon points="1221.9,289.8 1203.6,290.4 1216.4,289.4 1234.7,289.9" fill="#4c96e6"/>
<polygon points="1302.5,303.6 1284.2,295.3 1297.0,281.4 1315.3,287.8" fill="#4c94e7"/>
<polygon points="1429.0,163.7 1410.7,160.3 1423.6,177.7 1441.9,181.6" fill="#b1c951"/>
<polygon points="1315.3,287.8 1297.0,281.4 1309.9,252.0 1328.2,255.8" fill="#4cabdf"/>
<polygon points="1293.5,125.9 1275.2,117.5 1288.0,117.7 1306.3,124.9" fill="#e7bb41"/>
<polygon points="1361.2,141.4 1342.9,136.9 1355.8,147.9 1374.1,152.6" fill="#d3be45"/>
<polygon points="1244.0,125.6 1225.7,113.5 1238.5,99.0 1256.8,108.3" fill="#e9c539"/>
<polygon points="1267.8,189.1 1249.5,178.7 1262.3,137.0 1280.6,147.0" fill="#c0c845"/>
<polygon points="1159.6,291.7 1141.2,304.7 1154.1,304.5 1172.4,294.4" fill="#4c8fe9"/>
<polygon points="1271.3,300.0 1253.0,293.4 1265.9,289.1 1284.2,295.3" fill="#4c94e7"/>
<polygon points="1190.7,288.3 1172.4,294.4 1185.2,294.7 1203.6,290.4" fill="#4c96e6"/>
<polygon points="1515.1,200.3 1496.8,194.6 1509.7,211.6 1528.0,217.1" fill="#7dcb83"/>
<polygon points="1309.9,252.0 1291.6,247.3 1304.4,203.4 1322.7,207.3" fill="#5ec7a9"/>
<polygon points="1320.8,313.8 1302.5,303.6 1315.3,287.8 1333.7,294.8" fill="#4c90e8"/>
<polygon points="1262.3,137.0 1244.0,125.6 1256.8,108.3 1275.2,117.5" fill="#e7bd3f"/>
<polygon points="1286.1,197.3 1267.8,189.1 1280.6,147.0 1298.9,155.3" fill="#b6c84d"/>
<polygon points="1311.8,133.1 1293.5,125.9 1306.3,124.9 1324.6,131.3" fill="#e6b843"/>
<polygon points="1333.7,294.8 1315.3,287.8 1328.2,255.8 1346.5,258.4" fill="#4cacdf"/>
<polygon points="1289.7,309.6 1271.3,300.0 1284.2,295.3 1302.5,303.6" fill="#4c90e8"/>
<polygon points="1447.3,167.1 1429.0,163.7 1441.9,181.6 1460.2,185.6" fill="#b5c94e"/>
<polygon points="1280.6,147.0 1262.3,137.0 1275.2,117.5 1293.5,125.9" fill="#e6b744"/>
<polygon points="1240.2,293.0 1221.9,289.8 1234.7,289.9 1253.0,293.4" fill="#4c9be5"/>
<polygon points="1339.1,325.5 1320.8,313.8 1333.7,294.8 1352.0,301.6" fill="#4c8aea"/>
<polygon points="1379.6,145.0 1361.2,141.4 1374.1,152.6 1392.4,156.7" fill="#d4be45"/>
<polygon points="1308.0,322.0 1289.7,309.6 1302.5,303.6 1320.8,313.8" fill="#4c88eb"/>
<polygon points="1304.4,203.4 1286.1,197.3 1298.9,155.3 1317.2,161.4" fill="#b1c952"/>
<polygon points="1328.2,255.8 1309.9,252.0 1322.7,207.3 1341.0,209.2" fill="#61c7a5"/>
<polygon points="1330.1,139.0 1311.8,133.1 1324.6,131.3 1342.9,136.9" fill="#e5b645"/>
<polygon points="1326.3,337.0 1308.0,322.0 1320.8,313.8 1339.1,325.5" fill="#4d7fec"/>
<polygon points="1357.4,337.8 1339.1,325.5 1352.0,301.6 1370.3,307.4" fill="#4c84ec"/>
<polygon points="1298.9,155.3 1280.6,147.0 1293.5,125.9 1311.8,133.1" fill="#e1b845"/>
<polygon points="1344.6,353.7 1326.3,337.0 1339.1,325.5 1357.4,337.8" fill="#4f73ec"/>
<polygon points="1362.9,369.9 1344.6,353.7 1357.4,337.8 1375.8,348.6" fill="#5168ec"/>
<polygon points="1352.0,301.6 1333.7,294.8 1346.5,258.4 1364.8,259.3" fill="#4cacde"/>
<polygon points="1209.0,286.6 1190.7,288.3 1203.6,290.4 1221.9,289.8" fill="#4ca2e2"/>
<polygon points="1465.7,170.8 1447.3,167.1 1460.2,185.6 1478.5,189.8" fill="#b7c84c"/>
<polygon points="1258.5,299.9 1240.2,293.0 1253.0,293.4 1271.3,300.0" fill="#4c9be5"/>
<polygon points="1397.9,147.9 1379.6,145.0 1392.4,156.7 1410.7,160.3" fill="#d7bd45"/>
<polygon points="1375.8,348.6 1357.4,337.8 1370.3,307.4 1388.6,310.3" fill="#4c80ec"/>
<polygon points="1322.7,207.3 1304.4,203.4 1317.2,161.4 1335.6,165.3" fill="#b1c952"/>
<polygon points="1381.2,377.4 1362.9,369.9 1375.8,348.6 1394.1,351.4" fill="#5162ea"/>
<polygon points="1317.2,161.4 1298.9,155.3 1311.8,133.1 1330.1,139.0" fill="#deb945"/>
<polygon points="1177.9,283.4 1159.6,291.7 1172.4,294.4 1190.7,288.3" fill="#4ca4e1"/>
<polygon points="1348.4,143.2 1330.1,139.0 1342.9,136.9 1361.2,141.4" fill="#e5b645"/>
<polygon points="1350.1,382.3 1331.8,362.4 1344.6,353.7 1362.9,369.9" fill="#515de5"/>
<polygon points="1276.8,310.6 1258.5,299.9 1271.3,300.0 1289.7,309.6" fill="#4c96e6"/>
<polygon points="1368.4,392.2 1350.1,382.3 1362.9,369.9 1381.2,377.4" fill="#4e50da"/>
<polygon points="1346.5,258.4 1328.2,255.8 1341.0,209.2 1359.3,208.9" fill="#68c89d"/>
<polygon points="1331.8,362.4 1313.4,342.4 1326.3,337.0 1344.6,353.7" fill="#506fec"/>
<polygon points="1295.1,324.8 1276.8,310.6 1289.7,309.6 1308.0,322.0" fill="#4c8cea"/>
<polygon points="1313.4,342.4 1295.1,324.8 1308.0,322.0 1326.3,337.0" fill="#4d7fec"/>
<polygon points="1484.0,175.3 1465.7,170.8 1478.5,189.8 1496.8,194.6" fill="#b9c84a"/>
<polygon points="1370.3,307.4 1352.0,301.6 1364.8,259.3 1383.1,257.9" fill="#4cafdb"/>
<polygon points="1227.3,289.4 1209.0,286.6 1221.9,289.8 1240.2,293.0" fill="#4ca8e0"/>
<polygon points="1416.2,150.3 1397.9,147.9 1410.7,160.3 1429.0,163.7" fill="#dabb45"/>
<polygon points="1335.6,165.3 1317.2,161.4 1330.1,139.0 1348.4,143.2" fill="#deb945"/>
<polygon points="1394.1,351.4 1375.8,348.6 1388.6,310.3 1406.9,306.2" fill="#4c83ec"/>
<polygon points="1341.0,209.2 1322.7,207.3 1335.6,165.3 1353.9,167.2" fill="#b6c84d"/>
<polygon points="1366.7,146.0 1348.4,143.2 1361.2,141.4 1379.6,145.0" fill="#e6b843"/>
<polygon points="1355.5,402.2 1337.2,390.9 1350.1,382.3 1368.4,392.2" fill="#4d49d4"/>
<polygon points="1386.7,393.2 1368.4,392.2 1381.2,377.4 1399.5,376.1" fill="#4f51db"/>
<polygon points="1337.2,390.9 1318.9,367.9 1331.8,362.4 1350.1,382.3" fill="#505ae3"/>
<polygon points="1399.5,376.1 1381.2,377.4 1394.1,351.4 1412.4,345.7" fill="#5168ec"/>
<polygon points="1502.3,181.1 1484.0,175.3 1496.8,194.6 1515.1,200.3" fill="#b9c84a"/>
<polygon points="1364.8,259.3 1346.5,258.4 1359.3,208.9 1377.7,206.5" fill="#72c990"/>
<polygon points="1245.7,296.6 1227.3,289.4 1240.2,293.0 1258.5,299.9" fill="#4ca8e0"/>
<polygon points="1318.9,367.9 1300.6,344.7 1313.4,342.4 1331.8,362.4" fill="#4f71ec"/>
<polygon points="1196.2,280.4 1177.9,283.4 1190.7,288.3 1209.0,286.6" fill="#4db1d7"/>
<polygon points="1388.6,310.3 1370.3,307.4 1383.1,257.9 1401.4,253.6" fill="#4db3d4"/>
<polygon points="1434.5,152.8 1416.2,150.3 1429.0,163.7 1447.3,167.1" fill="#ddba45"/>
<polygon points="1373.8,404.1 1355.5,402.2 1368.4,392.2 1386.7,393.2" fill="#4d47d3"/>
<polygon points="1353.9,167.2 1335.6,165.3 1348.4,143.2 1366.7,146.0" fill="#e1b845"/>
<polygon points="1385.0,147.7 1366.7,146.0 1379.6,145.0 1397.9,147.9" fill="#e7bb41"/>
<polygon points="1264.0,308.4 1245.7,296.6 1258.5,299.9 1276.8,310.6" fill="#4ca2e2"/>
<polygon points="1300.6,344.7 1282.3,324.6 1295.1,324.8 1313.4,342.4" fill="#4c84ec"/>
<polygon points="1342.7,410.4 1324.4,398.0 1337.2,390.9 1355.5,402.2" fill="#4d46d2"/>
<polygon points="1359.3,208.9 1341.0,209.2 1353.9,167.2 1372.2,167.2" fill="#c0c845"/>
<polygon points="1282.3,324.6 1264.0,308.4 1276.8,310.6 1295.1,324.8" fill="#4c96e6"/>
<polygon points="1324.4,398.0 1306.1,371.6 1318.9,367.9 1337.2,390.9" fill="#505ce4"/>
<polygon points="1412.4,345.7 1394.1,351.4 1406.9,306.2 1425.2,295.4" fill="#4c91e8"/>
<polygon points="1452.8,155.6 1434.5,152.8 1447.3,167.1 1465.7,170.8" fill="#e0b845"/>
<polygon points="1361.0,412.6 1342.7,410.4 1355.5,402.2 1373.8,404.1" fill="#4c43d0"/>
<polygon points="1383.1,257.9 1364.8,259.3 1377.7,206.5 1396.0,202.3" fill="#81cb7e"/>
<polygon points="1214.5,282.8 1196.2,280.4 1209.0,286.6 1227.3,289.4" fill="#4eb6cf"/>
<polygon points="1372.2,167.2 1353.9,167.2 1366.7,146.0 1385.0,147.7" fill="#e6b744"/>
<polygon points="1403.3,148.6 1385.0,147.7 1397.9,147.9 1416.2,150.3" fill="#e8c03d"/>
<polygon points="1306.1,371.6 1287.8,345.0 1300.6,344.7 1318.9,367.9" fill="#4e77ec"/>
<polygon points="1406.9,306.2 1388.6,310.3 1401.4,253.6 1419.8,245.0" fill="#50bcc6"/>
<polygon points="1377.7,206.5 1359.3,208.9 1372.2,167.2 1390.5,165.9" fill="#c9c345"/>
<polygon points="1471.1,159.5 1452.8,155.6 1465.7,170.8 1484.0,175.3" fill="#e3b745"/>
<polygon points="1232.8,290.5 1214.5,282.8 1227.3,289.4 1245.7,296.6" fill="#4eb6cf"/>
<polygon points="1287.8,345.0 1269.4,321.9 1282.3,324.6 1300.6,344.7" fill="#4c8fe9"/>
<polygon points="1251.1,303.5 1232.8,290.5 1245.7,296.6 1264.0,308.4" fill="#4db1d7"/>
<polygon points="1390.5,165.9 1372.2,167.2 1385.0,147.7 1403.3,148.6" fill="#e7bd3f"/>
<polygon points="1269.4,321.9 1251.1,303.5 1264.0,308.4 1282.3,324.6" fill="#4ca4e1"/>
<polygon points="1421.7,149.4 1403.3,148.6 1416.2,150.3 1434.5,152.8" fill="#e9c439"/>
<polygon points="1401.4,253.6 1383.1,257.9 1396.0,202.3 1414.3,197.0" fill="#96cb6a"/>
<polygon points="1489.4,165.0 1471.1,159.5 1484.0,175.3 1502.3,181.1" fill="#e3b745"/>
<polygon points="1396.0,202.3 1377.7,206.5 1390.5,165.9 1408.8,163.9" fill="#d5bd45"/>
<polygon points="1425.2,295.4 1406.9,306.2 1419.8,245.0 1438.1,234.1" fill="#5dc7aa"/>
<polygon points="1440.0,150.5 1421.7,149.4 1434.5,152.8 1452.8,155.6" fill="#eac935"/>
<polygon points="1408.8,163.9 1390.5,165.9 1403.3,148.6 1421.7,149.4" fill="#e9c539"/>
<polygon points="1419.8,245.0 1401.4,253.6 1414.3,197.0 1432.6,190.9" fill="#b1c952"/>
<polygon points="1458.3,152.8 1440.0,150.5 1452.8,155.6 1471.1,159.5" fill="#ebcc33"/>
<polygon points="1414.3,197.0 1396.0,202.3 1408.8,163.9 1427.1,162.0" fill="#e3b745"/>
<polygon points="1427.1,162.0 1408.8,163.9 1421.7,149.4 1440.0,150.5" fill="#ebcc32"/>
<polygon points="1476.6,157.1 1458.3,152.8 1471.1,159.5 1489.4,165.0" fill="#ebce31"/>
<polygon points="1445.4,160.9 1427.1,162.0 1440.0,150.5 1458.3,152.8" fill="#ecd32d"/>
<polygon points="1432.6,190.9 1414.3,197.0 1427.1,162.0 1445.4,160.9" fill="#e8c03d"/>
<polygon points="1438.1,234.1 1419.8,245.0 1432.6,190.9 1450.9,186.1" fill="#cac345"/>
<polygon points="1463.8,162.1 1445.4,160.9 1458.3,152.8 1476.6,157.1" fill="#edd829"/>
<polygon points="1450.9,186.1 1432.6,190.9 1445.4,160.9 1463.8,162.1" fill="#eacb34"/>
</g>
<path d="M1361.0,416.3L1068.0,335.8M1361.0,416.3L1566.5,302.8M1361.0,416.3L1361.0,217.8M1068.0,335.8L1068.0,137.3M1566.5,302.8L1566.5,104.3M1361.0,217.8L1068.0,137.3M1361.0,217.8L1566.5,104.3M1068.0,137.3L1273.5,23.8M1566.5,104.3L1273.5,23.8" stroke="#231f20" stroke-width="1.7" fill="none" stroke-linecap="square"/>
<path d="M1361.0,416.3L1369.2,411.8M1267.7,390.7L1276.0,386.1M1174.5,365.1L1182.7,360.5M1081.2,339.4L1089.4,334.9M1566.5,302.8L1575.3,305.2M1501.1,338.9L1509.9,341.3M1435.7,375.1L1444.5,377.5M1370.3,411.2L1379.1,413.6" stroke="#777" stroke-width="1.1" fill="none"/>
<path d="M1068.0,320.0L1061.0,321.8M1068.0,297.4L1061.0,299.2M1068.0,274.8L1061.0,276.6M1068.0,252.1L1061.0,253.9M1068.0,229.5L1061.0,231.3M1068.0,206.9L1061.0,208.7M1068.0,184.3L1061.0,186.1M1068.0,161.7L1061.0,163.5M1068.0,139.1L1061.0,140.9" stroke="#888" stroke-width="1.1" fill="none"/>
<g font-family="Liberation Serif, Times New Roman, serif" font-size="25" fill="#231f20" text-anchor="end">
<text x="1058.5" y="147.1">-0.1903</text>
<text x="1058.5" y="216.8">-0.1906</text>
<text x="1058.5" y="285.2">-0.1909</text>
</g>
<g font-family="Liberation Serif, Times New Roman, serif" font-size="23.5" fill="#231f20" letter-spacing="0.6">
<text x="1059.2" y="366.1">1.5</text>
<text x="1042.8" y="390.3">[010]</text>
<text x="1149.6" y="393.0">1.0</text>
<text x="1242.0" y="415.0">0.5</text>
<text x="1284.3" y="438.6">[100]</text>
<text x="1348.9" y="441.7">0</text>
<text x="1576.2" y="320.0">0</text>
<text x="1555.8" y="341.3">[001]</text>
<text x="1505.7" y="359.5">0.5</text>
<text x="1449.4" y="392.9">1.0</text>
<text x="1387.4" y="427.3">1.5</text>
<text x="1108.5" y="402.8" font-style="italic" font-size="29">&#968;</text>
<text x="1518.5" y="396.6" font-style="italic" font-size="26">&#945;</text>
</g>
<g font-family="Liberation Serif, Times New Roman, serif" fill="#c8102e">
<text x="1186.2" y="392.3" font-size="23" font-weight="bold">h</text>
<text x="1176.5" y="418.8" font-size="23.5" letter-spacing="0.7">[110]</text>
</g>
<path d="M1221.5,372.3L1202.0,386.6M1210.5,387.2L1201.0,387.3L1204.0,378.3" stroke="#c8102e" stroke-width="2.6" fill="none" stroke-linecap="round" stroke-linejoin="miter"/>
<path d="M1340.3,855.3L1545.8,741.8M1321.7,850.2L1527.2,736.7M1303.0,845.0L1508.5,731.5M1284.4,839.9L1489.9,726.4M1265.7,834.8L1471.2,721.3M1247.1,829.7L1452.6,716.2M1228.4,824.5L1433.9,711.0M1209.8,819.4L1415.3,705.9M1191.1,814.3L1396.6,700.8M1172.5,809.2L1378.0,695.7M1153.8,804.0L1359.3,690.5M1135.2,798.9L1340.7,685.4M1116.5,793.8L1322.0,680.3M1097.9,788.7L1303.4,675.2M1079.2,783.5L1284.7,670.0M1372.1,853.2L1079.1,772.7M1385.2,845.9L1092.2,765.4M1398.2,838.7L1105.2,758.2M1411.3,831.5L1118.3,751.0M1424.4,824.3L1131.4,743.8M1437.5,817.0L1144.5,736.5M1450.6,809.8L1157.6,729.3M1463.7,802.6L1170.7,722.1M1476.7,795.4L1183.7,714.9M1489.8,788.1L1196.8,707.6M1502.9,780.9L1209.9,700.4M1516.0,773.7L1223.0,693.2M1529.1,766.5L1236.1,686.0M1542.2,759.2L1249.2,678.7M1555.2,752.0L1262.2,671.5M1079.1,772.7L1079.1,574.2M1092.2,765.4L1092.2,566.9M1105.2,758.2L1105.2,559.7M1118.3,751.0L1118.3,552.5M1131.4,743.8L1131.4,545.3M1144.5,736.5L1144.5,538.0M1157.6,729.3L1157.6,530.8M1170.7,722.1L1170.7,523.6M1183.7,714.9L1183.7,516.4M1196.8,707.6L1196.8,509.1M1209.9,700.4L1209.9,501.9M1223.0,693.2L1223.0,494.7M1236.1,686.0L1236.1,487.5M1249.2,678.7L1249.2,480.2M1262.2,671.5L1262.2,473.0M1066.0,774.5L1271.5,661.0M1066.0,769.2L1271.5,655.7M1066.0,763.8L1271.5,650.3M1066.0,758.4L1271.5,644.9M1066.0,753.1L1271.5,639.6M1066.0,747.7L1271.5,634.2M1066.0,742.3L1271.5,628.8M1066.0,737.0L1271.5,623.5M1066.0,731.6L1271.5,618.1M1066.0,726.3L1271.5,612.8M1066.0,720.9L1271.5,607.4M1066.0,715.5L1271.5,602.0M1066.0,710.2L1271.5,596.7M1066.0,704.8L1271.5,591.3M1066.0,699.4L1271.5,585.9M1066.0,694.1L1271.5,580.6M1066.0,688.7L1271.5,575.2M1066.0,683.3L1271.5,569.8M1066.0,678.0L1271.5,564.5M1066.0,672.6L1271.5,559.1M1066.0,667.2L1271.5,553.7M1066.0,661.9L1271.5,548.4M1066.0,656.5L1271.5,543.0M1066.0,651.1L1271.5,537.6M1066.0,645.8L1271.5,532.3M1066.0,640.4L1271.5,526.9M1066.0,635.0L1271.5,521.5M1066.0,629.7L1271.5,516.2M1066.0,624.3L1271.5,510.8M1066.0,619.0L1271.5,505.5M1066.0,613.6L1271.5,500.1M1066.0,608.2L1271.5,494.7M1066.0,602.9L1271.5,489.4M1066.0,597.5L1271.5,484.0M1066.0,592.1L1271.5,478.6M1066.0,586.8L1271.5,473.3M1545.8,741.8L1545.8,543.3M1527.2,736.7L1527.2,538.2M1508.5,731.5L1508.5,533.0M1489.9,726.4L1489.9,527.9M1471.2,721.3L1471.2,522.8M1452.6,716.2L1452.6,517.7M1433.9,711.0L1433.9,512.5M1415.3,705.9L1415.3,507.4M1396.6,700.8L1396.6,502.3M1378.0,695.7L1378.0,497.2M1359.3,690.5L1359.3,492.0M1340.7,685.4L1340.7,486.9M1322.0,680.3L1322.0,481.8M1303.4,675.2L1303.4,476.7M1284.7,670.0L1284.7,471.5M1564.5,741.5L1271.5,661.0M1564.5,736.2L1271.5,655.7M1564.5,730.8L1271.5,650.3M1564.5,725.4L1271.5,644.9M1564.5,720.1L1271.5,639.6M1564.5,714.7L1271.5,634.2M1564.5,709.3L1271.5,628.8M1564.5,704.0L1271.5,623.5M1564.5,698.6L1271.5,618.1M1564.5,693.3L1271.5,612.8M1564.5,687.9L1271.5,607.4M1564.5,682.5L1271.5,602.0M1564.5,677.2L1271.5,596.7M1564.5,671.8L1271.5,591.3M1564.5,666.4L1271.5,585.9M1564.5,661.1L1271.5,580.6M1564.5,655.7L1271.5,575.2M1564.5,650.3L1271.5,569.8M1564.5,645.0L1271.5,564.5M1564.5,639.6L1271.5,559.1M1564.5,634.2L1271.5,553.7M1564.5,628.9L1271.5,548.4M1564.5,623.5L1271.5,543.0M1564.5,618.1L1271.5,537.6M1564.5,612.8L1271.5,532.3M1564.5,607.4L1271.5,526.9M1564.5,602.0L1271.5,521.5M1564.5,596.7L1271.5,516.2M1564.5,591.3L1271.5,510.8M1564.5,586.0L1271.5,505.5M1564.5,580.6L1271.5,500.1M1564.5,575.2L1271.5,494.7M1564.5,569.9L1271.5,489.4M1564.5,564.5L1271.5,484.0M1564.5,559.1L1271.5,478.6M1564.5,553.8L1271.5,473.3" stroke="#e4e4e4" stroke-width="0.6" fill="none"/>
<path d="M1066.0,779.9L1271.5,666.4M1271.5,666.4L1564.5,746.9" stroke="#231f20" stroke-width="0.96" fill="none" stroke-opacity="0.4"/>
<path d="M1271.5,467.9L1271.5,526.6" stroke="#231f20" stroke-width="1.7" fill="none"/>
<path d="M1275.6,837.5L1277.0,836.0L1277.2,835.8L1278.6,834.1L1280.0,832.3L1280.9,830.8L1281.1,830.5L1282.0,828.6L1282.7,826.8L1282.7,826.7L1283.1,824.7L1283.2,823.5L1283.2,822.6L1282.9,820.6L1282.8,820.4L1282.0,818.1L1282.0,818.0L1280.7,815.8L1280.4,815.4L1279.0,813.7L1277.9,812.6L1277.0,811.8L1274.7,810.0L1273.9,809.4L1272.3,808.3L1269.6,806.8L1266.8,805.3L1266.8,805.3L1263.8,804.0L1260.6,802.7L1257.3,801.5L1253.8,800.4L1250.2,799.3L1246.5,798.3L1242.6,797.5L1238.6,796.6L1234.5,795.9L1230.2,795.2L1230.1,795.2L1225.6,794.7L1221.0,794.3L1217.9,794.0L1216.1,793.9L1211.0,793.7L1208.8,793.6L1205.7,793.6L1201.1,793.7L1200.1,793.7L1194.4,793.9L1194.1,794.0L1188.4,794.4L1187.7,794.5L1182.9,795.0L1180.6,795.3L1177.9,795.8L1173.1,796.6L1172.8,796.6L1168.7,797.5L1164.4,798.4L1163.7,798.6L1160.5,799.5L1156.6,800.6L1152.9,801.7L1152.5,801.8L1149.4,802.8" stroke="#475dc7" stroke-width="1.3" fill="none"/>
<path d="M1328.8,852.1L1330.6,850.5L1332.4,848.8L1334.1,847.2L1334.6,846.6L1335.6,845.5L1337.1,843.8L1338.4,842.0L1338.9,841.2L1339.5,840.2L1340.5,838.3L1341.1,837.0L1341.3,836.4L1341.9,834.5L1342.2,833.3L1342.3,832.4L1342.5,830.4L1342.5,830.2L1342.3,828.2L1342.1,827.3L1341.9,825.9L1341.4,824.7L1341.1,823.6L1340.4,822.2L1339.9,821.1L1339.1,819.9L1338.2,818.6L1337.6,817.7L1336.0,815.9L1335.8,815.6L1333.9,813.7L1333.2,813.0L1331.9,811.8L1329.7,809.9L1329.6,809.8L1327.4,808.2L1325.0,806.5L1325.0,806.5L1322.5,804.8L1319.9,803.2L1318.9,802.6L1317.2,801.7L1314.4,800.2L1311.6,798.8L1310.3,798.2L1308.6,797.4L1305.6,796.0L1302.5,794.7L1299.3,793.4L1296.1,792.1L1295.9,792.1L1292.8,791.0L1289.4,789.8L1286.0,788.7L1282.5,787.6L1278.9,786.5L1275.3,785.5L1271.6,784.5L1267.8,783.5L1264.0,782.6L1260.1,781.7L1256.2,780.9L1252.4,780.1L1252.2,780.1L1248.0,779.3L1243.9,778.6L1239.6,777.9L1235.4,777.2L1232.8,776.9L1231.0,776.6L1226.5,776.1L1222.0,775.5L1219.1,775.2L1217.4,775.1L1212.6,774.6L1207.9,774.3L1207.8,774.3L1202.9,774.0L1198.1,773.7L1197.9,773.7L1192.7,773.5L1189.4,773.4L1187.4,773.4L1182.0,773.4L1181.4,773.4L1176.4,773.4L1174.1,773.5L1170.6,773.6L1167.3,773.8L1164.6,773.9L1161.0,774.1L1158.3,774.4L1155.1,774.6L1151.7,775.0L1149.5,775.2L1144.7,775.8L1144.2,775.9L1139.2,776.6L1137.1,777.0L1134.4,777.5L1129.9,778.3L1128.7,778.6L1125.6,779.3L1121.4,780.3L1119.1,780.8L1117.4,781.3L1113.6,782.4L1109.9,783.5L1107.5,784.2L1106.3,784.6L1102.9,785.8L1099.5,787.0L1096.2,788.2" stroke="#2d8add" stroke-width="1.3" fill="none"/>
<path d="M1374.5,851.8L1375.7,850.1L1376.8,848.3L1377.4,847.2L1377.8,846.4L1378.6,844.5L1378.9,843.3L1379.1,842.6L1379.5,840.5L1379.6,839.9L1379.7,838.5L1379.7,836.9L1379.6,836.3L1379.3,834.1L1379.3,834.0L1378.7,831.8L1378.6,831.4L1377.8,829.4L1377.5,829.0L1376.6,827.0L1376.3,826.6L1375.0,824.4L1374.9,824.3L1373.3,822.2L1373.0,821.8L1371.6,820.1L1370.6,819.0L1369.8,818.1L1367.8,816.1L1367.8,816.1L1365.8,814.3L1364.3,813.0L1363.6,812.4L1361.4,810.6L1360.2,809.7L1359.0,808.9L1356.6,807.2L1355.3,806.3L1354.2,805.5L1351.6,803.9L1349.3,802.5L1349.0,802.3L1346.3,800.8L1343.6,799.3L1341.8,798.3L1340.8,797.8L1337.9,796.3L1335.0,794.9L1332.0,793.5L1331.8,793.5L1329.0,792.2L1325.9,790.9L1322.7,789.6L1319.5,788.3L1316.4,787.1L1316.3,787.0L1313.0,785.8L1309.7,784.7L1306.3,783.5L1302.8,782.4L1299.3,781.3L1295.8,780.2L1292.2,779.2L1288.6,778.1L1284.9,777.2L1281.1,776.2L1277.3,775.2L1273.5,774.3L1269.6,773.4L1265.7,772.6L1261.7,771.8L1257.7,770.9L1257.5,770.9L1253.6,770.2L1249.5,769.4L1245.3,768.7L1241.1,768.0L1237.0,767.4L1236.8,767.4L1232.4,766.7L1228.0,766.1L1223.6,765.6L1221.9,765.4L1219.0,765.0L1214.4,764.6L1209.8,764.1L1209.3,764.0L1205.1,763.7L1200.3,763.3L1198.1,763.1L1195.5,762.9L1190.6,762.6L1188.1,762.5L1185.6,762.3L1180.5,762.1L1178.8,762.0L1175.3,761.9L1170.3,761.8L1170.1,761.8L1164.7,761.7L1162.3,761.7L1159.2,761.7L1154.7,761.8L1153.6,761.8L1147.9,762.0L1147.6,762.0L1141.9,762.2L1140.9,762.2L1135.8,762.5L1134.5,762.6L1129.5,763.0L1128.5,763.1L1122.9,763.6L1122.8,763.6L1117.3,764.3L1116.0,764.4L1112.1,764.9L1108.6,765.5L1107.1,765.7L1102.4,766.5L1100.6,766.9L1097.8,767.4L1093.5,768.3L1091.7,768.7L1089.3,769.3L1085.2,770.3L1081.5,771.3" stroke="#23add1" stroke-width="1.3" fill="none"/>
<path d="M1407.2,833.8L1406.9,833.2L1405.9,831.5L1405.4,830.7L1404.4,829.2L1403.6,828.0L1402.8,827.1L1401.4,825.3L1401.1,825.0L1399.3,823.0L1398.9,822.5L1397.4,821.0L1395.9,819.6L1395.4,819.1L1393.3,817.2L1392.5,816.5L1391.2,815.4L1389.0,813.6L1388.7,813.3L1386.7,811.8L1384.3,810.1L1384.2,810.0L1381.9,808.4L1379.5,806.7L1379.1,806.4L1377.0,805.0L1374.4,803.4L1373.1,802.7L1371.8,801.9L1369.1,800.3L1366.4,798.8L1366.0,798.6L1363.6,797.3L1360.8,795.8L1357.9,794.4L1357.3,794.1L1355.0,793.0L1352.0,791.6L1349.0,790.2L1346.0,788.8L1345.9,788.8L1342.9,787.5L1339.7,786.2L1336.5,785.0L1333.3,783.7L1330.0,782.5L1328.4,781.9L1326.7,781.3L1323.4,780.1L1320.0,779.0L1316.5,777.8L1313.1,776.7L1309.6,775.6L1306.0,774.6L1302.4,773.5L1298.7,772.5L1295.1,771.5L1291.3,770.5L1287.6,769.6L1283.8,768.7L1279.9,767.8L1276.0,766.9L1272.1,766.0L1268.1,765.2L1266.2,764.8L1264.1,764.4L1260.1,763.6L1256.0,762.8L1251.8,762.1L1247.6,761.4L1243.5,760.7L1243.4,760.7L1239.1,760.0L1234.8,759.4L1230.5,758.7L1227.0,758.3L1226.0,758.1L1221.6,757.6L1217.1,757.0L1213.1,756.6L1212.5,756.5L1207.9,756.0L1203.3,755.6L1200.9,755.3L1198.6,755.1L1193.8,754.7L1189.7,754.4L1189.0,754.4L1184.2,754.0L1179.5,753.7L1179.2,753.7L1174.3,753.4L1169.9,753.2L1169.2,753.2L1164.1,753.0L1160.9,752.9L1158.9,752.8L1153.7,752.7L1152.4,752.6L1148.3,752.6L1144.3,752.5L1142.9,752.5L1137.4,752.6L1136.6,752.6L1131.8,752.6L1129.3,752.7L1126.1,752.8L1122.3,752.9L1120.2,753.0L1115.7,753.2L1114.2,753.3" stroke="#4bc0ac" stroke-width="1.3" fill="none"/>
<path d="M1423.9,824.6L1421.8,822.7L1421.4,822.3L1419.7,820.8L1417.9,819.2L1417.6,819.0L1415.4,817.1L1414.0,816.0L1413.1,815.4L1410.8,813.6L1409.6,812.7L1408.5,811.9L1406.1,810.2L1404.7,809.2L1403.6,808.5L1401.1,806.8L1399.1,805.6L1398.6,805.2L1396.0,803.6L1393.4,802.0L1392.8,801.7L1390.7,800.5L1388.0,798.9L1385.6,797.6L1385.3,797.4L1382.5,795.9L1379.7,794.5L1377.0,793.1L1376.8,793.0L1373.9,791.6L1371.0,790.2L1368.0,788.8L1366.4,788.1L1365.0,787.4L1361.9,786.1L1358.8,784.8L1355.7,783.5L1352.5,782.2L1352.0,782.0L1349.3,780.9L1346.1,779.7L1342.8,778.5L1339.5,777.3L1336.1,776.1L1332.7,775.0L1329.3,773.8L1325.8,772.7L1325.1,772.5L1322.3,771.6L1318.8,770.5L1315.2,769.5L1311.6,768.4L1308.0,767.4L1304.3,766.4L1300.6,765.5L1296.8,764.5L1293.0,763.6L1290.0,762.8L1289.2,762.6L1285.3,761.7L1281.4,760.9L1277.5,760.0L1273.5,759.2L1269.5,758.4L1265.5,757.6L1261.4,756.8L1258.0,756.2L1257.3,756.0L1253.1,755.3L1248.9,754.6L1244.7,753.9L1240.4,753.2L1238.5,752.9L1236.1,752.6L1231.8,751.9L1227.4,751.3L1223.0,750.8L1222.7,750.7L1218.5,750.2L1214.0,749.6L1209.5,749.1L1208.9,749.1L1204.9,748.6L1200.3,748.1L1196.6,747.8L1195.6,747.7L1190.9,747.3L1186.2,746.9L1185.1,746.8L1181.4,746.5L1176.5,746.1L1174.5,746.0L1171.7,745.8L1166.7,745.5L1164.4,745.3L1161.8,745.2L1156.7,744.9L1154.9,744.8L1151.7,744.7L1146.6,744.5L1145.8,744.5L1141.4,744.3L1137.1,744.2L1136.1,744.2L1130.9,744.1" stroke="#a3c681" stroke-width="1.3" fill="none"/>
<path d="M1438.2,816.7L1437.3,816.1L1435.8,815.0L1433.4,813.3L1432.4,812.6L1430.9,811.6L1428.4,809.9L1427.0,809.0L1425.9,808.3L1423.4,806.7L1421.1,805.2L1420.8,805.1L1418.2,803.5L1415.6,801.9L1414.5,801.3L1412.9,800.3L1410.2,798.8L1407.4,797.3L1407.1,797.1L1404.7,795.8L1401.9,794.3L1399.0,792.9L1398.7,792.7L1396.2,791.4L1393.3,790.0L1390.3,788.6L1388.7,787.8L1387.3,787.2L1384.4,785.8L1381.3,784.5L1378.3,783.1L1376.3,782.3L1375.2,781.8L1372.0,780.5L1368.9,779.2L1365.7,778.0L1362.4,776.7L1359.2,775.5L1358.9,775.4L1355.9,774.3L1352.6,773.1L1349.2,771.9L1345.8,770.7L1342.4,769.6L1338.9,768.5L1335.5,767.4L1331.9,766.3L1328.4,765.2L1324.8,764.2L1321.2,763.2L1317.5,762.1L1313.9,761.1L1310.1,760.2L1306.4,759.2L1302.6,758.3L1298.8,757.3L1295.0,756.4L1291.1,755.5L1287.2,754.6L1283.3,753.8L1279.3,753.0L1275.3,752.1L1271.6,751.4L1271.3,751.3L1267.2,750.6L1263.1,749.8L1259.0,749.0L1254.8,748.3L1250.6,747.6L1249.1,747.3L1246.4,746.9L1242.1,746.2L1237.9,745.6L1233.5,744.9L1231.5,744.6L1229.2,744.3L1224.8,743.7L1220.4,743.1L1216.4,742.6L1215.9,742.5L1211.4,742.0L1206.9,741.5L1202.8,741.0L1202.3,741.0L1197.8,740.4L1193.1,740.0L1190.3,739.7L1188.5,739.5L1183.8,739.1L1179.1,738.6L1178.6,738.6L1174.3,738.2L1169.6,737.8L1167.6,737.7L1164.7,737.5L1159.9,737.1L1157.0,736.9L1155.0,736.8L1150.1,736.5L1147.0,736.3L1145.2,736.2M1232.5,688.0L1236.3,688.9L1240.2,689.8L1243.1,690.5L1244.0,690.7L1247.8,691.6L1251.7,692.5L1255.5,693.4L1259.4,694.3L1263.2,695.2L1267.0,696.1L1270.8,697.1L1274.6,698.0L1278.4,698.9L1282.2,699.9L1286.0,700.8L1289.8,701.7L1293.6,702.7L1297.4,703.6L1301.1,704.6L1304.9,705.5L1308.7,706.5L1312.4,707.4L1314.2,707.9L1316.2,708.4L1319.9,709.3L1323.7,710.3L1327.4,711.3L1331.1,712.2L1334.9,713.2L1338.6,714.2L1342.3,715.1L1346.0,716.1L1349.7,717.1L1353.4,718.1L1357.1,719.1L1360.8,720.1L1364.5,721.1L1368.2,722.1L1371.8,723.1L1375.5,724.1L1379.2,725.1L1382.8,726.1L1386.5,727.1L1390.2,728.1L1393.8,729.1L1397.5,730.1L1401.1,731.1L1404.7,732.1L1408.4,733.2L1412.0,734.2L1415.6,735.2L1419.3,736.2L1422.9,737.3L1426.5,738.3L1430.1,739.4L1433.7,740.4L1437.3,741.4L1440.9,742.5L1444.4,743.5L1448.0,744.6L1449.9,745.2L1451.6,745.7L1455.2,746.7L1458.7,747.8L1462.3,748.8L1465.8,749.9L1469.4,751.0L1472.9,752.0L1476.5,753.1L1480.0,754.2L1483.5,755.3L1487.0,756.4L1490.6,757.4L1494.1,758.5L1497.6,759.6L1501.1,760.7L1504.6,761.8L1508.1,762.9L1511.5,764.0L1515.0,765.1L1515.9,765.4L1518.5,766.2L1522.0,767.3L1525.5,768.5" stroke="#e8c165" stroke-width="1.3" fill="none"/>
<path d="M1455.2,807.3L1452.5,805.7L1451.3,805.0L1449.8,804.2L1447.1,802.6L1444.4,801.1L1443.9,800.9L1441.7,799.6L1438.9,798.1L1436.1,796.6L1436.0,796.6L1433.3,795.1L1430.5,793.6L1427.6,792.2L1427.4,792.1L1424.8,790.7L1421.9,789.3L1419.0,787.9L1417.7,787.3L1416.1,786.5L1413.1,785.1L1410.1,783.7L1407.1,782.3L1406.5,782.1L1404.1,781.0L1401.0,779.6L1397.9,778.3L1394.8,777.0L1392.8,776.2L1391.7,775.7L1388.5,774.4L1385.3,773.2L1382.1,771.9L1378.9,770.7L1375.6,769.5L1374.1,768.9L1372.3,768.3L1369.0,767.1L1365.6,765.9L1362.2,764.7L1358.8,763.6L1355.4,762.5L1351.9,761.3L1348.4,760.3L1344.8,759.2L1341.3,758.1L1337.7,757.1L1334.0,756.0L1330.4,755.0L1326.7,754.0L1323.0,753.1L1319.3,752.1L1315.5,751.1L1311.7,750.2L1307.9,749.3L1304.1,748.4L1300.2,747.5L1296.3,746.6L1292.4,745.8L1288.4,744.9L1284.4,744.1L1282.1,743.7L1280.3,743.3L1276.3,742.5L1272.2,741.7L1268.1,741.0L1264.0,740.2L1259.8,739.5L1258.2,739.2L1255.6,738.8L1251.4,738.1L1247.2,737.4L1242.9,736.7L1239.4,736.2L1238.6,736.1L1234.3,735.4L1230.0,734.8L1225.6,734.2L1223.1,733.8L1221.2,733.6L1216.8,733.0L1212.4,732.4L1208.3,731.9L1207.9,731.8L1203.4,731.3L1198.9,730.7L1194.5,730.2L1194.4,730.2L1189.9,729.7L1185.3,729.2L1181.5,728.8L1180.7,728.7L1176.1,728.2L1171.5,727.7L1169.0,727.5L1166.8,727.2L1162.2,726.8M1206.2,702.5L1210.2,703.3L1214.2,704.1L1218.1,705.0L1220.1,705.4L1222.1,705.8L1226.0,706.7L1229.9,707.5L1233.8,708.4L1237.7,709.3L1241.6,710.2L1245.5,711.0L1249.4,711.9L1253.3,712.8L1257.1,713.7L1261.0,714.6L1263.5,715.2L1264.9,715.5L1268.7,716.4L1272.5,717.3L1276.3,718.2L1280.2,719.2L1284.0,720.1L1287.8,721.0L1291.6,722.0L1295.4,722.9L1299.1,723.8L1302.9,724.8L1306.7,725.7L1310.4,726.7L1314.2,727.6L1317.9,728.6L1321.7,729.6L1325.4,730.5L1329.1,731.5L1332.8,732.5L1336.5,733.5L1340.2,734.5L1343.9,735.5L1347.6,736.4L1351.3,737.4L1355.0,738.4L1358.6,739.4L1362.3,740.5L1365.9,741.5L1369.6,742.5L1373.2,743.5L1376.8,744.5L1380.5,745.5L1384.1,746.6L1387.7,747.6L1391.3,748.7L1394.9,749.7L1398.5,750.7L1402.1,751.8L1405.7,752.8L1409.2,753.9L1412.8,755.0L1416.3,756.0L1419.9,757.1L1423.4,758.2L1426.9,759.3L1430.5,760.3L1434.0,761.4L1437.5,762.5L1441.0,763.6L1444.5,764.7L1448.0,765.8L1449.2,766.2L1451.4,766.9L1454.9,768.1L1458.4,769.2L1461.8,770.3L1465.3,771.4L1468.7,772.6L1472.1,773.7L1475.5,774.8L1479.0,776.0L1482.4,777.1L1485.8,778.3L1487.5,778.8L1489.2,779.4L1492.5,780.6L1495.9,781.8L1499.2,783.0" stroke="#f7df3d" stroke-width="1.3" fill="none"/>
<g fill-opacity="0.78" stroke="#111" stroke-width="1.35" stroke-linejoin="round">
<polygon points="1277.0,535.4 1258.7,530.5 1271.5,525.6 1289.8,530.6" fill="#b3c950"/>
<polygon points="1295.3,540.3 1277.0,535.4 1289.8,530.6 1308.1,535.5" fill="#b3c950"/>
<polygon points="1264.1,537.8 1245.8,533.2 1258.7,530.5 1277.0,535.4" fill="#bbc848"/>
<polygon points="1313.6,545.2 1295.3,540.3 1308.1,535.5 1326.4,540.6" fill="#b3c94f"/>
<polygon points="1282.4,542.6 1264.1,537.8 1277.0,535.4 1295.3,540.3" fill="#bcc848"/>
<polygon points="1331.9,550.2 1313.6,545.2 1326.4,540.6 1344.8,545.6" fill="#b3c94f"/>
<polygon points="1300.8,547.3 1282.4,542.6 1295.3,540.3 1313.6,545.2" fill="#bcc847"/>
<polygon points="1251.3,536.4 1233.0,532.1 1245.8,533.2 1264.1,537.8" fill="#c7c445"/>
<polygon points="1350.2,555.2 1331.9,550.2 1344.8,545.6 1363.1,550.6" fill="#b4c94f"/>
<polygon points="1319.1,552.1 1300.8,547.3 1313.6,545.2 1331.9,550.2" fill="#bdc847"/>
<polygon points="1269.6,540.8 1251.3,536.4 1264.1,537.8 1282.4,542.6" fill="#c8c445"/>
<polygon points="1368.5,560.2 1350.2,555.2 1363.1,550.6 1381.4,555.7" fill="#b4c94f"/>
<polygon points="1337.4,557.0 1319.1,552.1 1331.9,550.2 1350.2,555.2" fill="#bdc847"/>
<polygon points="1287.9,545.1 1269.6,540.8 1282.4,542.6 1300.8,547.3" fill="#c8c345"/>
<polygon points="1386.8,565.2 1368.5,560.2 1381.4,555.7 1399.7,560.7" fill="#b4c94f"/>
<polygon points="1238.4,530.3 1220.1,526.6 1233.0,532.1 1251.3,536.4" fill="#d8bc45"/>
<polygon points="1355.7,561.9 1337.4,557.0 1350.2,555.2 1368.5,560.2" fill="#bdc847"/>
<polygon points="1306.2,549.6 1287.9,545.1 1300.8,547.3 1319.1,552.1" fill="#c9c345"/>
<polygon points="1405.2,570.2 1386.8,565.2 1399.7,560.7 1418.0,565.8" fill="#b4c94f"/>
<polygon points="1256.8,534.2 1238.4,530.3 1251.3,536.4 1269.6,540.8" fill="#d9bb45"/>
<polygon points="1374.0,566.8 1355.7,561.9 1368.5,560.2 1386.8,565.2" fill="#bdc847"/>
<polygon points="1324.5,554.2 1306.2,549.6 1319.1,552.1 1337.4,557.0" fill="#cac345"/>
<polygon points="1423.5,575.3 1405.2,570.2 1418.0,565.8 1436.3,570.8" fill="#b4c94f"/>
<polygon points="1275.1,538.1 1256.8,534.2 1269.6,540.8 1287.9,545.1" fill="#dbbb45"/>
<polygon points="1392.3,571.9 1374.0,566.8 1386.8,565.2 1405.2,570.2" fill="#bdc847"/>
<polygon points="1342.8,559.0 1324.5,554.2 1337.4,557.0 1355.7,561.9" fill="#cac345"/>
<polygon points="1441.8,580.3 1423.5,575.3 1436.3,570.8 1454.6,575.8" fill="#b4c94f"/>
<polygon points="1225.6,522.1 1207.3,518.7 1220.1,526.6 1238.4,530.3" fill="#e7be3f"/>
<polygon points="1293.4,542.3 1275.1,538.1 1287.9,545.1 1306.2,549.6" fill="#dcba45"/>
<polygon points="1410.6,576.9 1392.3,571.9 1405.2,570.2 1423.5,575.3" fill="#bdc847"/>
<polygon points="1460.1,585.3 1441.8,580.3 1454.6,575.8 1472.9,580.8" fill="#b4c94f"/>
<polygon points="1361.2,563.8 1342.8,559.0 1355.7,561.9 1374.0,566.8" fill="#cac345"/>
<polygon points="1243.9,525.8 1225.6,522.1 1238.4,530.3 1256.8,534.2" fill="#e8c03d"/>
<polygon points="1177.8,745.6 1159.5,730.2 1172.3,708.8 1190.6,725.2" fill="#4d80ec"/>
<polygon points="1311.7,546.6 1293.4,542.3 1306.2,549.6 1324.5,554.2" fill="#ddba45"/>
<polygon points="1196.1,758.8 1177.8,745.6 1190.6,725.2 1208.9,739.1" fill="#4f74ec"/>
<polygon points="1159.5,730.2 1141.2,712.6 1154.0,690.1 1172.3,708.8" fill="#4c91e8"/>
<polygon points="1428.9,582.0 1410.6,576.9 1423.5,575.3 1441.8,580.3" fill="#bdc847"/>
<polygon points="1208.9,739.1 1190.6,725.2 1203.5,697.0 1221.8,711.8" fill="#4c89ea"/>
<polygon points="1190.6,725.2 1172.3,708.8 1185.2,679.7 1203.5,697.0" fill="#4c99e5"/>
<polygon points="1214.4,769.5 1196.1,758.8 1208.9,739.1 1227.2,750.5" fill="#516bec"/>
<polygon points="1164.9,760.6 1146.6,745.9 1159.5,730.2 1177.8,745.6" fill="#4f72ec"/>
<polygon points="1146.6,745.9 1128.3,729.1 1141.2,712.6 1159.5,730.2" fill="#4d80ec"/>
<polygon points="1478.4,590.4 1460.1,585.3 1472.9,580.8 1491.2,585.8" fill="#b4c94f"/>
<polygon points="1379.5,568.8 1361.2,563.8 1374.0,566.8 1392.3,571.9" fill="#cac245"/>
<polygon points="1183.2,773.2 1164.9,760.6 1177.8,745.6 1196.1,758.8" fill="#5267ec"/>
<polygon points="1227.2,750.5 1208.9,739.1 1221.8,711.8 1240.1,723.9" fill="#4d7fec"/>
<polygon points="1141.2,712.6 1122.8,692.8 1135.7,669.5 1154.0,690.1" fill="#4ca6e1"/>
<polygon points="1172.3,708.8 1154.0,690.1 1166.8,660.3 1185.2,679.7" fill="#4cacde"/>
<polygon points="1128.3,729.1 1110.0,710.2 1122.8,692.8 1141.2,712.6" fill="#4c93e7"/>
<polygon points="1262.2,529.7 1243.9,525.8 1256.8,534.2 1275.1,538.1" fill="#e8c13c"/>
<polygon points="1201.6,783.6 1183.2,773.2 1196.1,758.8 1214.4,769.5" fill="#515de5"/>
<polygon points="1232.7,778.0 1214.4,769.5 1227.2,750.5 1245.6,759.3" fill="#5265eb"/>
<polygon points="1245.6,759.3 1227.2,750.5 1240.1,723.9 1258.4,733.2" fill="#4e78ec"/>
<polygon points="1154.0,690.1 1135.7,669.5 1148.5,639.4 1166.8,660.3" fill="#50bcc6"/>
<polygon points="1330.0,551.1 1311.7,546.6 1324.5,554.2 1342.8,559.0" fill="#deb945"/>
<polygon points="1152.1,772.2 1133.8,757.9 1146.6,745.9 1164.9,760.6" fill="#516aec"/>
<polygon points="1122.8,692.8 1104.5,671.4 1117.4,647.6 1135.7,669.5" fill="#4fb8cc"/>
<polygon points="1133.8,757.9 1115.5,741.6 1128.3,729.1 1146.6,745.9" fill="#4e77ec"/>
<polygon points="1110.0,710.2 1091.7,689.4 1104.5,671.4 1122.8,692.8" fill="#4ca9e0"/>
<polygon points="1212.8,518.0 1194.4,514.0 1207.3,518.7 1225.6,522.1" fill="#ebd02f"/>
<polygon points="1447.2,587.1 1428.9,582.0 1441.8,580.3 1460.1,585.3" fill="#bdc847"/>
<polygon points="1170.4,784.4 1152.1,772.2 1164.9,760.6 1183.2,773.2" fill="#515ee6"/>
<polygon points="1221.8,711.8 1203.5,697.0 1216.3,660.3 1234.6,675.5" fill="#4caedc"/>
<polygon points="1219.9,791.8 1201.6,783.6 1214.4,769.5 1232.7,778.0" fill="#4f56df"/>
<polygon points="1115.5,741.6 1097.2,723.3 1110.0,710.2 1128.3,729.1" fill="#4c87eb"/>
<polygon points="1203.5,697.0 1185.2,679.7 1198.0,642.8 1216.3,660.3" fill="#4fbaca"/>
<polygon points="1496.7,595.5 1478.4,590.4 1491.2,585.8 1509.6,590.9" fill="#b3c94f"/>
<polygon points="1397.8,573.9 1379.5,568.8 1392.3,571.9 1410.6,576.9" fill="#cac245"/>
<polygon points="1240.1,723.9 1221.8,711.8 1234.6,675.5 1252.9,688.0" fill="#4ca2e2"/>
<polygon points="1251.0,784.2 1232.7,778.0 1245.6,759.3 1263.9,765.6" fill="#5161e8"/>
<polygon points="1135.7,669.5 1117.4,647.6 1130.2,618.1 1148.5,639.4" fill="#62c7a4"/>
<polygon points="1188.7,794.5 1170.4,784.4 1183.2,773.2 1201.6,783.6" fill="#4f54dd"/>
<polygon points="1263.9,765.6 1245.6,759.3 1258.4,733.2 1276.7,739.6" fill="#4f75ec"/>
<polygon points="1185.2,679.7 1166.8,660.3 1179.7,623.9 1198.0,642.8" fill="#57c6b2"/>
<polygon points="1097.2,723.3 1078.8,703.0 1091.7,689.4 1110.0,710.2" fill="#4c9de4"/>
<polygon points="1280.5,533.8 1262.2,529.7 1275.1,538.1 1293.4,542.3" fill="#e8c33a"/>
<polygon points="1258.4,733.2 1240.1,723.9 1252.9,688.0 1271.2,697.6" fill="#4c99e5"/>
<polygon points="1348.3,555.8 1330.0,551.1 1342.8,559.0 1361.2,563.8" fill="#dfb945"/>
<polygon points="1238.2,797.9 1219.9,791.8 1232.7,778.0 1251.0,784.2" fill="#4f52dc"/>
<polygon points="1166.8,660.3 1148.5,639.4 1161.4,604.4 1179.7,623.9" fill="#77ca8a"/>
<polygon points="1120.9,767.7 1102.6,751.7 1115.5,741.6 1133.8,757.9" fill="#4f72ec"/>
<polygon points="1139.2,781.7 1120.9,767.7 1133.8,757.9 1152.1,772.2" fill="#5265ec"/>
<polygon points="1465.6,592.3 1447.2,587.1 1460.1,585.3 1478.4,590.4" fill="#bdc847"/>
<polygon points="1207.0,802.6 1188.7,794.5 1201.6,783.6 1219.9,791.8" fill="#4e4dd8"/>
<polygon points="1231.1,522.6 1212.8,518.0 1225.6,522.1 1243.9,525.8" fill="#ecd22e"/>
<polygon points="1102.6,751.7 1084.3,733.7 1097.2,723.3 1115.5,741.6" fill="#4c81ec"/>
<polygon points="1157.6,793.7 1139.2,781.7 1152.1,772.2 1170.4,784.4" fill="#5058e1"/>
<polygon points="1515.0,600.7 1496.7,595.5 1509.6,590.9 1527.9,595.9" fill="#b3c94f"/>
<polygon points="1416.1,579.1 1397.8,573.9 1410.6,576.9 1428.9,582.0" fill="#cac345"/>
<polygon points="1276.7,739.6 1258.4,733.2 1271.2,697.6 1289.6,704.2" fill="#4c95e7"/>
<polygon points="1269.3,788.1 1251.0,784.2 1263.9,765.6 1282.2,769.4" fill="#5161e8"/>
<polygon points="1148.5,639.4 1130.2,618.1 1143.1,585.5 1161.4,604.4" fill="#9aca66"/>
<polygon points="1282.2,769.4 1263.9,765.6 1276.7,739.6 1295.0,743.2" fill="#4f75ec"/>
<polygon points="1084.3,733.7 1066.0,713.8 1078.8,703.0 1097.2,723.3" fill="#4c95e6"/>
<polygon points="1175.9,803.7 1157.6,793.7 1170.4,784.4 1188.7,794.5" fill="#4e4fd9"/>
<polygon points="1298.8,538.3 1280.5,533.8 1293.4,542.3 1311.7,546.6" fill="#e9c43a"/>
<polygon points="1225.3,808.7 1207.0,802.6 1219.9,791.8 1238.2,797.9" fill="#4d4ad5"/>
<polygon points="1234.6,675.5 1216.3,660.3 1229.2,617.8 1247.5,632.1" fill="#69c89c"/>
<polygon points="1366.6,560.7 1348.3,555.8 1361.2,563.8 1379.5,568.8" fill="#dfb945"/>
<polygon points="1216.3,660.3 1198.0,642.8 1210.8,602.1 1229.2,617.8" fill="#80cb7f"/>
<polygon points="1256.5,801.9 1238.2,797.9 1251.0,784.2 1269.3,788.1" fill="#4f52dc"/>
<polygon points="1483.9,597.6 1465.6,592.3 1478.4,590.4 1496.7,595.5" fill="#bdc847"/>
<polygon points="1252.9,688.0 1234.6,675.5 1247.5,632.1 1265.8,644.2" fill="#57c6b2"/>
<polygon points="1198.0,642.8 1179.7,623.9 1192.5,585.7 1210.8,602.1" fill="#9dca64"/>
<polygon points="1199.9,523.8 1181.6,517.7 1194.4,514.0 1212.8,518.0" fill="#eeda27"/>
<polygon points="1194.2,811.8 1175.9,803.7 1188.7,794.5 1207.0,802.6" fill="#4d48d4"/>
<polygon points="1533.3,605.8 1515.0,600.7 1527.9,595.9 1546.2,601.0" fill="#b3c950"/>
<polygon points="1249.4,527.6 1231.1,522.6 1243.9,525.8 1262.2,529.7" fill="#ecd32d"/>
<polygon points="1434.4,584.4 1416.1,579.1 1428.9,582.0 1447.2,587.1" fill="#cac345"/>
<polygon points="1179.7,623.9 1161.4,604.4 1174.2,569.7 1192.5,585.7" fill="#bbc848"/>
<polygon points="1295.0,743.2 1276.7,739.6 1289.6,704.2 1307.9,707.7" fill="#4c95e7"/>
<polygon points="1271.2,697.6 1252.9,688.0 1265.8,644.2 1284.1,653.6" fill="#51c1be"/>
<polygon points="1161.4,604.4 1143.1,585.5 1155.9,555.0 1174.2,569.7" fill="#d0c045"/>
<polygon points="1287.7,789.7 1269.3,788.1 1282.2,769.4 1300.5,770.6" fill="#5265eb"/>
<polygon points="1300.5,770.6 1282.2,769.4 1295.0,743.2 1313.3,744.0" fill="#4e78ec"/>
<polygon points="1317.2,542.9 1298.8,538.3 1311.7,546.6 1330.0,551.1" fill="#e9c539"/>
<polygon points="1243.7,812.7 1225.3,808.7 1238.2,797.9 1256.5,801.9" fill="#4d4ad5"/>
<polygon points="1384.9,565.9 1366.6,560.7 1379.5,568.8 1397.8,573.9" fill="#dfb945"/>
<polygon points="1212.5,817.8 1194.2,811.8 1207.0,802.6 1225.3,808.7" fill="#4d45d1"/>
<polygon points="1502.2,602.9 1483.9,597.6 1496.7,595.5 1515.0,600.7" fill="#bcc847"/>
<polygon points="1218.2,530.9 1199.9,523.8 1212.8,518.0 1231.1,522.6" fill="#eed928"/>
<polygon points="1274.8,803.7 1256.5,801.9 1269.3,788.1 1287.7,789.7" fill="#4f56df"/>
<polygon points="1289.6,704.2 1271.2,697.6 1284.1,653.6 1302.4,660.1" fill="#50bec3"/>
<polygon points="1452.7,589.9 1434.4,584.4 1447.2,587.1 1465.6,592.3" fill="#cac345"/>
<polygon points="1551.7,611.0 1533.3,605.8 1546.2,601.0 1564.5,606.1" fill="#b3c950"/>
<polygon points="1187.1,541.5 1168.8,531.5 1181.6,517.7 1199.9,523.8" fill="#edd52b"/>
<polygon points="1267.7,533.0 1249.4,527.6 1262.2,529.7 1280.5,533.8" fill="#ecd32d"/>
<polygon points="1174.2,569.7 1155.9,555.0 1168.8,531.5 1187.1,541.5" fill="#e8c23b"/>
<polygon points="1192.5,585.7 1174.2,569.7 1187.1,541.5 1205.4,552.8" fill="#e6b744"/>
<polygon points="1210.8,602.1 1192.5,585.7 1205.4,552.8 1223.7,564.9" fill="#d9bc45"/>
<polygon points="1313.3,744.0 1295.0,743.2 1307.9,707.7 1326.2,708.1" fill="#4c99e5"/>
<polygon points="1229.2,617.8 1210.8,602.1 1223.7,564.9 1242.0,577.2" fill="#cac345"/>
<polygon points="1335.5,547.7 1317.2,542.9 1330.0,551.1 1348.3,555.8" fill="#e9c538"/>
<polygon points="1403.2,571.2 1384.9,565.9 1397.8,573.9 1416.1,579.1" fill="#dfb945"/>
<polygon points="1205.4,552.8 1187.1,541.5 1199.9,523.8 1218.2,530.9" fill="#ecd12f"/>
<polygon points="1247.5,632.1 1229.2,617.8 1242.0,577.2 1260.3,588.9" fill="#bbc848"/>
<polygon points="1520.5,608.3 1502.2,602.9 1515.0,600.7 1533.3,605.8" fill="#bcc848"/>
<polygon points="1236.5,538.8 1218.2,530.9 1231.1,522.6 1249.4,527.6" fill="#edd829"/>
<polygon points="1230.8,821.8 1212.5,817.8 1225.3,808.7 1243.7,812.7" fill="#4d45d1"/>
<polygon points="1262.0,814.7 1243.7,812.7 1256.5,801.9 1274.8,803.7" fill="#4e4dd8"/>
<polygon points="1306.0,788.9 1287.7,789.7 1300.5,770.6 1318.8,769.3" fill="#516bec"/>
<polygon points="1471.0,595.5 1452.7,589.9 1465.6,592.3 1483.9,597.6" fill="#c9c345"/>
<polygon points="1307.9,707.7 1289.6,704.2 1302.4,660.1 1320.7,663.7" fill="#50bec3"/>
<polygon points="1265.8,644.2 1247.5,632.1 1260.3,588.9 1278.6,599.2" fill="#aac958"/>
<polygon points="1286.0,538.6 1267.7,533.0 1280.5,533.8 1298.8,538.3" fill="#ecd42c"/>
<polygon points="1318.8,769.3 1300.5,770.6 1313.3,744.0 1331.7,742.0" fill="#4d7fec"/>
<polygon points="1223.7,564.9 1205.4,552.8 1218.2,530.9 1236.5,538.8" fill="#eaca34"/>
<polygon points="1293.1,803.4 1274.8,803.7 1287.7,789.7 1306.0,788.9" fill="#515de5"/>
<polygon points="1284.1,653.6 1265.8,644.2 1278.6,599.2 1296.9,607.6" fill="#9eca62"/>
<polygon points="1254.8,547.1 1236.5,538.8 1249.4,527.6 1267.7,533.0" fill="#edd52b"/>
<polygon points="1353.8,552.7 1335.5,547.7 1348.3,555.8 1366.6,560.7" fill="#e9c538"/>
<polygon points="1421.6,576.8 1403.2,571.2 1416.1,579.1 1434.4,584.4" fill="#deb945"/>
<polygon points="1242.0,577.2 1223.7,564.9 1236.5,538.8 1254.8,547.1" fill="#e8c33a"/>
<polygon points="1538.8,613.7 1520.5,608.3 1533.3,605.8 1551.7,611.0" fill="#bbc848"/>
<polygon points="1489.3,601.1 1471.0,595.5 1483.9,597.6 1502.2,602.9" fill="#c8c345"/>
<polygon points="1249.1,823.9 1230.8,821.8 1243.7,812.7 1262.0,814.7" fill="#4d48d4"/>
<polygon points="1331.7,742.0 1313.3,744.0 1326.2,708.1 1344.5,705.6" fill="#4ca2e2"/>
<polygon points="1304.3,544.3 1286.0,538.6 1298.8,538.3 1317.2,542.9" fill="#ecd32c"/>
<polygon points="1260.3,588.9 1242.0,577.2 1254.8,547.1 1273.2,555.4" fill="#e7bc40"/>
<polygon points="1280.3,814.6 1262.0,814.7 1274.8,803.7 1293.1,803.4" fill="#4f54dd"/>
<polygon points="1326.2,708.1 1307.9,707.7 1320.7,663.7 1339.0,664.3" fill="#51c1be"/>
<polygon points="1302.4,660.1 1284.1,653.6 1296.9,607.6 1315.2,613.8" fill="#98ca68"/>
<polygon points="1273.2,555.4 1254.8,547.1 1267.7,533.0 1286.0,538.6" fill="#ecd32d"/>
<polygon points="1439.9,582.5 1421.6,576.8 1434.4,584.4 1452.7,589.9" fill="#ddba45"/>
<polygon points="1372.1,557.8 1353.8,552.7 1366.6,560.7 1384.9,565.9" fill="#e9c538"/>
<polygon points="1324.3,785.9 1306.0,788.9 1318.8,769.3 1337.1,765.4" fill="#4f74ec"/>
<polygon points="1278.6,599.2 1260.3,588.9 1273.2,555.4 1291.5,563.3" fill="#e5b645"/>
<polygon points="1337.1,765.4 1318.8,769.3 1331.7,742.0 1350.0,737.3" fill="#4c89ea"/>
<polygon points="1507.7,606.9 1489.3,601.1 1502.2,602.9 1520.5,608.3" fill="#c8c445"/>
<polygon points="1322.6,549.9 1304.3,544.3 1317.2,542.9 1335.5,547.7" fill="#ecd32d"/>
<polygon points="1311.4,800.9 1293.1,803.4 1306.0,788.9 1324.3,785.9" fill="#5267ec"/>
<polygon points="1291.5,563.3 1273.2,555.4 1286.0,538.6 1304.3,544.3" fill="#ecd02f"/>
<polygon points="1320.7,663.7 1302.4,660.1 1315.2,613.8 1333.6,617.7" fill="#98ca68"/>
<polygon points="1267.4,823.9 1249.1,823.9 1262.0,814.7 1280.3,814.6" fill="#4e4fd9"/>
<polygon points="1296.9,607.6 1278.6,599.2 1291.5,563.3 1309.8,570.2" fill="#e0b945"/>
<polygon points="1458.2,588.5 1439.9,582.5 1452.7,589.9 1471.0,595.5" fill="#dcba45"/>
<polygon points="1390.4,563.0 1372.1,557.8 1384.9,565.9 1403.2,571.2" fill="#e9c538"/>
<polygon points="1526.0,612.6 1507.7,606.9 1520.5,608.3 1538.8,613.7" fill="#c7c445"/>
<polygon points="1344.5,705.6 1326.2,708.1 1339.0,664.3 1357.3,662.3" fill="#57c6b2"/>
<polygon points="1298.6,812.4 1280.3,814.6 1293.1,803.4 1311.4,800.9" fill="#515ee6"/>
<polygon points="1350.0,737.3 1331.7,742.0 1344.5,705.6 1362.8,700.5" fill="#4caedc"/>
<polygon points="1340.9,555.1 1322.6,549.9 1335.5,547.7 1353.8,552.7" fill="#ecd32d"/>
<polygon points="1309.8,570.2 1291.5,563.3 1304.3,544.3 1322.6,549.9" fill="#ebce31"/>
<polygon points="1315.2,613.8 1296.9,607.6 1309.8,570.2 1328.1,575.8" fill="#ddba45"/>
<polygon points="1476.5,594.6 1458.2,588.5 1471.0,595.5 1489.3,601.1" fill="#dbbb45"/>
<polygon points="1339.0,664.3 1320.7,663.7 1333.6,617.7 1351.9,619.3" fill="#9eca62"/>
<polygon points="1408.7,568.4 1390.4,563.0 1403.2,571.2 1421.6,576.8" fill="#e9c539"/>
<polygon points="1342.6,780.5 1324.3,785.9 1337.1,765.4 1355.4,759.1" fill="#4d80ec"/>
<polygon points="1355.4,759.1 1337.1,765.4 1350.0,737.3 1368.3,730.0" fill="#4c99e5"/>
<polygon points="1329.8,796.2 1311.4,800.9 1324.3,785.9 1342.6,780.5" fill="#4f72ec"/>
<polygon points="1285.8,822.0 1267.4,823.9 1280.3,814.6 1298.6,812.4" fill="#5058e1"/>
<polygon points="1359.2,559.9 1340.9,555.1 1353.8,552.7 1372.1,557.8" fill="#ecd32d"/>
<polygon points="1328.1,575.8 1309.8,570.2 1322.6,549.9 1340.9,555.1" fill="#ebcd32"/>
<polygon points="1333.6,617.7 1315.2,613.8 1328.1,575.8 1346.4,580.2" fill="#ddba45"/>
<polygon points="1494.8,600.8 1476.5,594.6 1489.3,601.1 1507.7,606.9" fill="#d9bb45"/>
<polygon points="1427.0,574.1 1408.7,568.4 1421.6,576.8 1439.9,582.5" fill="#e9c43a"/>
<polygon points="1362.8,700.5 1344.5,705.6 1357.3,662.3 1375.7,658.1" fill="#69c89c"/>
<polygon points="1316.9,808.2 1298.6,812.4 1311.4,800.9 1329.8,796.2" fill="#516aec"/>
<polygon points="1368.3,730.0 1350.0,737.3 1362.8,700.5 1381.1,693.1" fill="#4fbaca"/>
<polygon points="1346.4,580.2 1328.1,575.8 1340.9,555.1 1359.2,559.9" fill="#ebcd32"/>
<polygon points="1357.3,662.3 1339.0,664.3 1351.9,619.3 1370.2,619.1" fill="#aac958"/>
<polygon points="1377.6,564.5 1359.2,559.9 1372.1,557.8 1390.4,563.0" fill="#ecd32d"/>
<polygon points="1513.1,607.1 1494.8,600.8 1507.7,606.9 1526.0,612.6" fill="#d8bc45"/>
<polygon points="1445.3,580.0 1427.0,574.1 1439.9,582.5 1458.2,588.5" fill="#e8c33a"/>
<polygon points="1351.9,619.3 1333.6,617.7 1346.4,580.2 1364.7,583.4" fill="#e0b945"/>
<polygon points="1360.9,772.9 1342.6,780.5 1355.4,759.1 1373.8,750.5" fill="#4c91e8"/>
<polygon points="1304.1,818.0 1285.8,822.0 1298.6,812.4 1316.9,808.2" fill="#5265ec"/>
<polygon points="1348.1,789.4 1329.8,796.2 1342.6,780.5 1360.9,772.9" fill="#4d80ec"/>
<polygon points="1395.9,568.8 1377.6,564.5 1390.4,563.0 1408.7,568.4" fill="#ecd32c"/>
<polygon points="1364.7,583.4 1346.4,580.2 1359.2,559.9 1377.6,564.5" fill="#ebce31"/>
<polygon points="1373.8,750.5 1355.4,759.1 1368.3,730.0 1386.6,720.6" fill="#4cacde"/>
<polygon points="1463.7,586.2 1445.3,580.0 1458.2,588.5 1476.5,594.6" fill="#e8c13c"/>
<polygon points="1381.1,693.1 1362.8,700.5 1375.7,658.1 1394.0,652.4" fill="#80cb7f"/>
<polygon points="1375.7,658.1 1357.3,662.3 1370.2,619.1 1388.5,617.5" fill="#bbc848"/>
<polygon points="1335.2,802.0 1316.9,808.2 1329.8,796.2 1348.1,789.4" fill="#4e77ec"/>
<polygon points="1370.2,619.1 1351.9,619.3 1364.7,583.4 1383.0,585.6" fill="#e5b645"/>
<polygon points="1414.2,573.2 1395.9,568.8 1408.7,568.4 1427.0,574.1" fill="#ecd42c"/>
<polygon points="1482.0,592.6 1463.7,586.2 1476.5,594.6 1494.8,600.8" fill="#e8c03d"/>
<polygon points="1383.0,585.6 1364.7,583.4 1377.6,564.5 1395.9,568.8" fill="#ecd02f"/>
<polygon points="1386.6,720.6 1368.3,730.0 1381.1,693.1 1399.4,684.3" fill="#57c6b2"/>
<polygon points="1322.4,812.1 1304.1,818.0 1316.9,808.2 1335.2,802.0" fill="#4f72ec"/>
<polygon points="1432.5,577.9 1414.2,573.2 1427.0,574.1 1445.3,580.0" fill="#ecd32d"/>
<polygon points="1500.3,599.2 1482.0,592.6 1494.8,600.8 1513.1,607.1" fill="#e7be3f"/>
<polygon points="1379.2,763.3 1360.9,772.9 1373.8,750.5 1392.1,740.0" fill="#4ca6e1"/>
<polygon points="1388.5,617.5 1370.2,619.1 1383.0,585.6 1401.3,587.4" fill="#e7bc40"/>
<polygon points="1366.4,780.6 1348.1,789.4 1360.9,772.9 1379.2,763.3" fill="#4c93e7"/>
<polygon points="1401.3,587.4 1383.0,585.6 1395.9,568.8 1414.2,573.2" fill="#ecd32d"/>
<polygon points="1394.0,652.4 1375.7,658.1 1388.5,617.5 1406.8,615.2" fill="#cac345"/>
<polygon points="1392.1,740.0 1373.8,750.5 1386.6,720.6 1404.9,709.9" fill="#50bcc6"/>
<polygon points="1399.4,684.3 1381.1,693.1 1394.0,652.4 1412.3,646.1" fill="#9dca64"/>
<polygon points="1353.5,793.7 1335.2,802.0 1348.1,789.4 1366.4,780.6" fill="#4c87eb"/>
<polygon points="1450.8,582.9 1432.5,577.9 1445.3,580.0 1463.7,586.2" fill="#ecd32d"/>
<polygon points="1419.7,589.1 1401.3,587.4 1414.2,573.2 1432.5,577.9" fill="#edd52b"/>
<polygon points="1406.8,615.2 1388.5,617.5 1401.3,587.4 1419.7,589.1" fill="#e8c33a"/>
<polygon points="1404.9,709.9 1386.6,720.6 1399.4,684.3 1417.8,674.9" fill="#77ca8a"/>
<polygon points="1469.1,588.5 1450.8,582.9 1463.7,586.2 1482.0,592.6" fill="#ecd22e"/>
<polygon points="1340.7,804.2 1322.4,812.1 1335.2,802.0 1353.5,793.7" fill="#4c81ec"/>
<polygon points="1412.3,646.1 1394.0,652.4 1406.8,615.2 1425.1,613.1" fill="#d9bc45"/>
<polygon points="1397.5,751.9 1379.2,763.3 1392.1,740.0 1410.4,728.1" fill="#4fb8cc"/>
<polygon points="1438.0,591.3 1419.7,589.1 1432.5,577.9 1450.8,582.9" fill="#edd829"/>
<polygon points="1384.7,769.9 1366.4,780.6 1379.2,763.3 1397.5,751.9" fill="#4ca9e0"/>
<polygon points="1487.4,594.5 1469.1,588.5 1482.0,592.6 1500.3,599.2" fill="#ebd02f"/>
<polygon points="1417.8,674.9 1399.4,684.3 1412.3,646.1 1430.6,640.2" fill="#bbc848"/>
<polygon points="1410.4,728.1 1392.1,740.0 1404.9,709.9 1423.2,698.6" fill="#62c7a4"/>
<polygon points="1425.1,613.1 1406.8,615.2 1419.7,589.1 1438.0,591.3" fill="#eaca34"/>
<polygon points="1371.8,783.5 1353.5,793.7 1366.4,780.6 1384.7,769.9" fill="#4c9de4"/>
<polygon points="1456.3,594.2 1438.0,591.3 1450.8,582.9 1469.1,588.5" fill="#eed928"/>
<polygon points="1423.2,698.6 1404.9,709.9 1417.8,674.9 1436.1,666.0" fill="#9aca66"/>
<polygon points="1430.6,640.2 1412.3,646.1 1425.1,613.1 1443.4,611.9" fill="#e6b744"/>
<polygon points="1359.0,794.3 1340.7,804.2 1353.5,793.7 1371.8,783.5" fill="#4c95e6"/>
<polygon points="1443.4,611.9 1425.1,613.1 1438.0,591.3 1456.3,594.2" fill="#ecd12f"/>
<polygon points="1474.6,598.2 1456.3,594.2 1469.1,588.5 1487.4,594.5" fill="#eeda27"/>
<polygon points="1436.1,666.0 1417.8,674.9 1430.6,640.2 1448.9,635.5" fill="#d0c045"/>
<polygon points="1461.8,612.0 1443.4,611.9 1456.3,594.2 1474.6,598.2" fill="#edd52b"/>
<polygon points="1448.9,635.5 1430.6,640.2 1443.4,611.9 1461.8,612.0" fill="#e8c23b"/>
</g>
<path d="M1359.0,860.4L1066.0,779.9M1359.0,860.4L1564.5,746.9M1359.0,860.4L1359.0,661.9M1066.0,779.9L1066.0,581.4M1564.5,746.9L1564.5,548.4M1359.0,661.9L1066.0,581.4M1359.0,661.9L1564.5,548.4M1066.0,581.4L1271.5,467.9M1564.5,548.4L1271.5,467.9" stroke="#231f20" stroke-width="1.7" fill="none" stroke-linecap="square"/>
<path d="M1359.0,860.4L1367.2,855.9M1265.7,834.8L1274.0,830.2M1172.5,809.2L1180.7,804.6M1079.2,783.5L1087.4,779.0M1564.5,746.9L1573.3,749.3M1499.1,783.0L1507.9,785.4M1433.7,819.2L1442.5,821.6M1368.3,855.3L1377.1,857.7" stroke="#777" stroke-width="1.1" fill="none"/>
<path d="M1066.0,756.3L1059.0,758.1M1066.0,725.7L1059.0,727.5M1066.0,695.1L1059.0,696.9M1066.0,664.5L1059.0,666.3M1066.0,633.9L1059.0,635.7M1066.0,603.3L1059.0,605.1" stroke="#888" stroke-width="1.1" fill="none"/>
<g font-family="Liberation Serif, Times New Roman, serif" font-size="25" fill="#231f20" text-anchor="end">
<text x="1058.5" y="641.0">-0.1918</text>
<text x="1058.5" y="702.5">-0.1922</text>
<text x="1058.5" y="763.5">-0.1926</text>
</g>
<g font-family="Liberation Serif, Times New Roman, serif" font-size="23.5" fill="#231f20" letter-spacing="0.6">
<text x="1057.2" y="810.2">1.5</text>
<text x="1040.8" y="834.4">[010]</text>
<text x="1147.6" y="837.1">1.0</text>
<text x="1240.0" y="859.1">0.5</text>
<text x="1282.3" y="882.7">[100]</text>
<text x="1346.9" y="885.8">0</text>
<text x="1574.2" y="764.1">0</text>
<text x="1553.8" y="785.4">[001]</text>
<text x="1503.7" y="803.6">0.5</text>
<text x="1447.4" y="837.0">1.0</text>
<text x="1385.4" y="871.4">1.5</text>
<text x="1106.5" y="846.9" font-style="italic" font-size="29">&#968;</text>
<text x="1516.5" y="840.7" font-style="italic" font-size="26">&#945;</text>
</g>
<g font-family="Liberation Serif, Times New Roman, serif" fill="#c8102e">
<text x="1184.2" y="836.4" font-size="23" font-weight="bold">h</text>
<text x="1174.5" y="862.9" font-size="23.5" letter-spacing="0.7">[110]</text>
</g>
<path d="M1219.5,816.4L1200.0,830.7M1208.5,831.3L1199.0,831.4L1202.0,822.4" stroke="#c8102e" stroke-width="2.6" fill="none" stroke-linecap="round" stroke-linejoin="miter"/>
<path d="M124.7,260.4L313.3,291.9" stroke="#2b2f96" stroke-width="2.6" fill="none" stroke-linecap="round" />
<path d="M124.7,260.4L29.2,351.5" stroke="#2b2f96" stroke-width="2.6" fill="none" stroke-linecap="round" />
<path d="M122.9,70.1L124.7,260.4" stroke="#1c2060" stroke-width="2.2" fill="none" stroke-linecap="round" />
<path d="M124.8,275.0L126.5,275.5L128.2,275.6L130.0,275.4L131.8,274.9L133.6,274.1L135.4,273.0L137.1,271.7L138.7,270.1L140.2,268.4L141.5,266.6L142.6,264.6L143.5,262.7L144.2,260.8L144.7,259.0L145.0,257.3L145.0,255.8L144.8,254.5L144.5,253.4L143.9,252.7L143.2,252.2" stroke="#8a1a1a" stroke-width="2.6" fill="none"/>
<path d="M143.2,252.2L142.4,252.0L141.5,252.2L140.5,252.7L139.5,253.6L138.5,254.7L137.5,256.1L136.6,257.8L135.8,259.6L135.1,261.7L134.6,263.8L134.3,266.1L134.2,268.3L134.3,270.6L134.6,272.7L135.2,274.7L135.9,276.5L136.9,278.2L138.1,279.5L139.4,280.6L140.9,281.4" stroke="#cc1f2a" stroke-width="2.6" fill="none"/>
<path d="M140.9,281.4L142.6,281.9L144.3,282.0L146.1,281.8L147.9,281.3L149.7,280.5L151.5,279.4L153.2,278.1L154.8,276.5L156.3,274.8L157.6,273.0L158.7,271.0L159.6,269.1L160.3,267.2L160.8,265.4L161.1,263.7L161.1,262.2L160.9,260.9L160.6,259.8L160.0,259.1L159.3,258.6" stroke="#8a1a1a" stroke-width="2.6" fill="none"/>
<path d="M159.3,258.6L158.5,258.4L157.6,258.6L156.6,259.1L155.6,260.0L154.6,261.1L153.6,262.5L152.7,264.2L151.9,266.0L151.2,268.1L150.7,270.2L150.4,272.5L150.3,274.7L150.4,277.0L150.7,279.1L151.3,281.1L152.0,282.9L153.0,284.6L154.2,285.9L155.5,287.0L157.0,287.8" stroke="#cc1f2a" stroke-width="2.6" fill="none"/>
<path d="M157.0,287.8L158.7,288.3L160.4,288.4L162.2,288.2L164.0,287.7L165.8,286.9L167.6,285.8L169.3,284.5L170.9,282.9L172.4,281.2L173.7,279.4L174.8,277.4L175.7,275.5L176.4,273.6L176.9,271.8L177.2,270.1L177.2,268.6L177.0,267.3L176.7,266.2L176.1,265.5L175.4,265.0" stroke="#8a1a1a" stroke-width="2.6" fill="none"/>
<path d="M175.4,265.0L174.6,264.8L173.7,265.0L172.7,265.5L171.7,266.4L170.7,267.5L169.7,268.9L168.8,270.6L168.0,272.4L167.3,274.5L166.8,276.6L166.5,278.9L166.4,281.1L166.5,283.4L166.8,285.5L167.4,287.5L168.1,289.3L169.1,291.0L170.3,292.3L171.6,293.4L173.1,294.2" stroke="#cc1f2a" stroke-width="2.6" fill="none"/>
<path d="M173.1,294.2L174.8,294.7L176.5,294.8L178.3,294.6L180.1,294.1L181.9,293.3L183.7,292.2L185.4,290.9L187.0,289.3L188.5,287.6L189.8,285.8L190.9,283.8L191.8,281.9L192.5,280.0L193.0,278.2L193.3,276.5L193.3,275.0L193.1,273.7L192.8,272.6L192.2,271.9L191.5,271.4" stroke="#8a1a1a" stroke-width="2.6" fill="none"/>
<path d="M191.5,271.4L190.7,271.2L189.8,271.4L188.8,271.9L187.8,272.8L186.8,273.9L185.8,275.3L184.9,277.0L184.1,278.8L183.4,280.9L182.9,283.0L182.6,285.3L182.5,287.5L182.6,289.8L182.9,291.9L183.5,293.9L184.2,295.7L185.2,297.4L186.4,298.7L187.7,299.8L189.2,300.6" stroke="#cc1f2a" stroke-width="2.6" fill="none"/>
<path d="M189.2,300.6L190.9,301.1L192.6,301.2L194.4,301.0L196.2,300.5L198.0,299.7L199.8,298.6L201.5,297.3L203.1,295.7L204.6,294.0L205.9,292.2L207.0,290.2L207.9,288.3L208.6,286.4L209.1,284.6L209.4,282.9L209.4,281.4L209.2,280.1L208.9,279.0L208.3,278.3L207.6,277.8" stroke="#8a1a1a" stroke-width="2.6" fill="none"/>
<path d="M207.6,277.8L206.8,277.6L205.9,277.8L204.9,278.3L203.9,279.2L202.9,280.3L201.9,281.7L201.0,283.4L200.2,285.2L199.5,287.3L199.0,289.4L198.7,291.7L198.6,293.9L198.7,296.2L199.0,298.3L199.6,300.3L200.3,302.1L201.3,303.8L202.5,305.1L203.8,306.2L205.3,307.0" stroke="#cc1f2a" stroke-width="2.6" fill="none"/>
<path d="M205.3,307.0L207.0,307.5L208.7,307.6L210.5,307.4L212.3,306.9L214.1,306.1L215.9,305.0L217.6,303.7L219.2,302.1L220.7,300.4L222.0,298.6L223.1,296.6L224.0,294.7L224.7,292.8L225.2,291.0L225.5,289.3L225.5,287.8L225.3,286.5L225.0,285.4L224.4,284.7L223.7,284.2" stroke="#8a1a1a" stroke-width="2.6" fill="none"/>
<path d="M223.7,284.2L222.9,284.0L222.0,284.2L221.0,284.7L220.0,285.6L219.0,286.7L218.0,288.1L217.1,289.8L216.3,291.6L215.6,293.7L215.1,295.8L214.8,298.1L214.7,300.3L214.8,302.6L215.1,304.7L215.7,306.7L216.4,308.5L217.4,310.2L218.6,311.5L219.9,312.6L221.4,313.4" stroke="#cc1f2a" stroke-width="2.6" fill="none"/>
<path d="M221.4,313.4L223.1,313.9L224.8,314.0L226.6,313.8L228.4,313.3L230.2,312.5L232.0,311.4L233.7,310.1L235.3,308.5L236.8,306.8L238.1,305.0L239.2,303.0L240.1,301.1L240.8,299.2L241.3,297.4L241.6,295.7L241.6,294.2L241.4,292.9L241.1,291.8L240.5,291.1L239.8,290.6" stroke="#8a1a1a" stroke-width="2.6" fill="none"/>
<path d="M239.8,290.6L239.0,290.4L238.1,290.6L237.1,291.1L236.1,292.0L235.1,293.1L234.1,294.5L233.2,296.2L232.4,298.0L231.7,300.1L231.2,302.2L230.9,304.5L230.8,306.7L230.9,309.0L231.2,311.1L231.8,313.1L232.5,314.9L233.5,316.6L234.7,317.9L236.0,319.0L237.5,319.8" stroke="#cc1f2a" stroke-width="2.6" fill="none"/>
<path d="M237.5,319.8L239.2,320.3L240.9,320.4L242.7,320.2L244.5,319.7L246.3,318.9L248.1,317.8L249.8,316.5L251.4,314.9L252.9,313.2L254.2,311.4L255.3,309.4L256.2,307.5L256.9,305.6L257.4,303.8L257.7,302.1L257.7,300.6L257.5,299.3L257.2,298.2L256.6,297.5L255.9,297.0" stroke="#8a1a1a" stroke-width="2.6" fill="none"/>
<path d="M255.9,297.0L255.1,296.8L254.2,297.0L253.2,297.5L252.2,298.4L251.2,299.5L250.2,300.9L249.3,302.6L248.5,304.4L247.8,306.5L247.3,308.6L247.0,310.9L246.9,313.1L247.0,315.4L247.3,317.5L247.9,319.5L248.6,321.3L249.6,323.0L250.8,324.3L252.1,325.4L253.6,326.2" stroke="#cc1f2a" stroke-width="2.6" fill="none"/>
<path d="M253.6,326.2L255.3,326.7L257.0,326.8L258.8,326.6L260.6,326.1L262.4,325.3L264.2,324.2L265.9,322.9L267.5,321.3L269.0,319.6L270.3,317.8L271.4,315.8L272.3,313.9L273.0,312.0L273.5,310.2L273.8,308.5L273.8,307.0L273.6,305.7L273.3,304.6L272.7,303.9L272.0,303.4" stroke="#8a1a1a" stroke-width="2.6" fill="none"/>
<path d="M272.0,303.4L271.2,303.2L270.3,303.4L269.3,303.9L268.3,304.8L267.3,305.9L266.3,307.3L265.4,309.0L264.6,310.8L263.9,312.9L263.4,315.0L263.1,317.3L263.0,319.5L263.1,321.8L263.4,323.9L264.0,325.9L264.7,327.7L265.7,329.4L266.9,330.7L268.2,331.8L269.7,332.6" stroke="#cc1f2a" stroke-width="2.6" fill="none"/>
<path d="M269.7,332.6L271.4,333.1L273.1,333.2L274.9,333.0L276.7,332.5L278.5,331.7L280.3,330.6L282.0,329.3L283.6,327.7L285.1,326.0L286.4,324.2L287.5,322.2L288.4,320.3L289.1,318.4L289.6,316.6L289.9,314.9L289.9,313.4L289.7,312.1L289.4,311.0L288.8,310.3L288.1,309.8" stroke="#8a1a1a" stroke-width="2.6" fill="none"/>
<path d="M288.1,309.8L287.3,309.6L286.4,309.8L285.4,310.3L284.4,311.2L283.4,312.3L282.4,313.7L281.5,315.4L280.7,317.2L280.0,319.3L279.5,321.4L279.2,323.7L279.1,325.9L279.2,328.2L279.5,330.3L280.1,332.3L280.8,334.1L281.8,335.8L283.0,337.1L284.3,338.2L285.8,339.0" stroke="#cc1f2a" stroke-width="2.6" fill="none"/>
<defs><linearGradient id="gpl" x1="0" y1="0" x2="1" y2="1"><stop offset="0" stop-color="#525252"/><stop offset="1" stop-color="#606060"/></linearGradient></defs>
<polygon points="122.9,70.1 250.9,167.5 245.0,400.7 124.7,260.4" fill="url(#gpl)" fill-opacity="0.94"/>
<path d="M124.7,260.4L247.5,279.8" stroke="#1d2266" stroke-width="2.2" stroke-opacity="0.8" fill="none"/>
<path d="M124.8,275.0L126.5,275.5L128.2,275.6L130.0,275.4L131.8,274.9L133.6,274.1L135.4,273.0L137.1,271.7L138.7,270.1L140.2,268.4L141.5,266.6L142.6,264.6L143.5,262.7L144.2,260.8L144.7,259.0L145.0,257.3L145.0,255.8L144.8,254.5L144.5,253.4L143.9,252.7L143.2,252.2" stroke="#3a1515" stroke-width="2.6" fill="none" stroke-opacity="0.75"/>
<path d="M143.2,252.2L142.4,252.0L141.5,252.2L140.5,252.7L139.5,253.6L138.5,254.7L137.5,256.1L136.6,257.8L135.8,259.6L135.1,261.7L134.6,263.8L134.3,266.1L134.2,268.3L134.3,270.6L134.6,272.7L135.2,274.7L135.9,276.5L136.9,278.2L138.1,279.5L139.4,280.6L140.9,281.4" stroke="#5c1c1c" stroke-width="2.6" fill="none" stroke-opacity="0.75"/>
<path d="M140.9,281.4L142.6,281.9L144.3,282.0L146.1,281.8L147.9,281.3L149.7,280.5L151.5,279.4L153.2,278.1L154.8,276.5L156.3,274.8L157.6,273.0L158.7,271.0L159.6,269.1L160.3,267.2L160.8,265.4L161.1,263.7L161.1,262.2L160.9,260.9L160.6,259.8L160.0,259.1L159.3,258.6" stroke="#3a1515" stroke-width="2.6" fill="none" stroke-opacity="0.75"/>
<path d="M159.3,258.6L158.5,258.4L157.6,258.6L156.6,259.1L155.6,260.0L154.6,261.1L153.6,262.5L152.7,264.2L151.9,266.0L151.2,268.1L150.7,270.2L150.4,272.5L150.3,274.7L150.4,277.0L150.7,279.1L151.3,281.1L152.0,282.9L153.0,284.6L154.2,285.9L155.5,287.0L157.0,287.8" stroke="#5c1c1c" stroke-width="2.6" fill="none" stroke-opacity="0.75"/>
<path d="M157.0,287.8L158.7,288.3L160.4,288.4L162.2,288.2L164.0,287.7L165.8,286.9L167.6,285.8L169.3,284.5L170.9,282.9L172.4,281.2L173.7,279.4L174.8,277.4L175.7,275.5L176.4,273.6L176.9,271.8L177.2,270.1L177.2,268.6L177.0,267.3L176.7,266.2L176.1,265.5L175.4,265.0" stroke="#3a1515" stroke-width="2.6" fill="none" stroke-opacity="0.75"/>
<path d="M175.4,265.0L174.6,264.8L173.7,265.0L172.7,265.5L171.7,266.4L170.7,267.5L169.7,268.9L168.8,270.6L168.0,272.4L167.3,274.5L166.8,276.6L166.5,278.9L166.4,281.1L166.5,283.4L166.8,285.5L167.4,287.5L168.1,289.3L169.1,291.0L170.3,292.3L171.6,293.4L173.1,294.2" stroke="#5c1c1c" stroke-width="2.6" fill="none" stroke-opacity="0.75"/>
<path d="M173.1,294.2L174.8,294.7L176.5,294.8L178.3,294.6L180.1,294.1L181.9,293.3L183.7,292.2L185.4,290.9L187.0,289.3L188.5,287.6L189.8,285.8L190.9,283.8L191.8,281.9L192.5,280.0L193.0,278.2L193.3,276.5L193.3,275.0L193.1,273.7L192.8,272.6L192.2,271.9L191.5,271.4" stroke="#3a1515" stroke-width="2.6" fill="none" stroke-opacity="0.75"/>
<path d="M191.5,271.4L190.7,271.2L189.8,271.4L188.8,271.9L187.8,272.8L186.8,273.9L185.8,275.3L184.9,277.0L184.1,278.8L183.4,280.9L182.9,283.0L182.6,285.3L182.5,287.5L182.6,289.8L182.9,291.9L183.5,293.9L184.2,295.7L185.2,297.4L186.4,298.7L187.7,299.8L189.2,300.6" stroke="#5c1c1c" stroke-width="2.6" fill="none" stroke-opacity="0.75"/>
<path d="M189.2,300.6L190.9,301.1L192.6,301.2L194.4,301.0L196.2,300.5L198.0,299.7L199.8,298.6L201.5,297.3L203.1,295.7L204.6,294.0L205.9,292.2L207.0,290.2L207.9,288.3L208.6,286.4L209.1,284.6L209.4,282.9L209.4,281.4L209.2,280.1L208.9,279.0L208.3,278.3L207.6,277.8" stroke="#3a1515" stroke-width="2.6" fill="none" stroke-opacity="0.75"/>
<path d="M207.6,277.8L206.8,277.6L205.9,277.8L204.9,278.3L203.9,279.2L202.9,280.3L201.9,281.7L201.0,283.4L200.2,285.2L199.5,287.3L199.0,289.4L198.7,291.7L198.6,293.9L198.7,296.2L199.0,298.3L199.6,300.3L200.3,302.1L201.3,303.8L202.5,305.1L203.8,306.2L205.3,307.0" stroke="#5c1c1c" stroke-width="2.6" fill="none" stroke-opacity="0.75"/>
<path d="M205.3,307.0L207.0,307.5L208.7,307.6L210.5,307.4L212.3,306.9L214.1,306.1L215.9,305.0L217.6,303.7L219.2,302.1L220.7,300.4L222.0,298.6L223.1,296.6L224.0,294.7L224.7,292.8L225.2,291.0L225.5,289.3L225.5,287.8L225.3,286.5L225.0,285.4L224.4,284.7L223.7,284.2" stroke="#3a1515" stroke-width="2.6" fill="none" stroke-opacity="0.75"/>
<path d="M223.7,284.2L222.9,284.0L222.0,284.2L221.0,284.7L220.0,285.6L219.0,286.7L218.0,288.1L217.1,289.8L216.3,291.6L215.6,293.7L215.1,295.8L214.8,298.1L214.7,300.3L214.8,302.6L215.1,304.7L215.7,306.7L216.4,308.5L217.4,310.2L218.6,311.5L219.9,312.6L221.4,313.4" stroke="#5c1c1c" stroke-width="2.6" fill="none" stroke-opacity="0.75"/>
<path d="M221.4,313.4L223.1,313.9L224.8,314.0L226.6,313.8L228.4,313.3L230.2,312.5L232.0,311.4L233.7,310.1L235.3,308.5L236.8,306.8L238.1,305.0L239.2,303.0L240.1,301.1L240.8,299.2L241.3,297.4L241.6,295.7L241.6,294.2L241.4,292.9L241.1,291.8L240.5,291.1L239.8,290.6" stroke="#3a1515" stroke-width="2.6" fill="none" stroke-opacity="0.75"/>
<path d="M239.8,290.6L239.0,290.4L238.1,290.6L237.1,291.1L236.1,292.0L235.1,293.1L234.1,294.5L233.2,296.2L232.4,298.0L231.7,300.1L231.2,302.2L230.9,304.5L230.8,306.7L230.9,309.0L231.2,311.1L231.8,313.1L232.5,314.9L233.5,316.6L234.7,317.9L236.0,319.0L237.5,319.8" stroke="#5c1c1c" stroke-width="2.6" fill="none" stroke-opacity="0.75"/>
<path d="M237.5,319.8L239.2,320.3L240.9,320.4L242.7,320.2L244.5,319.7L246.3,318.9L248.1,317.8" stroke="#3a1515" stroke-width="2.6" fill="none" stroke-opacity="0.75"/>
<path d="M248.5,304.4L247.8,306.5L247.3,308.6L247.0,310.9L246.9,313.1L247.0,315.4L247.3,317.5L247.9,319.5L248.6,321.3" stroke="#5c1c1c" stroke-width="2.6" fill="none" stroke-opacity="0.75"/>
<path d="M249.8,316.5L251.4,314.9L252.9,313.2L254.2,311.4L255.3,309.4L256.2,307.5L256.9,305.6L257.4,303.8L257.7,302.1L257.7,300.6L257.5,299.3L257.2,298.2L256.6,297.5L255.9,297.0" stroke="#9a1c1c" stroke-width="2.4" fill="none"/>
<path d="M255.9,297.0L255.1,296.8L254.2,297.0L253.2,297.5L252.2,298.4L251.2,299.5L250.2,300.9L249.3,302.6L249.6,323.0L250.8,324.3L252.1,325.4L253.6,326.2" stroke="#cc1f2a" stroke-width="2.4" fill="none"/>
<path d="M253.6,326.2L255.3,326.7L257.0,326.8L258.8,326.6L260.6,326.1L262.4,325.3L264.2,324.2L265.9,322.9L267.5,321.3L269.0,319.6L270.3,317.8L271.4,315.8L272.3,313.9L273.0,312.0L273.5,310.2L273.8,308.5L273.8,307.0L273.6,305.7L273.3,304.6L272.7,303.9L272.0,303.4" stroke="#9a1c1c" stroke-width="2.4" fill="none"/>
<path d="M272.0,303.4L271.2,303.2L270.3,303.4L269.3,303.9L268.3,304.8L267.3,305.9L266.3,307.3L265.4,309.0L264.6,310.8L263.9,312.9L263.4,315.0L263.1,317.3L263.0,319.5L263.1,321.8L263.4,323.9L264.0,325.9L264.7,327.7L265.7,329.4L266.9,330.7L268.2,331.8L269.7,332.6" stroke="#cc1f2a" stroke-width="2.4" fill="none"/>
<path d="M269.7,332.6L271.4,333.1L273.1,333.2L274.9,333.0L276.7,332.5L278.5,331.7L280.3,330.6L282.0,329.3L283.6,327.7L285.1,326.0L286.4,324.2L287.5,322.2L288.4,320.3L289.1,318.4L289.6,316.6L289.9,314.9L289.9,313.4L289.7,312.1L289.4,311.0L288.8,310.3L288.1,309.8" stroke="#9a1c1c" stroke-width="2.4" fill="none"/>
<path d="M288.1,309.8L287.3,309.6L286.4,309.8L285.4,310.3L284.4,311.2L283.4,312.3L282.4,313.7L281.5,315.4L280.7,317.2L280.0,319.3L279.5,321.4L279.2,323.7L279.1,325.9L279.2,328.2L279.5,330.3L280.1,332.3L280.8,334.1L281.8,335.8L283.0,337.1L284.3,338.2L285.8,339.0" stroke="#cc1f2a" stroke-width="2.4" fill="none"/>
<path d="M123.9,72.1L250.9,168.5" stroke="#8fe3a6" stroke-width="5.5" fill="none"/>
<path d="M254.4,170.5L248.5,397.7" stroke="#8fe3a6" stroke-width="4.5" fill="none"/>
<path d="M123.0,70.5L125.0,70.9L126.9,71.2L128.7,71.4L130.4,71.5L131.9,71.5L133.2,71.4L134.2,71.3L134.9,71.1L135.4,70.9L135.5,70.7L135.4,70.5L134.9,70.3L134.2,70.1L133.1,70.0L131.9,69.9L130.4,70.0L128.7,70.1L126.9,70.3L125.0,70.7L123.0,71.1" stroke="#4a1212" stroke-width="2.8" fill="none"/>
<path d="M123.2,89.7L125.1,90.1L127.1,90.4L128.9,90.6L130.5,90.7L132.0,90.7L133.3,90.6L134.3,90.5L135.1,90.3L135.5,90.1L135.7,89.9L135.5,89.7L135.1,89.5L134.3,89.3L133.3,89.2L132.0,89.1L130.5,89.2L128.9,89.3L127.0,89.5L125.1,89.9L123.2,90.3" stroke="#4a1212" stroke-width="2.8" fill="none"/>
<path d="M123.3,108.9L125.3,109.3L127.2,109.6L129.0,109.8L130.7,109.9L132.2,109.9L133.5,109.8L134.5,109.7L135.2,109.5L135.7,109.3L135.8,109.1L135.7,108.9L135.2,108.7L134.5,108.5L133.4,108.4L132.2,108.3L130.7,108.4L129.0,108.5L127.2,108.7L125.3,109.1L123.3,109.5" stroke="#4a1212" stroke-width="2.8" fill="none"/>
<path d="M123.5,128.1L125.4,128.5L127.4,128.8L129.2,129.0L130.8,129.1L132.3,129.1L133.6,129.0L134.6,128.9L135.4,128.7L135.8,128.5L136.0,128.3L135.8,128.1L135.4,127.9L134.6,127.7L133.6,127.6L132.3,127.5L130.8,127.6L129.2,127.7L127.3,127.9L125.4,128.3L123.5,128.7" stroke="#4a1212" stroke-width="2.8" fill="none"/>
<path d="M123.6,147.3L125.6,147.7L127.5,148.0L129.3,148.2L131.0,148.3L132.5,148.3L133.8,148.2L134.8,148.1L135.5,147.9L136.0,147.7L136.1,147.5L136.0,147.3L135.5,147.1L134.8,146.9L133.7,146.8L132.5,146.7L131.0,146.8L129.3,146.9L127.5,147.1L125.6,147.5L123.6,147.9" stroke="#4a1212" stroke-width="2.8" fill="none"/>
<path d="M123.8,166.5L125.7,166.9L127.7,167.2L129.5,167.4L131.1,167.5L132.6,167.5L133.9,167.4L134.9,167.3L135.7,167.1L136.1,166.9L136.3,166.7L136.1,166.5L135.7,166.3L134.9,166.1L133.9,166.0L132.6,165.9L131.1,166.0L129.5,166.1L127.6,166.3L125.7,166.7L123.8,167.1" stroke="#4a1212" stroke-width="2.8" fill="none"/>
<path d="M123.9,185.7L125.9,186.1L127.8,186.4L129.6,186.6L131.3,186.7L132.8,186.7L134.1,186.6L135.1,186.5L135.8,186.3L136.3,186.1L136.4,185.9L136.3,185.7L135.8,185.5L135.1,185.3L134.0,185.2L132.8,185.1L131.3,185.2L129.6,185.3L127.8,185.5L125.9,185.9L123.9,186.3" stroke="#4a1212" stroke-width="2.8" fill="none"/>
<path d="M124.1,204.9L126.0,205.3L128.0,205.6L129.8,205.8L131.4,205.9L132.9,205.9L134.2,205.8L135.2,205.7L136.0,205.5L136.4,205.3L136.6,205.1L136.4,204.9L136.0,204.7L135.2,204.5L134.2,204.4L132.9,204.3L131.4,204.4L129.8,204.5L127.9,204.7L126.0,205.1L124.1,205.5" stroke="#4a1212" stroke-width="2.8" fill="none"/>
<path d="M124.2,224.1L126.2,224.5L128.1,224.8L129.9,225.0L131.6,225.1L133.1,225.1L134.4,225.0L135.4,224.9L136.1,224.7L136.6,224.5L136.7,224.3L136.6,224.1L136.1,223.9L135.4,223.7L134.3,223.6L133.1,223.5L131.6,223.6L129.9,223.7L128.1,223.9L126.2,224.3L124.2,224.7" stroke="#4a1212" stroke-width="2.8" fill="none"/>
<path d="M124.4,243.3L126.3,243.7L128.3,244.0L130.1,244.2L131.7,244.3L133.2,244.3L134.5,244.2L135.5,244.1L136.3,243.9L136.7,243.7L136.9,243.5L136.7,243.3L136.3,243.1L135.5,242.9L134.5,242.8L133.2,242.7L131.7,242.8L130.1,242.9L128.2,243.1L126.3,243.5L124.4,243.9" stroke="#4a1212" stroke-width="2.8" fill="none"/>
<path d="M123.0,71.1L121.1,71.7L119.2,72.3L117.4,73.1L115.7,73.9L114.2,74.9L113.0,75.9L111.9,77.0L111.2,78.1L110.8,79.3L110.6,80.5L110.8,81.7L111.2,82.8L112.0,84.0L113.0,85.0L114.3,86.1L115.8,87.0L117.5,87.8L119.3,88.5L121.2,89.2L123.2,89.7" stroke="#cc1f2a" stroke-width="2.4" fill="none"/>
<path d="M123.2,90.3L121.2,90.9L119.3,91.5L117.5,92.3L115.9,93.1L114.4,94.1L113.1,95.1L112.1,96.2L111.4,97.3L110.9,98.5L110.8,99.7L110.9,100.9L111.4,102.0L112.2,103.2L113.2,104.2L114.5,105.3L116.0,106.2L117.6,107.0L119.5,107.7L121.4,108.4L123.3,108.9" stroke="#cc1f2a" stroke-width="2.4" fill="none"/>
<path d="M123.3,109.5L121.4,110.1L119.5,110.7L117.7,111.5L116.0,112.3L114.5,113.3L113.3,114.3L112.2,115.4L111.5,116.5L111.1,117.7L110.9,118.9L111.1,120.1L111.5,121.2L112.3,122.4L113.3,123.4L114.6,124.5L116.1,125.4L117.8,126.2L119.6,126.9L121.5,127.6L123.5,128.1" stroke="#cc1f2a" stroke-width="2.4" fill="none"/>
<path d="M123.5,128.7L121.5,129.3L119.6,129.9L117.8,130.7L116.2,131.5L114.7,132.5L113.4,133.5L112.4,134.6L111.7,135.7L111.2,136.9L111.1,138.1L111.2,139.3L111.7,140.4L112.5,141.6L113.5,142.6L114.8,143.7L116.3,144.6L117.9,145.4L119.8,146.1L121.7,146.8L123.6,147.3" stroke="#cc1f2a" stroke-width="2.4" fill="none"/>
<path d="M123.6,147.9L121.7,148.5L119.8,149.1L118.0,149.9L116.3,150.7L114.8,151.7L113.6,152.7L112.5,153.8L111.8,154.9L111.4,156.1L111.2,157.3L111.4,158.5L111.8,159.6L112.6,160.8L113.6,161.8L114.9,162.9L116.4,163.8L118.1,164.6L119.9,165.3L121.8,166.0L123.8,166.5" stroke="#cc1f2a" stroke-width="2.4" fill="none"/>
<path d="M123.8,167.1L121.8,167.7L119.9,168.3L118.1,169.1L116.5,169.9L115.0,170.9L113.7,171.9L112.7,173.0L112.0,174.1L111.5,175.3L111.4,176.5L111.5,177.7L112.0,178.8L112.8,180.0L113.8,181.0L115.1,182.1L116.6,183.0L118.2,183.8L120.1,184.5L122.0,185.2L123.9,185.7" stroke="#cc1f2a" stroke-width="2.4" fill="none"/>
<path d="M123.9,186.3L122.0,186.9L120.1,187.5L118.3,188.3L116.6,189.1L115.1,190.1L113.9,191.1L112.8,192.2L112.1,193.3L111.7,194.5L111.5,195.7L111.7,196.9L112.1,198.0L112.9,199.2L113.9,200.2L115.2,201.3L116.7,202.2L118.4,203.0L120.2,203.7L122.1,204.4L124.1,204.9" stroke="#cc1f2a" stroke-width="2.4" fill="none"/>
<path d="M124.1,205.5L122.1,206.1L120.2,206.7L118.4,207.5L116.8,208.3L115.3,209.3L114.0,210.3L113.0,211.4L112.3,212.5L111.8,213.7L111.7,214.9L111.8,216.1L112.3,217.2L113.1,218.4L114.1,219.4L115.4,220.5L116.9,221.4L118.5,222.2L120.4,222.9L122.3,223.6L124.2,224.1" stroke="#cc1f2a" stroke-width="2.4" fill="none"/>
<path d="M124.2,224.7L122.3,225.3L120.4,225.9L118.6,226.7L116.9,227.5L115.4,228.5L114.2,229.5L113.1,230.6L112.4,231.7L112.0,232.9L111.8,234.1L112.0,235.3L112.4,236.4L113.2,237.6L114.2,238.6L115.5,239.7L117.0,240.6L118.7,241.4L120.5,242.1L122.4,242.8L124.4,243.3" stroke="#cc1f2a" stroke-width="2.4" fill="none"/>
<path d="M124.4,243.9L122.4,244.5L120.5,245.1L118.7,245.9L117.1,246.7L115.6,247.7L114.3,248.7L113.3,249.8L112.6,250.9L112.1,252.1L112.0,253.3L112.1,254.5L112.6,255.6L113.4,256.8L114.4,257.8L115.7,258.9L117.2,259.8L118.8,260.6L120.7,261.3L122.6,262.0L124.5,262.5" stroke="#cc1f2a" stroke-width="2.4" fill="none"/>
<path d="M115.6,259.9L115.3,261.5L115.3,263.1L115.6,264.7L116.2,266.3L117.0,267.9L118.1,269.3L119.3,270.6L120.8,271.8L122.4,272.8L124.1,273.6L125.9,274.2L127.6,274.6L129.4,274.8L131.1,274.7L132.6,274.5L134.0,274.0L135.2,273.3L136.2,272.5L136.9,271.5L137.4,270.4" stroke="#8e1a1e" stroke-width="2.3" fill="none"/>
<path d="M113.0,268.4L112.7,270.0L112.7,271.7L113.0,273.3L113.6,275.0L114.4,276.5L115.5,278.0L116.8,279.4L118.3,280.6L120.0,281.6L121.7,282.4L123.5,283.0L125.3,283.4L127.1,283.6L128.8,283.5L130.4,283.2L131.9,282.7L133.1,282.0L134.1,281.2L134.8,280.2L135.3,279.1" stroke="#8e1a1e" stroke-width="2.3" fill="none"/>
<path d="M110.4,276.9L110.1,278.6L110.1,280.2L110.4,281.9L111.0,283.6L111.9,285.2L113.0,286.7L114.3,288.1L115.9,289.3L117.5,290.4L119.3,291.2L121.2,291.8L123.0,292.2L124.9,292.4L126.6,292.3L128.3,292.0L129.7,291.5L131.0,290.8L132.0,289.9L132.8,288.9L133.2,287.7" stroke="#8e1a1e" stroke-width="2.3" fill="none"/>
<path d="M107.8,285.4L107.5,287.1L107.5,288.8L107.8,290.5L108.4,292.2L109.3,293.9L110.5,295.4L111.8,296.8L113.4,298.1L115.1,299.1L116.9,300.0L118.8,300.6L120.7,301.0L122.6,301.2L124.4,301.1L126.1,300.8L127.6,300.3L128.9,299.5L129.9,298.6L130.7,297.6L131.2,296.4" stroke="#8e1a1e" stroke-width="2.3" fill="none"/>
<path d="M105.2,293.9L104.9,295.6L104.9,297.4L105.2,299.2L105.8,300.9L106.7,302.6L107.9,304.1L109.3,305.6L110.9,306.8L112.7,307.9L114.6,308.8L116.5,309.4L118.4,309.8L120.4,310.0L122.2,309.9L123.9,309.6L125.4,309.0L126.7,308.3L127.8,307.3L128.6,306.3L129.1,305.1" stroke="#8e1a1e" stroke-width="2.3" fill="none"/>
<path d="M102.6,302.4L102.3,304.2L102.3,306.0L102.6,307.8L103.2,309.5L104.2,311.2L105.4,312.8L106.8,314.3L108.5,315.6L110.3,316.7L112.2,317.6L114.1,318.2L116.1,318.6L118.1,318.8L120.0,318.7L121.7,318.3L123.3,317.8L124.6,317.0L125.7,316.1L126.5,314.9L127.1,313.7" stroke="#8e1a1e" stroke-width="2.3" fill="none"/>
<path d="M100.0,311.0L99.7,312.7L99.7,314.5L100.0,316.4L100.7,318.2L101.6,319.9L102.8,321.5L104.3,323.0L106.0,324.3L107.8,325.5L109.8,326.3L111.8,327.0L113.8,327.4L115.8,327.6L117.8,327.5L119.5,327.1L121.1,326.5L122.5,325.8L123.6,324.8L124.5,323.6L125.0,322.4" stroke="#8e1a1e" stroke-width="2.3" fill="none"/>
<path d="M97.4,319.5L97.0,321.3L97.1,323.1L97.4,325.0L98.1,326.8L99.0,328.6L100.3,330.2L101.8,331.7L103.5,333.1L105.4,334.2L107.4,335.1L109.5,335.8L111.5,336.2L113.6,336.4L115.5,336.3L117.4,335.9L119.0,335.3L120.4,334.5L121.5,333.5L122.4,332.3L122.9,331.0" stroke="#8e1a1e" stroke-width="2.3" fill="none"/>
<path d="M94.8,328.0L94.4,329.8L94.5,331.7L94.8,333.6L95.5,335.5L96.5,337.3L97.8,338.9L99.3,340.5L101.0,341.8L103.0,343.0L105.0,343.9L107.1,344.6L109.2,345.0L111.3,345.2L113.3,345.0L115.2,344.7L116.8,344.1L118.3,343.2L119.5,342.2L120.3,341.0L120.9,339.7" stroke="#8e1a1e" stroke-width="2.3" fill="none"/>
<path d="M92.2,336.5L91.8,338.4L91.8,340.3L92.2,342.2L92.9,344.1L93.9,345.9L95.2,347.6L96.8,349.2L98.6,350.6L100.5,351.8L102.6,352.7L104.8,353.4L106.9,353.8L109.1,354.0L111.1,353.8L113.0,353.5L114.7,352.8L116.2,352.0L117.4,350.9L118.2,349.7L118.8,348.3" stroke="#8e1a1e" stroke-width="2.3" fill="none"/>
<path d="M89.6,345.0L89.2,346.9L89.2,348.8L89.6,350.8L90.3,352.7L91.4,354.6L92.7,356.3L94.3,357.9L96.1,359.3L98.1,360.5L100.2,361.5L102.4,362.2L104.6,362.6L106.8,362.7L108.9,362.6L110.8,362.2L112.6,361.6L114.1,360.7L115.3,359.6L116.2,358.4L116.7,357.0" stroke="#8e1a1e" stroke-width="2.3" fill="none"/>
<path d="M86.9,353.5L86.6,355.4L86.6,357.4L87.0,359.4L87.7,361.4L88.8,363.3L90.2,365.0L91.8,366.7L93.6,368.1L95.7,369.3L97.8,370.3L100.1,371.0L102.3,371.4L104.5,371.5L106.7,371.4L108.6,371.0L110.4,370.3L111.9,369.5L113.2,368.4L114.1,367.1L114.7,365.7" stroke="#8e1a1e" stroke-width="2.3" fill="none"/>
<path d="M137.4,270.4L137.5,269.3L137.4,268.1L137.0,266.8L136.3,265.7L135.4,264.5L134.2,263.5L132.8,262.6L131.2,261.8L129.4,261.2L127.6,260.8L125.7,260.7L123.8,260.7L121.9,261.0L120.1,261.5L118.4,262.2L116.9,263.1L115.5,264.2L114.4,265.5L113.6,266.9L113.0,268.4" stroke="#c01f26" stroke-width="2.3" fill="none"/>
<path d="M135.3,279.1L135.5,277.9L135.4,276.7L134.9,275.4L134.2,274.2L133.3,273.0L132.0,272.0L130.6,271.0L129.0,270.2L127.2,269.6L125.3,269.2L123.4,269.0L121.4,269.1L119.5,269.3L117.6,269.8L115.9,270.6L114.3,271.5L113.0,272.6L111.8,273.9L111.0,275.4L110.4,276.9" stroke="#c01f26" stroke-width="2.3" fill="none"/>
<path d="M133.2,287.7L133.4,286.5L133.3,285.2L132.9,284.0L132.2,282.7L131.2,281.5L129.9,280.4L128.4,279.5L126.8,278.6L125.0,278.0L123.0,277.6L121.0,277.4L119.0,277.4L117.1,277.7L115.2,278.2L113.4,279.0L111.8,279.9L110.4,281.1L109.3,282.4L108.4,283.8L107.8,285.4" stroke="#c01f26" stroke-width="2.3" fill="none"/>
<path d="M131.2,296.4L131.4,295.1L131.2,293.8L130.8,292.5L130.1,291.2L129.1,290.0L127.8,288.9L126.3,287.9L124.6,287.1L122.7,286.4L120.8,286.0L118.7,285.8L116.7,285.8L114.7,286.1L112.7,286.6L110.9,287.3L109.3,288.3L107.9,289.5L106.7,290.8L105.8,292.3L105.2,293.9" stroke="#c01f26" stroke-width="2.3" fill="none"/>
<path d="M129.1,305.1L129.3,303.8L129.2,302.4L128.7,301.1L128.0,299.8L127.0,298.5L125.7,297.3L124.1,296.3L122.4,295.5L120.5,294.8L118.5,294.4L116.4,294.2L114.3,294.2L112.3,294.5L110.3,295.0L108.4,295.7L106.8,296.7L105.3,297.9L104.1,299.3L103.2,300.8L102.6,302.4" stroke="#c01f26" stroke-width="2.3" fill="none"/>
<path d="M127.1,313.7L127.3,312.4L127.1,311.0L126.7,309.6L125.9,308.3L124.9,307.0L123.5,305.8L122.0,304.8L120.2,303.9L118.2,303.2L116.2,302.8L114.1,302.5L111.9,302.6L109.8,302.8L107.8,303.4L106.0,304.1L104.3,305.1L102.8,306.3L101.5,307.7L100.6,309.3L100.0,311.0" stroke="#c01f26" stroke-width="2.3" fill="none"/>
<path d="M125.0,322.4L125.2,321.0L125.1,319.6L124.6,318.2L123.8,316.8L122.8,315.5L121.4,314.3L119.8,313.2L118.0,312.3L116.0,311.6L113.9,311.1L111.8,310.9L109.6,310.9L107.4,311.2L105.4,311.7L103.5,312.5L101.7,313.5L100.2,314.8L99.0,316.2L98.0,317.8L97.4,319.5" stroke="#c01f26" stroke-width="2.3" fill="none"/>
<path d="M122.9,331.0L123.1,329.6L123.0,328.2L122.5,326.8L121.8,325.3L120.6,324.0L119.3,322.7L117.6,321.6L115.8,320.7L113.8,320.0L111.6,319.5L109.4,319.3L107.2,319.3L105.0,319.6L102.9,320.1L101.0,320.9L99.2,321.9L97.7,323.2L96.4,324.6L95.4,326.2L94.8,328.0" stroke="#c01f26" stroke-width="2.3" fill="none"/>
<path d="M120.9,339.7L121.1,338.3L121.0,336.8L120.5,335.3L119.7,333.9L118.5,332.5L117.1,331.2L115.5,330.1L113.6,329.1L111.5,328.4L109.4,327.9L107.1,327.7L104.8,327.7L102.6,327.9L100.5,328.5L98.5,329.3L96.7,330.3L95.1,331.6L93.8,333.1L92.8,334.7L92.2,336.5" stroke="#c01f26" stroke-width="2.3" fill="none"/>
<path d="M118.8,348.3L119.0,346.9L118.9,345.4L118.4,343.9L117.6,342.4L116.4,341.0L115.0,339.7L113.3,338.5L111.4,337.6L109.3,336.8L107.1,336.3L104.8,336.0L102.5,336.0L100.2,336.3L98.0,336.9L96.0,337.7L94.2,338.7L92.6,340.0L91.3,341.5L90.2,343.2L89.6,345.0" stroke="#c01f26" stroke-width="2.3" fill="none"/>
<path d="M116.7,357.0L117.0,355.5L116.8,354.0L116.3,352.4L115.5,350.9L114.3,349.5L112.9,348.1L111.1,347.0L109.2,346.0L107.1,345.2L104.8,344.7L102.5,344.4L100.1,344.4L97.8,344.7L95.6,345.2L93.5,346.1L91.7,347.1L90.0,348.5L88.7,350.0L87.6,351.7L86.9,353.5" stroke="#c01f26" stroke-width="2.3" fill="none"/>
<path d="M114.7,365.7L114.9,364.1L114.8,362.6L114.3,361.0L113.4,359.4L112.2,358.0L110.7,356.6L109.0,355.4L107.0,354.4L104.8,353.6L102.5,353.0L100.1,352.8L97.8,352.8L95.4,353.1L93.1,353.6L91.0,354.5L89.1,355.6L87.5,356.9L86.1,358.4L85.1,360.2L84.3,362.0" stroke="#c01f26" stroke-width="2.3" fill="none"/>
<path d="M122.9,70.1L13.0,134.5" stroke="#2b2f96" stroke-width="2.6" fill="none" stroke-linecap="round" />
<path d="M122.9,70.1L325.4,93.0" stroke="#2b2f96" stroke-width="2.6" fill="none" stroke-linecap="round" />
<path d="M13.0,134.5L250.9,167.5" stroke="#2b2f96" stroke-width="2.6" fill="none" stroke-linecap="round" />
<path d="M325.4,93.0L250.9,167.5" stroke="#2b2f96" stroke-width="2.6" fill="none" stroke-linecap="round" />
<path d="M13.0,134.5L29.2,351.5" stroke="#2b2f96" stroke-width="2.6" fill="none" stroke-linecap="round" />
<path d="M325.4,93.0L313.3,291.9" stroke="#2b2f96" stroke-width="2.6" fill="none" stroke-linecap="round" />
<path d="M29.2,351.5L245.0,400.7" stroke="#2b2f96" stroke-width="2.6" fill="none" stroke-linecap="round" />
<path d="M313.3,291.9L245.0,400.7" stroke="#2b2f96" stroke-width="2.6" fill="none" stroke-linecap="round" />
<path d="M250.9,167.5L245.0,400.7" stroke="#2b2f96" stroke-width="2.6" fill="none" stroke-linecap="round" />
<path d="M122.9,68.0L122.9,57.0" stroke="#7ad36f" stroke-width="3" fill="none"/><path d="M122.9,45.0L129.9,58.0L115.9,58.0Z" fill="#7ad36f" stroke="#4caf50" stroke-width="0.8"/>
<path d="M266.0,307.0L308.0,325.6" stroke="#7ad36f" stroke-width="3" fill="none"/><path d="M319.0,330.5L304.5,331.2L309.8,319.3Z" fill="#7ad36f" stroke="#4caf50" stroke-width="0.8"/>
<path d="M104.0,344.0L97.5,372.3" stroke="#7ad36f" stroke-width="3" fill="none"/><path d="M95.0,383.0L90.9,369.7L104.5,372.9Z" fill="#7ad36f" stroke="#4caf50" stroke-width="0.8"/>
<path d="M129,293 Q140,302 151,292" stroke="#231f20" stroke-width="1.3" fill="none"/>
<path d="M188.5,354.8L204,374" stroke="#c8102e" stroke-width="3"/><path d="M210.8,381.5L199.5,374.5L207.5,368.5Z" fill="#c8102e"/>
<g font-family="Liberation Serif, Times New Roman, serif" fill="#231f20">
<text x="140" y="51.5" font-size="31" font-weight="bold">Q</text><text x="163" y="63" font-size="23.5">3</text>
<text x="100.5" y="61.5" font-size="23" font-style="italic">z</text>
<text x="269.5" y="57.5" font-size="22" font-weight="bold">h</text><text x="287.5" y="58" font-size="22">||</text><text x="302.5" y="58" font-size="23.5">[110]</text>
<text x="324" y="288" font-size="23" font-style="italic">y</text>
<text x="317" y="321" font-size="31" font-weight="bold">Q</text><text x="338" y="334" font-size="23.5">2</text>
<text x="24" y="376" font-size="23" font-style="italic">x</text>
<text x="104" y="396.5" font-size="31" font-weight="bold">Q</text><text x="126" y="410" font-size="23.5">1</text>
<text x="139" y="324" font-size="29">&#945;</text>
<text x="167.5" y="368.5" font-size="22" font-weight="bold">h</text>
</g>
<path d="M139.3,689.3L328.2,723.3" stroke="#2b2f96" stroke-width="2.6" fill="none" stroke-linecap="round" />
<path d="M139.3,689.3L41.4,784.1" stroke="#2b2f96" stroke-width="2.6" fill="none" stroke-linecap="round" />
<path d="M136.2,498.3L139.3,689.3" stroke="#1c2060" stroke-width="2.2" fill="none" stroke-linecap="round" />
<defs><linearGradient id="gplb" x1="0" y1="0" x2="1" y2="1"><stop offset="0" stop-color="#525252"/><stop offset="1" stop-color="#606060"/></linearGradient></defs>
<polygon points="136.2,498.3 265.6,597.9 258.5,834.5 139.3,689.3" fill="url(#gplb)" fill-opacity="0.94"/>
<path d="M139.3,689.3L262.5,711.5" stroke="#1d2266" stroke-width="2.2" stroke-opacity="0.8" fill="none"/>
<path d="M137.2,500.3L265.6,598.9" stroke="#8fe3a6" stroke-width="5.5" fill="none"/>
<path d="M269.1,600.9L262.0,831.5" stroke="#8fe3a6" stroke-width="4.5" fill="none"/>
<path d="M136.6,498.5L138.5,498.9L140.4,499.2L142.2,499.5L143.9,499.6L145.4,499.6L146.7,499.5L147.7,499.4L148.5,499.3L148.9,499.1L149.1,498.9L148.9,498.7L148.4,498.5L147.7,498.4L146.7,498.3L145.4,498.3L143.9,498.3L142.2,498.5L140.4,498.8L138.5,499.1L136.6,499.6" stroke="#4a1212" stroke-width="2.8" fill="none"/>
<path d="M136.8,518.7L138.8,519.1L140.7,519.5L142.5,519.7L144.2,519.8L145.7,519.8L146.9,519.8L148.0,519.6L148.7,519.5L149.2,519.3L149.3,519.1L149.2,518.9L148.7,518.7L148.0,518.6L146.9,518.5L145.7,518.5L144.2,518.6L142.5,518.7L140.7,519.0L138.8,519.3L136.8,519.8" stroke="#4a1212" stroke-width="2.8" fill="none"/>
<path d="M137.1,538.9L139.0,539.3L141.0,539.7L142.8,539.9L144.4,540.0L145.9,540.0L147.2,540.0L148.2,539.9L149.0,539.7L149.4,539.5L149.6,539.3L149.4,539.1L149.0,538.9L148.2,538.8L147.2,538.7L145.9,538.7L144.4,538.8L142.8,538.9L141.0,539.2L139.0,539.6L137.1,540.0" stroke="#4a1212" stroke-width="2.8" fill="none"/>
<path d="M137.3,559.1L139.3,559.6L141.2,559.9L143.0,560.1L144.7,560.2L146.2,560.2L147.5,560.2L148.5,560.1L149.2,559.9L149.7,559.7L149.9,559.5L149.7,559.3L149.2,559.1L148.5,559.0L147.5,558.9L146.2,558.9L144.7,559.0L143.0,559.1L141.2,559.4L139.3,559.8L137.4,560.2" stroke="#4a1212" stroke-width="2.8" fill="none"/>
<path d="M137.6,579.3L139.6,579.8L141.5,580.1L143.3,580.3L145.0,580.4L146.5,580.4L147.7,580.4L148.8,580.3L149.5,580.1L150.0,579.9L150.1,579.7L150.0,579.5L149.5,579.4L148.7,579.2L147.7,579.1L146.4,579.1L145.0,579.2L143.3,579.3L141.5,579.6L139.6,580.0L137.6,580.4" stroke="#4a1212" stroke-width="2.8" fill="none"/>
<path d="M137.9,599.6L139.8,600.0L141.7,600.3L143.6,600.5L145.2,600.6L146.7,600.6L148.0,600.6L149.0,600.5L149.8,600.3L150.2,600.1L150.4,599.9L150.2,599.7L149.8,599.6L149.0,599.4L148.0,599.3L146.7,599.3L145.2,599.4L143.5,599.6L141.7,599.8L139.8,600.2L137.9,600.7" stroke="#4a1212" stroke-width="2.8" fill="none"/>
<path d="M138.1,619.8L140.1,620.2L142.0,620.5L143.8,620.7L145.5,620.8L147.0,620.9L148.3,620.8L149.3,620.7L150.0,620.5L150.5,620.4L150.6,620.2L150.5,620.0L150.0,619.8L149.3,619.6L148.2,619.6L147.0,619.5L145.5,619.6L143.8,619.8L142.0,620.0L140.1,620.4L138.2,620.9" stroke="#4a1212" stroke-width="2.8" fill="none"/>
<path d="M138.4,640.0L140.4,640.4L142.3,640.7L144.1,640.9L145.8,641.0L147.3,641.1L148.5,641.0L149.6,640.9L150.3,640.8L150.8,640.6L150.9,640.4L150.8,640.2L150.3,640.0L149.5,639.9L148.5,639.8L147.2,639.8L145.7,639.8L144.1,640.0L142.3,640.2L140.4,640.6L138.4,641.1" stroke="#4a1212" stroke-width="2.8" fill="none"/>
<path d="M138.7,660.2L140.6,660.6L142.5,660.9L144.4,661.1L146.0,661.2L147.5,661.3L148.8,661.2L149.8,661.1L150.6,661.0L151.0,660.8L151.2,660.6L151.0,660.4L150.6,660.2L149.8,660.1L148.8,660.0L147.5,660.0L146.0,660.0L144.3,660.2L142.5,660.4L140.6,660.8L138.7,661.3" stroke="#4a1212" stroke-width="2.8" fill="none"/>
<path d="M138.9,680.4L140.9,680.8L142.8,681.1L144.6,681.3L146.3,681.5L147.8,681.5L149.1,681.4L150.1,681.3L150.8,681.2L151.3,681.0L151.4,680.8L151.3,680.6L150.8,680.4L150.1,680.3L149.0,680.2L147.8,680.2L146.3,680.2L144.6,680.4L142.8,680.7L140.9,681.0L138.9,681.5" stroke="#4a1212" stroke-width="2.8" fill="none"/>
<path d="M136.6,499.6L134.6,500.2L132.7,500.9L130.9,501.7L129.3,502.6L127.8,503.6L126.5,504.6L125.5,505.7L124.8,506.9L124.3,508.1L124.2,509.3L124.4,510.5L124.8,511.7L125.6,512.9L126.6,514.0L127.9,515.0L129.4,515.9L131.1,516.8L132.9,517.5L134.9,518.2L136.8,518.7" stroke="#cc1f2a" stroke-width="2.4" fill="none"/>
<path d="M136.8,519.8L134.9,520.4L133.0,521.1L131.2,521.9L129.5,522.8L128.0,523.8L126.8,524.8L125.8,526.0L125.0,527.1L124.6,528.3L124.5,529.5L124.6,530.7L125.1,531.9L125.9,533.1L126.9,534.2L128.2,535.2L129.7,536.1L131.4,537.0L133.2,537.7L135.1,538.4L137.1,538.9" stroke="#cc1f2a" stroke-width="2.4" fill="none"/>
<path d="M137.1,540.0L135.2,540.6L133.3,541.3L131.5,542.1L129.8,543.0L128.3,544.0L127.1,545.0L126.0,546.2L125.3,547.3L124.9,548.5L124.7,549.7L124.9,550.9L125.4,552.1L126.1,553.3L127.2,554.4L128.5,555.4L130.0,556.3L131.6,557.2L133.5,558.0L135.4,558.6L137.3,559.1" stroke="#cc1f2a" stroke-width="2.4" fill="none"/>
<path d="M137.4,560.2L135.4,560.8L133.5,561.5L131.7,562.3L130.1,563.2L128.6,564.2L127.3,565.3L126.3,566.4L125.6,567.5L125.1,568.7L125.0,570.0L125.2,571.2L125.6,572.3L126.4,573.5L127.4,574.6L128.7,575.6L130.2,576.6L131.9,577.4L133.7,578.2L135.6,578.8L137.6,579.3" stroke="#cc1f2a" stroke-width="2.4" fill="none"/>
<path d="M137.6,580.4L135.7,581.0L133.8,581.7L132.0,582.5L130.3,583.4L128.8,584.4L127.6,585.5L126.6,586.6L125.8,587.8L125.4,589.0L125.3,590.2L125.4,591.4L125.9,592.6L126.7,593.7L127.7,594.8L129.0,595.8L130.5,596.8L132.2,597.6L134.0,598.4L135.9,599.0L137.9,599.6" stroke="#cc1f2a" stroke-width="2.4" fill="none"/>
<path d="M137.9,600.7L135.9,601.2L134.0,601.9L132.2,602.7L130.6,603.6L129.1,604.6L127.8,605.7L126.8,606.8L126.1,608.0L125.7,609.2L125.5,610.4L125.7,611.6L126.2,612.8L126.9,613.9L128.0,615.0L129.2,616.0L130.8,617.0L132.4,617.8L134.3,618.6L136.2,619.2L138.1,619.8" stroke="#cc1f2a" stroke-width="2.4" fill="none"/>
<path d="M138.2,620.9L136.2,621.5L134.3,622.1L132.5,622.9L130.8,623.8L129.4,624.8L128.1,625.9L127.1,627.0L126.4,628.2L125.9,629.4L125.8,630.6L125.9,631.8L126.4,633.0L127.2,634.1L128.2,635.2L129.5,636.2L131.0,637.2L132.7,638.0L134.5,638.8L136.4,639.4L138.4,640.0" stroke="#cc1f2a" stroke-width="2.4" fill="none"/>
<path d="M138.4,641.1L136.5,641.7L134.6,642.4L132.8,643.2L131.1,644.1L129.6,645.0L128.4,646.1L127.4,647.2L126.6,648.4L126.2,649.6L126.0,650.8L126.2,652.0L126.7,653.2L127.4,654.3L128.5,655.4L129.8,656.5L131.3,657.4L133.0,658.3L134.8,659.0L136.7,659.6L138.7,660.2" stroke="#cc1f2a" stroke-width="2.4" fill="none"/>
<path d="M138.7,661.3L136.7,661.9L134.8,662.6L133.0,663.4L131.4,664.3L129.9,665.2L128.6,666.3L127.6,667.4L126.9,668.6L126.4,669.8L126.3,671.0L126.5,672.2L126.9,673.4L127.7,674.5L128.8,675.6L130.0,676.7L131.5,677.6L133.2,678.5L135.0,679.2L137.0,679.9L138.9,680.4" stroke="#cc1f2a" stroke-width="2.4" fill="none"/>
<defs><clipPath id="cpPl"><polygon points="12.4,534.7 385.4,989.1 617.3,798.7 244.3,344.4"/></clipPath><clipPath id="cpWh"><polygon points="12.4,534.7 385.4,989.1 153.5,1179.4 -219.5,725.1"/></clipPath></defs>
<g clip-path="url(#cpWh)">
<ellipse cx="166.5" cy="724.5" rx="20" ry="21.5" fill="#b9cfd0" fill-opacity="0.72"/>
<ellipse cx="187.2" cy="748.0" rx="20" ry="21.5" fill="#b9cfd0" fill-opacity="0.72"/>
<ellipse cx="207.9" cy="772.5" rx="20" ry="21.5" fill="#b9cfd0" fill-opacity="0.72"/>
<ellipse cx="229.8" cy="801.0" rx="20" ry="21.5" fill="#b9cfd0" fill-opacity="0.72"/>
</g><g clip-path="url(#cpPl)">
<circle cx="169.0" cy="722.0" r="20" fill="#26302f" fill-opacity="0.45"/>
<circle cx="189.7" cy="745.5" r="20" fill="#26302f" fill-opacity="0.45"/>
<circle cx="210.4" cy="770.0" r="20" fill="#26302f" fill-opacity="0.45"/>
<circle cx="232.3" cy="798.5" r="20" fill="#26302f" fill-opacity="0.45"/>
</g>
<path d="M136.2,498.3L24.3,564.1" stroke="#2b2f96" stroke-width="2.6" fill="none" stroke-linecap="round" />
<path d="M136.2,498.3L341.2,521.8" stroke="#2b2f96" stroke-width="2.6" fill="none" stroke-linecap="round" />
<path d="M24.3,564.1L265.6,597.9" stroke="#2b2f96" stroke-width="2.6" fill="none" stroke-linecap="round" />
<path d="M341.2,521.8L265.6,597.9" stroke="#2b2f96" stroke-width="2.6" fill="none" stroke-linecap="round" />
<path d="M24.3,564.1L41.4,784.1" stroke="#2b2f96" stroke-width="2.6" fill="none" stroke-linecap="round" />
<path d="M341.2,521.8L328.2,723.3" stroke="#2b2f96" stroke-width="2.6" fill="none" stroke-linecap="round" />
<path d="M41.4,784.1L258.5,834.5" stroke="#2b2f96" stroke-width="2.6" fill="none" stroke-linecap="round" />
<path d="M328.2,723.3L258.5,834.5" stroke="#2b2f96" stroke-width="2.6" fill="none" stroke-linecap="round" />
<path d="M265.6,597.9L258.5,834.5" stroke="#2b2f96" stroke-width="2.6" fill="none" stroke-linecap="round" />
<path d="M239,806L262,833" stroke="#2e6b34" stroke-width="3"/>
<path d="M258.0,828.0L267.7,838.3" stroke="#7ad36f" stroke-width="3" fill="none"/><path d="M276.0,847.0L262.0,842.4L272.1,832.7Z" fill="#7ad36f" stroke="#4caf50" stroke-width="0.8"/>
<path d="M136.2,497.0L136.2,486.0" stroke="#7ad36f" stroke-width="3" fill="none"/><path d="M136.2,474.0L143.2,487.0L129.2,487.0Z" fill="#7ad36f" stroke="#4caf50" stroke-width="0.8"/>
<path d="M133.1,740.1L172,786" stroke="#c8102e" stroke-width="3"/><path d="M178.3,795.7L166.5,789L174.5,782.5Z" fill="#c8102e"/>
<g font-family="Liberation Serif, Times New Roman, serif" fill="#231f20">
<text x="153.5" y="480.5" font-size="31" font-weight="bold">Q</text><text x="176.5" y="492" font-size="23.5">3</text>
<text x="114" y="490.5" font-size="23" font-style="italic">z</text>
<text x="336" y="737.5" font-size="23" font-style="italic">y</text>
<text x="32.5" y="807.5" font-size="23" font-style="italic">x</text>
<text x="285" y="843.5" font-size="31" font-weight="bold">Q</text><text x="305.5" y="856" font-size="23.5">4</text>
<text x="130" y="784" font-size="22" font-weight="bold">h</text>
</g>
<g font-family="Liberation Sans, Arial, sans-serif" font-size="42" font-weight="bold" fill="#000">
<text x="2.5" y="32.9">A</text>
<text x="-0.5" y="495.9">B</text>
<text x="433.8" y="32.8">C</text>
<text x="432.5" y="494.8">D</text>
<text x="1013.3" y="32.9">E</text>
<text x="1012.7" y="495.9">F</text>
</g>
<text font-family="Liberation Serif, Times New Roman, serif" font-size="25" fill="#231f20" text-anchor="middle" transform="translate(370.5,213.5) rotate(-90)">Energy density</text>
<text font-family="Liberation Serif, Times New Roman, serif" font-size="25" fill="#231f20" text-anchor="middle" transform="translate(377.8,688.0) rotate(-90)">Energy density</text>
<text font-family="Liberation Serif, Times New Roman, serif" font-size="23.5" fill="#231f20" x="474.2" y="441.8"><tspan font-style="italic">h</tspan> = 0</text>
<text font-family="Liberation Serif, Times New Roman, serif" font-size="23.5" fill="#231f20" x="477.3" y="884.2"><tspan font-style="italic">h</tspan> = 0.06</text>
<text font-family="Liberation Serif, Times New Roman, serif" font-size="23.5" fill="#231f20" x="1072.2" y="442.1"><tspan font-style="italic">h</tspan> = 0.05</text>
<text font-family="Liberation Serif, Times New Roman, serif" font-size="23.5" fill="#231f20" x="1070.2" y="886.2"><tspan font-style="italic">h</tspan> = 0.07</text>
<rect x="353" y="354.7" width="45.3" height="201.6" fill="none" stroke="#231f20" stroke-width="1.3"/>
<text font-family="Liberation Serif, Times New Roman, serif" font-size="27" fill="#231f20" text-anchor="middle" transform="translate(386.8,454.5) rotate(-90)"><tspan font-style="italic">k</tspan><tspan font-size="18" dy="5">c</tspan><tspan dy="-5">=0.1, </tspan><tspan font-style="italic">b</tspan><tspan font-size="18" dy="5">ea</tspan><tspan dy="-5">=-0.13</tspan></text>
<circle cx="470.6" cy="335.4" r="4.6" fill="#12a5e0" stroke="#1b2a8a" stroke-width="1.3"/>
<circle cx="763.0" cy="416.1" r="4.6" fill="#12a5e0" stroke="#1b2a8a" stroke-width="1.3"/>
<circle cx="968.4" cy="301.4" r="4.6" fill="#12a5e0" stroke="#1b2a8a" stroke-width="1.3"/>
<g font-family="Liberation Serif, Times New Roman, serif" fill="#231f20"><text x="476.0" y="260.7" font-size="31" font-weight="bold">Q</text><text x="495.3" y="276.5" font-size="23">2</text></g>
<g font-family="Liberation Serif, Times New Roman, serif" fill="#231f20"><text x="929.9" y="270.7" font-size="31" font-weight="bold">Q</text><text x="949.4" y="283.1" font-size="23">3</text></g>
<g font-family="Liberation Serif, Times New Roman, serif" fill="#ffffff"><text x="736.5" y="360.9" font-size="31" font-weight="bold">Q</text><text x="761.3" y="375.5" font-size="23">1</text></g>
<circle cx="527.6" cy="793.6" r="4.6" fill="#12a5e0" stroke="#1b2a8a" stroke-width="1.3"/>
<circle cx="717.0" cy="844.5" r="4.6" fill="#12a5e0" stroke="#1b2a8a" stroke-width="1.3"/>
<circle cx="971.8" cy="640.9" r="4.6" fill="#12a5e0" stroke="#1b2a8a" stroke-width="1.3"/>
<g font-family="Liberation Serif, Times New Roman, serif" fill="#ffffff"><text x="517.3" y="767.5" font-size="31" font-weight="bold">Q</text><text x="539.5" y="782.2" font-size="23">2</text></g>
<g font-family="Liberation Serif, Times New Roman, serif" fill="#ffffff"><text x="708.2" y="823.5" font-size="31" font-weight="bold">Q</text><text x="732.5" y="837.0" font-size="23">1</text></g>
<g font-family="Liberation Serif, Times New Roman, serif" fill="#231f20"><text x="932.9" y="613.0" font-size="31" font-weight="bold">Q</text><text x="954.5" y="622.5" font-size="23">3</text></g>
<circle cx="1098.2" cy="346.2" r="4.6" fill="#12a5e0" stroke="#1b2a8a" stroke-width="1.3"/>
<circle cx="1335.9" cy="408.9" r="4.6" fill="#12a5e0" stroke="#1b2a8a" stroke-width="1.3"/>
<circle cx="1564.4" cy="232.4" r="4.6" fill="#12a5e0" stroke="#1b2a8a" stroke-width="1.3"/>
<g font-family="Liberation Serif, Times New Roman, serif" fill="#ffffff"><text x="1095.2" y="317.9" font-size="31" font-weight="bold">Q</text><text x="1117.4" y="330.0" font-size="23">2</text></g>
<g font-family="Liberation Serif, Times New Roman, serif" fill="#ffffff"><text x="1320.7" y="382.7" font-size="31" font-weight="bold">Q</text><text x="1343.0" y="394.8" font-size="23">1</text></g>
<g font-family="Liberation Serif, Times New Roman, serif" fill="#231f20"><text x="1532.9" y="202.7" font-size="31" font-weight="bold">Q</text><text x="1553.1" y="210.3" font-size="23">3</text></g>
<circle cx="1214.7" cy="820.5" r="4.6" fill="#12a5e0" stroke="#1b2a8a" stroke-width="1.3"/>
<circle cx="1563.7" cy="603.8" r="4.6" fill="#12a5e0" stroke="#1b2a8a" stroke-width="1.3"/>
<g font-family="Liberation Serif, Times New Roman, serif" fill="#ffffff"><text x="1209.6" y="802.4" font-size="31" font-weight="bold">Q</text><text x="1230.5" y="816.5" font-size="23">4</text></g>
<g font-family="Liberation Serif, Times New Roman, serif" fill="#231f20"><text x="1529.2" y="642.7" font-size="31" font-weight="bold">Q</text><text x="1550.2" y="650.3" font-size="23">3</text></g>
</svg>
</body></html>
